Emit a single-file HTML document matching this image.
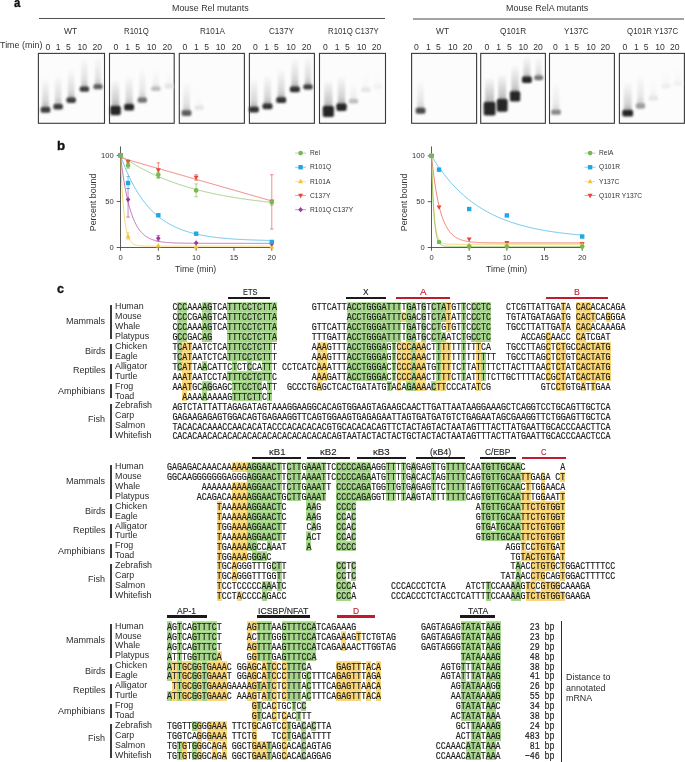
<!DOCTYPE html><html><head><meta charset="utf-8"><style>
*{margin:0;padding:0;box-sizing:border-box}
html,body{width:685px;height:762px;background:#fff;overflow:hidden}
body{position:relative}
.r,.sq,.L{position:absolute;white-space:pre}
.L{font-family:"Liberation Sans", sans-serif;transform-origin:0 0;opacity:0.999}
.sq{opacity:0.999;font-family:"Liberation Mono", monospace;font-size:8.3px;line-height:8.3px;color:#1a1a1a;transform:scaleY(1.27);transform-origin:0 6px;-webkit-text-stroke:0.15px #1a1a1a}
</style></head><body>
<div class="r" style="left:177.38px;top:301.83px;width:9.96px;height:9.94px;background:rgb(165,212,139);box-shadow:inset 0 0.8px rgba(255,255,255,0.3)"></div>
<div class="r" style="left:202.28px;top:301.83px;width:9.96px;height:9.94px;background:rgb(165,212,139);box-shadow:inset 0 0.8px rgba(255,255,255,0.3)"></div>
<div class="r" style="left:227.18px;top:301.83px;width:49.80px;height:9.94px;background:rgb(165,212,139);box-shadow:inset 0 0.8px rgba(255,255,255,0.3)"></div>
<div class="r" style="left:346.70px;top:301.83px;width:54.78px;height:9.94px;background:rgb(165,212,139);box-shadow:inset 0 0.8px rgba(255,255,255,0.3)"></div>
<div class="r" style="left:406.46px;top:301.83px;width:9.96px;height:9.94px;background:rgb(165,212,139);box-shadow:inset 0 0.8px rgba(255,255,255,0.3)"></div>
<div class="r" style="left:421.40px;top:301.83px;width:4.98px;height:9.94px;background:rgb(165,212,139);box-shadow:inset 0 0.8px rgba(255,255,255,0.3)"></div>
<div class="r" style="left:431.36px;top:301.83px;width:14.94px;height:9.94px;background:rgb(165,212,139);box-shadow:inset 0 0.8px rgba(255,255,255,0.3)"></div>
<div class="r" style="left:446.30px;top:301.83px;width:4.98px;height:9.94px;background:rgb(248,213,120);box-shadow:inset 0 0.8px rgba(255,255,255,0.3)"></div>
<div class="r" style="left:461.24px;top:301.83px;width:4.98px;height:9.94px;background:rgb(165,212,139);box-shadow:inset 0 0.8px rgba(255,255,255,0.3)"></div>
<div class="r" style="left:471.20px;top:301.83px;width:19.92px;height:9.94px;background:rgb(165,212,139);box-shadow:inset 0 0.8px rgba(255,255,255,0.3)"></div>
<div class="r" style="left:560.84px;top:301.83px;width:4.98px;height:9.94px;background:rgb(248,213,120);box-shadow:inset 0 0.8px rgba(255,255,255,0.3)"></div>
<div class="r" style="left:575.78px;top:301.83px;width:14.94px;height:9.94px;background:rgb(248,213,120);box-shadow:inset 0 0.8px rgba(255,255,255,0.3)"></div>
<div class="r" style="left:177.38px;top:311.77px;width:9.96px;height:9.94px;background:rgb(165,212,139);box-shadow:inset 0 0.8px rgba(255,255,255,0.3)"></div>
<div class="r" style="left:202.28px;top:311.77px;width:9.96px;height:9.94px;background:rgb(165,212,139);box-shadow:inset 0 0.8px rgba(255,255,255,0.3)"></div>
<div class="r" style="left:227.18px;top:311.77px;width:49.80px;height:9.94px;background:rgb(165,212,139);box-shadow:inset 0 0.8px rgba(255,255,255,0.3)"></div>
<div class="r" style="left:346.70px;top:311.77px;width:54.78px;height:9.94px;background:rgb(165,212,139);box-shadow:inset 0 0.8px rgba(255,255,255,0.3)"></div>
<div class="r" style="left:401.48px;top:311.77px;width:4.98px;height:9.94px;background:rgb(248,213,120);box-shadow:inset 0 0.8px rgba(255,255,255,0.3)"></div>
<div class="r" style="left:406.46px;top:311.77px;width:9.96px;height:9.94px;background:rgb(165,212,139);box-shadow:inset 0 0.8px rgba(255,255,255,0.3)"></div>
<div class="r" style="left:421.40px;top:311.77px;width:4.98px;height:9.94px;background:rgb(165,212,139);box-shadow:inset 0 0.8px rgba(255,255,255,0.3)"></div>
<div class="r" style="left:431.36px;top:311.77px;width:14.94px;height:9.94px;background:rgb(165,212,139);box-shadow:inset 0 0.8px rgba(255,255,255,0.3)"></div>
<div class="r" style="left:446.30px;top:311.77px;width:4.98px;height:9.94px;background:rgb(248,213,120);box-shadow:inset 0 0.8px rgba(255,255,255,0.3)"></div>
<div class="r" style="left:461.24px;top:311.77px;width:4.98px;height:9.94px;background:rgb(165,212,139);box-shadow:inset 0 0.8px rgba(255,255,255,0.3)"></div>
<div class="r" style="left:471.20px;top:311.77px;width:19.92px;height:9.94px;background:rgb(165,212,139);box-shadow:inset 0 0.8px rgba(255,255,255,0.3)"></div>
<div class="r" style="left:560.84px;top:311.77px;width:4.98px;height:9.94px;background:rgb(248,213,120);box-shadow:inset 0 0.8px rgba(255,255,255,0.3)"></div>
<div class="r" style="left:575.78px;top:311.77px;width:19.92px;height:9.94px;background:rgb(248,213,120);box-shadow:inset 0 0.8px rgba(255,255,255,0.3)"></div>
<div class="r" style="left:605.66px;top:311.77px;width:4.98px;height:9.94px;background:rgb(248,213,120);box-shadow:inset 0 0.8px rgba(255,255,255,0.3)"></div>
<div class="r" style="left:177.38px;top:321.71px;width:9.96px;height:9.94px;background:rgb(165,212,139);box-shadow:inset 0 0.8px rgba(255,255,255,0.3)"></div>
<div class="r" style="left:202.28px;top:321.71px;width:9.96px;height:9.94px;background:rgb(165,212,139);box-shadow:inset 0 0.8px rgba(255,255,255,0.3)"></div>
<div class="r" style="left:227.18px;top:321.71px;width:49.80px;height:9.94px;background:rgb(165,212,139);box-shadow:inset 0 0.8px rgba(255,255,255,0.3)"></div>
<div class="r" style="left:346.70px;top:321.71px;width:54.78px;height:9.94px;background:rgb(165,212,139);box-shadow:inset 0 0.8px rgba(255,255,255,0.3)"></div>
<div class="r" style="left:406.46px;top:321.71px;width:9.96px;height:9.94px;background:rgb(165,212,139);box-shadow:inset 0 0.8px rgba(255,255,255,0.3)"></div>
<div class="r" style="left:421.40px;top:321.71px;width:4.98px;height:9.94px;background:rgb(165,212,139);box-shadow:inset 0 0.8px rgba(255,255,255,0.3)"></div>
<div class="r" style="left:431.36px;top:321.71px;width:9.96px;height:9.94px;background:rgb(165,212,139);box-shadow:inset 0 0.8px rgba(255,255,255,0.3)"></div>
<div class="r" style="left:446.30px;top:321.71px;width:4.98px;height:9.94px;background:rgb(248,213,120);box-shadow:inset 0 0.8px rgba(255,255,255,0.3)"></div>
<div class="r" style="left:461.24px;top:321.71px;width:4.98px;height:9.94px;background:rgb(165,212,139);box-shadow:inset 0 0.8px rgba(255,255,255,0.3)"></div>
<div class="r" style="left:471.20px;top:321.71px;width:19.92px;height:9.94px;background:rgb(165,212,139);box-shadow:inset 0 0.8px rgba(255,255,255,0.3)"></div>
<div class="r" style="left:560.84px;top:321.71px;width:4.98px;height:9.94px;background:rgb(248,213,120);box-shadow:inset 0 0.8px rgba(255,255,255,0.3)"></div>
<div class="r" style="left:575.78px;top:321.71px;width:14.94px;height:9.94px;background:rgb(248,213,120);box-shadow:inset 0 0.8px rgba(255,255,255,0.3)"></div>
<div class="r" style="left:177.38px;top:331.65px;width:9.96px;height:9.94px;background:rgb(165,212,139);box-shadow:inset 0 0.8px rgba(255,255,255,0.3)"></div>
<div class="r" style="left:202.28px;top:331.65px;width:9.96px;height:9.94px;background:rgb(165,212,139);box-shadow:inset 0 0.8px rgba(255,255,255,0.3)"></div>
<div class="r" style="left:227.18px;top:331.65px;width:49.80px;height:9.94px;background:rgb(165,212,139);box-shadow:inset 0 0.8px rgba(255,255,255,0.3)"></div>
<div class="r" style="left:346.70px;top:331.65px;width:54.78px;height:9.94px;background:rgb(165,212,139);box-shadow:inset 0 0.8px rgba(255,255,255,0.3)"></div>
<div class="r" style="left:406.46px;top:331.65px;width:9.96px;height:9.94px;background:rgb(165,212,139);box-shadow:inset 0 0.8px rgba(255,255,255,0.3)"></div>
<div class="r" style="left:421.40px;top:331.65px;width:4.98px;height:9.94px;background:rgb(165,212,139);box-shadow:inset 0 0.8px rgba(255,255,255,0.3)"></div>
<div class="r" style="left:431.36px;top:331.65px;width:14.94px;height:9.94px;background:rgb(165,212,139);box-shadow:inset 0 0.8px rgba(255,255,255,0.3)"></div>
<div class="r" style="left:461.24px;top:331.65px;width:4.98px;height:9.94px;background:rgb(165,212,139);box-shadow:inset 0 0.8px rgba(255,255,255,0.3)"></div>
<div class="r" style="left:471.20px;top:331.65px;width:19.92px;height:9.94px;background:rgb(165,212,139);box-shadow:inset 0 0.8px rgba(255,255,255,0.3)"></div>
<div class="r" style="left:545.90px;top:331.65px;width:4.98px;height:9.94px;background:rgb(248,213,120);box-shadow:inset 0 0.8px rgba(255,255,255,0.3)"></div>
<div class="r" style="left:575.78px;top:331.65px;width:9.96px;height:9.94px;background:rgb(248,213,120);box-shadow:inset 0 0.8px rgba(255,255,255,0.3)"></div>
<div class="r" style="left:177.38px;top:341.59px;width:4.98px;height:9.94px;background:rgb(165,212,139);box-shadow:inset 0 0.8px rgba(255,255,255,0.3)"></div>
<div class="r" style="left:182.36px;top:341.59px;width:9.96px;height:9.94px;background:rgb(248,213,120);box-shadow:inset 0 0.8px rgba(255,255,255,0.3)"></div>
<div class="r" style="left:227.18px;top:341.59px;width:44.82px;height:9.94px;background:rgb(165,212,139);box-shadow:inset 0 0.8px rgba(255,255,255,0.3)"></div>
<div class="r" style="left:316.82px;top:341.59px;width:9.96px;height:9.94px;background:rgb(248,213,120);box-shadow:inset 0 0.8px rgba(255,255,255,0.3)"></div>
<div class="r" style="left:346.70px;top:341.59px;width:39.84px;height:9.94px;background:rgb(165,212,139);box-shadow:inset 0 0.8px rgba(255,255,255,0.3)"></div>
<div class="r" style="left:391.52px;top:341.59px;width:4.98px;height:9.94px;background:rgb(165,212,139);box-shadow:inset 0 0.8px rgba(255,255,255,0.3)"></div>
<div class="r" style="left:396.50px;top:341.59px;width:14.94px;height:9.94px;background:rgb(248,213,120);box-shadow:inset 0 0.8px rgba(255,255,255,0.3)"></div>
<div class="r" style="left:411.44px;top:341.59px;width:4.98px;height:9.94px;background:rgb(165,212,139);box-shadow:inset 0 0.8px rgba(255,255,255,0.3)"></div>
<div class="r" style="left:416.42px;top:341.59px;width:9.96px;height:9.94px;background:rgb(248,213,120);box-shadow:inset 0 0.8px rgba(255,255,255,0.3)"></div>
<div class="r" style="left:436.34px;top:341.59px;width:4.98px;height:9.94px;background:rgb(165,212,139);box-shadow:inset 0 0.8px rgba(255,255,255,0.3)"></div>
<div class="r" style="left:441.32px;top:341.59px;width:9.96px;height:9.94px;background:rgb(248,213,120);box-shadow:inset 0 0.8px rgba(255,255,255,0.3)"></div>
<div class="r" style="left:461.24px;top:341.59px;width:4.98px;height:9.94px;background:rgb(165,212,139);box-shadow:inset 0 0.8px rgba(255,255,255,0.3)"></div>
<div class="r" style="left:476.18px;top:341.59px;width:4.98px;height:9.94px;background:rgb(248,213,120);box-shadow:inset 0 0.8px rgba(255,255,255,0.3)"></div>
<div class="r" style="left:545.90px;top:341.59px;width:4.98px;height:9.94px;background:rgb(248,213,120);box-shadow:inset 0 0.8px rgba(255,255,255,0.3)"></div>
<div class="r" style="left:555.86px;top:341.59px;width:9.96px;height:9.94px;background:rgb(248,213,120);box-shadow:inset 0 0.8px rgba(255,255,255,0.3)"></div>
<div class="r" style="left:575.78px;top:341.59px;width:34.86px;height:9.94px;background:rgb(248,213,120);box-shadow:inset 0 0.8px rgba(255,255,255,0.3)"></div>
<div class="r" style="left:177.38px;top:351.53px;width:4.98px;height:9.94px;background:rgb(165,212,139);box-shadow:inset 0 0.8px rgba(255,255,255,0.3)"></div>
<div class="r" style="left:182.36px;top:351.53px;width:9.96px;height:9.94px;background:rgb(248,213,120);box-shadow:inset 0 0.8px rgba(255,255,255,0.3)"></div>
<div class="r" style="left:227.18px;top:351.53px;width:44.82px;height:9.94px;background:rgb(165,212,139);box-shadow:inset 0 0.8px rgba(255,255,255,0.3)"></div>
<div class="r" style="left:316.82px;top:351.53px;width:9.96px;height:9.94px;background:rgb(248,213,120);box-shadow:inset 0 0.8px rgba(255,255,255,0.3)"></div>
<div class="r" style="left:346.70px;top:351.53px;width:39.84px;height:9.94px;background:rgb(165,212,139);box-shadow:inset 0 0.8px rgba(255,255,255,0.3)"></div>
<div class="r" style="left:391.52px;top:351.53px;width:4.98px;height:9.94px;background:rgb(165,212,139);box-shadow:inset 0 0.8px rgba(255,255,255,0.3)"></div>
<div class="r" style="left:396.50px;top:351.53px;width:14.94px;height:9.94px;background:rgb(248,213,120);box-shadow:inset 0 0.8px rgba(255,255,255,0.3)"></div>
<div class="r" style="left:411.44px;top:351.53px;width:4.98px;height:9.94px;background:rgb(165,212,139);box-shadow:inset 0 0.8px rgba(255,255,255,0.3)"></div>
<div class="r" style="left:416.42px;top:351.53px;width:9.96px;height:9.94px;background:rgb(248,213,120);box-shadow:inset 0 0.8px rgba(255,255,255,0.3)"></div>
<div class="r" style="left:436.34px;top:351.53px;width:4.98px;height:9.94px;background:rgb(165,212,139);box-shadow:inset 0 0.8px rgba(255,255,255,0.3)"></div>
<div class="r" style="left:441.32px;top:351.53px;width:9.96px;height:9.94px;background:rgb(248,213,120);box-shadow:inset 0 0.8px rgba(255,255,255,0.3)"></div>
<div class="r" style="left:461.24px;top:351.53px;width:4.98px;height:9.94px;background:rgb(165,212,139);box-shadow:inset 0 0.8px rgba(255,255,255,0.3)"></div>
<div class="r" style="left:476.18px;top:351.53px;width:4.98px;height:9.94px;background:rgb(248,213,120);box-shadow:inset 0 0.8px rgba(255,255,255,0.3)"></div>
<div class="r" style="left:481.16px;top:351.53px;width:4.98px;height:9.94px;background:rgb(165,212,139);box-shadow:inset 0 0.8px rgba(255,255,255,0.3)"></div>
<div class="r" style="left:545.90px;top:351.53px;width:4.98px;height:9.94px;background:rgb(248,213,120);box-shadow:inset 0 0.8px rgba(255,255,255,0.3)"></div>
<div class="r" style="left:555.86px;top:351.53px;width:9.96px;height:9.94px;background:rgb(248,213,120);box-shadow:inset 0 0.8px rgba(255,255,255,0.3)"></div>
<div class="r" style="left:575.78px;top:351.53px;width:34.86px;height:9.94px;background:rgb(248,213,120);box-shadow:inset 0 0.8px rgba(255,255,255,0.3)"></div>
<div class="r" style="left:177.38px;top:361.47px;width:4.98px;height:9.94px;background:rgb(165,212,139);box-shadow:inset 0 0.8px rgba(255,255,255,0.3)"></div>
<div class="r" style="left:182.36px;top:361.47px;width:9.96px;height:9.94px;background:rgb(248,213,120);box-shadow:inset 0 0.8px rgba(255,255,255,0.3)"></div>
<div class="r" style="left:202.28px;top:361.47px;width:4.98px;height:9.94px;background:rgb(165,212,139);box-shadow:inset 0 0.8px rgba(255,255,255,0.3)"></div>
<div class="r" style="left:232.16px;top:361.47px;width:4.98px;height:9.94px;background:rgb(165,212,139);box-shadow:inset 0 0.8px rgba(255,255,255,0.3)"></div>
<div class="r" style="left:247.10px;top:361.47px;width:4.98px;height:9.94px;background:rgb(165,212,139);box-shadow:inset 0 0.8px rgba(255,255,255,0.3)"></div>
<div class="r" style="left:262.04px;top:361.47px;width:9.96px;height:9.94px;background:rgb(165,212,139);box-shadow:inset 0 0.8px rgba(255,255,255,0.3)"></div>
<div class="r" style="left:316.82px;top:361.47px;width:9.96px;height:9.94px;background:rgb(248,213,120);box-shadow:inset 0 0.8px rgba(255,255,255,0.3)"></div>
<div class="r" style="left:346.70px;top:361.47px;width:39.84px;height:9.94px;background:rgb(165,212,139);box-shadow:inset 0 0.8px rgba(255,255,255,0.3)"></div>
<div class="r" style="left:391.52px;top:361.47px;width:4.98px;height:9.94px;background:rgb(165,212,139);box-shadow:inset 0 0.8px rgba(255,255,255,0.3)"></div>
<div class="r" style="left:396.50px;top:361.47px;width:14.94px;height:9.94px;background:rgb(248,213,120);box-shadow:inset 0 0.8px rgba(255,255,255,0.3)"></div>
<div class="r" style="left:411.44px;top:361.47px;width:4.98px;height:9.94px;background:rgb(165,212,139);box-shadow:inset 0 0.8px rgba(255,255,255,0.3)"></div>
<div class="r" style="left:416.42px;top:361.47px;width:9.96px;height:9.94px;background:rgb(248,213,120);box-shadow:inset 0 0.8px rgba(255,255,255,0.3)"></div>
<div class="r" style="left:436.34px;top:361.47px;width:4.98px;height:9.94px;background:rgb(165,212,139);box-shadow:inset 0 0.8px rgba(255,255,255,0.3)"></div>
<div class="r" style="left:441.32px;top:361.47px;width:9.96px;height:9.94px;background:rgb(248,213,120);box-shadow:inset 0 0.8px rgba(255,255,255,0.3)"></div>
<div class="r" style="left:461.24px;top:361.47px;width:4.98px;height:9.94px;background:rgb(165,212,139);box-shadow:inset 0 0.8px rgba(255,255,255,0.3)"></div>
<div class="r" style="left:476.18px;top:361.47px;width:4.98px;height:9.94px;background:rgb(248,213,120);box-shadow:inset 0 0.8px rgba(255,255,255,0.3)"></div>
<div class="r" style="left:481.16px;top:361.47px;width:4.98px;height:9.94px;background:rgb(165,212,139);box-shadow:inset 0 0.8px rgba(255,255,255,0.3)"></div>
<div class="r" style="left:545.90px;top:361.47px;width:4.98px;height:9.94px;background:rgb(248,213,120);box-shadow:inset 0 0.8px rgba(255,255,255,0.3)"></div>
<div class="r" style="left:555.86px;top:361.47px;width:9.96px;height:9.94px;background:rgb(248,213,120);box-shadow:inset 0 0.8px rgba(255,255,255,0.3)"></div>
<div class="r" style="left:575.78px;top:361.47px;width:34.86px;height:9.94px;background:rgb(248,213,120);box-shadow:inset 0 0.8px rgba(255,255,255,0.3)"></div>
<div class="r" style="left:182.36px;top:371.41px;width:9.96px;height:9.94px;background:rgb(248,213,120);box-shadow:inset 0 0.8px rgba(255,255,255,0.3)"></div>
<div class="r" style="left:227.18px;top:371.41px;width:44.82px;height:9.94px;background:rgb(165,212,139);box-shadow:inset 0 0.8px rgba(255,255,255,0.3)"></div>
<div class="r" style="left:316.82px;top:371.41px;width:9.96px;height:9.94px;background:rgb(248,213,120);box-shadow:inset 0 0.8px rgba(255,255,255,0.3)"></div>
<div class="r" style="left:346.70px;top:371.41px;width:39.84px;height:9.94px;background:rgb(165,212,139);box-shadow:inset 0 0.8px rgba(255,255,255,0.3)"></div>
<div class="r" style="left:391.52px;top:371.41px;width:4.98px;height:9.94px;background:rgb(165,212,139);box-shadow:inset 0 0.8px rgba(255,255,255,0.3)"></div>
<div class="r" style="left:396.50px;top:371.41px;width:14.94px;height:9.94px;background:rgb(248,213,120);box-shadow:inset 0 0.8px rgba(255,255,255,0.3)"></div>
<div class="r" style="left:411.44px;top:371.41px;width:4.98px;height:9.94px;background:rgb(165,212,139);box-shadow:inset 0 0.8px rgba(255,255,255,0.3)"></div>
<div class="r" style="left:416.42px;top:371.41px;width:9.96px;height:9.94px;background:rgb(248,213,120);box-shadow:inset 0 0.8px rgba(255,255,255,0.3)"></div>
<div class="r" style="left:436.34px;top:371.41px;width:4.98px;height:9.94px;background:rgb(165,212,139);box-shadow:inset 0 0.8px rgba(255,255,255,0.3)"></div>
<div class="r" style="left:441.32px;top:371.41px;width:9.96px;height:9.94px;background:rgb(248,213,120);box-shadow:inset 0 0.8px rgba(255,255,255,0.3)"></div>
<div class="r" style="left:461.24px;top:371.41px;width:4.98px;height:9.94px;background:rgb(165,212,139);box-shadow:inset 0 0.8px rgba(255,255,255,0.3)"></div>
<div class="r" style="left:476.18px;top:371.41px;width:4.98px;height:9.94px;background:rgb(248,213,120);box-shadow:inset 0 0.8px rgba(255,255,255,0.3)"></div>
<div class="r" style="left:481.16px;top:371.41px;width:4.98px;height:9.94px;background:rgb(165,212,139);box-shadow:inset 0 0.8px rgba(255,255,255,0.3)"></div>
<div class="r" style="left:545.90px;top:371.41px;width:4.98px;height:9.94px;background:rgb(248,213,120);box-shadow:inset 0 0.8px rgba(255,255,255,0.3)"></div>
<div class="r" style="left:555.86px;top:371.41px;width:9.96px;height:9.94px;background:rgb(248,213,120);box-shadow:inset 0 0.8px rgba(255,255,255,0.3)"></div>
<div class="r" style="left:575.78px;top:371.41px;width:34.86px;height:9.94px;background:rgb(248,213,120);box-shadow:inset 0 0.8px rgba(255,255,255,0.3)"></div>
<div class="r" style="left:182.36px;top:381.35px;width:9.96px;height:9.94px;background:rgb(248,213,120);box-shadow:inset 0 0.8px rgba(255,255,255,0.3)"></div>
<div class="r" style="left:202.28px;top:381.35px;width:9.96px;height:9.94px;background:rgb(165,212,139);box-shadow:inset 0 0.8px rgba(255,255,255,0.3)"></div>
<div class="r" style="left:232.16px;top:381.35px;width:29.88px;height:9.94px;background:rgb(165,212,139);box-shadow:inset 0 0.8px rgba(255,255,255,0.3)"></div>
<div class="r" style="left:267.02px;top:381.35px;width:4.98px;height:9.94px;background:rgb(165,212,139);box-shadow:inset 0 0.8px rgba(255,255,255,0.3)"></div>
<div class="r" style="left:316.82px;top:381.35px;width:4.98px;height:9.94px;background:rgb(248,213,120);box-shadow:inset 0 0.8px rgba(255,255,255,0.3)"></div>
<div class="r" style="left:386.54px;top:381.35px;width:4.98px;height:9.94px;background:rgb(165,212,139);box-shadow:inset 0 0.8px rgba(255,255,255,0.3)"></div>
<div class="r" style="left:396.50px;top:381.35px;width:4.98px;height:9.94px;background:rgb(248,213,120);box-shadow:inset 0 0.8px rgba(255,255,255,0.3)"></div>
<div class="r" style="left:406.46px;top:381.35px;width:9.96px;height:9.94px;background:rgb(165,212,139);box-shadow:inset 0 0.8px rgba(255,255,255,0.3)"></div>
<div class="r" style="left:416.42px;top:381.35px;width:9.96px;height:9.94px;background:rgb(248,213,120);box-shadow:inset 0 0.8px rgba(255,255,255,0.3)"></div>
<div class="r" style="left:431.36px;top:381.35px;width:4.98px;height:9.94px;background:rgb(165,212,139);box-shadow:inset 0 0.8px rgba(255,255,255,0.3)"></div>
<div class="r" style="left:436.34px;top:381.35px;width:9.96px;height:9.94px;background:rgb(248,213,120);box-shadow:inset 0 0.8px rgba(255,255,255,0.3)"></div>
<div class="r" style="left:476.18px;top:381.35px;width:4.98px;height:9.94px;background:rgb(248,213,120);box-shadow:inset 0 0.8px rgba(255,255,255,0.3)"></div>
<div class="r" style="left:555.86px;top:381.35px;width:9.96px;height:9.94px;background:rgb(248,213,120);box-shadow:inset 0 0.8px rgba(255,255,255,0.3)"></div>
<div class="r" style="left:580.76px;top:381.35px;width:4.98px;height:9.94px;background:rgb(248,213,120);box-shadow:inset 0 0.8px rgba(255,255,255,0.3)"></div>
<div class="r" style="left:590.72px;top:381.35px;width:4.98px;height:9.94px;background:rgb(248,213,120);box-shadow:inset 0 0.8px rgba(255,255,255,0.3)"></div>
<div class="r" style="left:182.36px;top:391.29px;width:4.98px;height:9.94px;background:rgb(248,213,120);box-shadow:inset 0 0.8px rgba(255,255,255,0.3)"></div>
<div class="r" style="left:202.28px;top:391.29px;width:4.98px;height:9.94px;background:rgb(165,212,139);box-shadow:inset 0 0.8px rgba(255,255,255,0.3)"></div>
<div class="r" style="left:232.16px;top:391.29px;width:29.88px;height:9.94px;background:rgb(165,212,139);box-shadow:inset 0 0.8px rgba(255,255,255,0.3)"></div>
<div class="r" style="left:267.02px;top:391.29px;width:4.98px;height:9.94px;background:rgb(165,212,139);box-shadow:inset 0 0.8px rgba(255,255,255,0.3)"></div>
<div class="sq" style="left:172.40px;top:304.24px">CCCAAAAGTCATTTCCTCTTA       GTTCATTACCTGGGATTTTGATGTCTATGTTCCCTC   CTCGTTATTGATA CACACACAGA</div>
<div class="sq" style="left:172.40px;top:314.18px">CCCCGAAGTCATTTCCTCTTA              ACCTGGGATTTCGACGTCTATATTCCCTC   TGTATGATAGATG CACTCAGGGA</div>
<div class="sq" style="left:172.40px;top:324.12px">CCCAAAAGTCATTTCCTCTTA       GTTCATTACCTGGGATTTTGATGCCTGTGTTCCCTC   TGCCTTATTGATA CACACAAAGA</div>
<div class="sq" style="left:172.40px;top:334.06px">GCCGACAG   TTTCCTCTTA       TTTGATTACCTGGGATTTTGATGCCTAATCTGCCTC      ACCAGCAACC CATCGAT</div>
<div class="sq" style="left:172.40px;top:344.00px">TCATAATCTCATTTCCTCTTT       AAAGTTTACCTGGGAGTCCCAAACTTTTTTTTTTCA   TGCCTTAGCTCTGCCACTATG</div>
<div class="sq" style="left:172.40px;top:353.94px">TCATAATCTCATTTCCTCTTT       AAAGTTTACCTGGGAGTCCCAAACTTTTTTTTTTTTT  TGCCTTAGCTCTGTCACTATG</div>
<div class="sq" style="left:172.40px;top:363.88px">TCATTAACATTCTCTCCATTT CCTCATCAAATTTACCTGGGACTCCCAAATGTTTTCTTATTTTCTTACTTTAACTCTATCACTATG</div>
<div class="sq" style="left:172.40px;top:373.82px">AAATAATCCTATTTCCTCTTC       AAAGATTACCTGGGACTCCCAAACTTTTCTTATTTTCTTGCTTTTACCGCTATCACTATG</div>
<div class="sq" style="left:172.40px;top:383.76px">AAATGCAGGAGCTTCCTCATT  GCCCTGAGCTCACTGATATGTACAGAAAACTTCCCATATCG          GTCCTGTGATTGAA</div>
<div class="sq" style="left:172.40px;top:393.70px">  AAAAAAAAAGTTTCTTCT</div>
<div class="sq" style="left:172.40px;top:403.64px">AGTCTATTATTAGAGATAGTAAAGGAAGGCACAGTGGAAGTAGAAGCAACTTGATTAATAAGGAAAGCTCAGGTCCTGCAGTTGCTCA</div>
<div class="sq" style="left:172.40px;top:413.58px">GAGAAGAGAGTGGACAGTGAGAAGGTTCAGTGGAAGTGAGAGAATTAGTGATGATGTCTGAGAATAGCGAAGGTTCTGGAGTTGCTCA</div>
<div class="sq" style="left:172.40px;top:423.52px">TACACACAAACCAACACATACCCACACACACGTGCACACACAGTTCTACTAGTACTAATAGTTTACTTATGAATTGCACCCAACTTCA</div>
<div class="sq" style="left:172.40px;top:433.46px">CACACAACACACACACACACACACACACACACAGTAATACTACTACTGCTACTACTAATAGTTTACTTATGAATTGCACCCAACTCCA</div>
<div class="r" style="left:231.74px;top:461.63px;width:14.94px;height:9.94px;background:rgb(248,213,120);box-shadow:inset 0 0.8px rgba(255,255,255,0.3)"></div>
<div class="r" style="left:246.68px;top:461.63px;width:34.86px;height:9.94px;background:rgb(165,212,139);box-shadow:inset 0 0.8px rgba(255,255,255,0.3)"></div>
<div class="r" style="left:286.52px;top:461.63px;width:14.94px;height:9.94px;background:rgb(165,212,139);box-shadow:inset 0 0.8px rgba(255,255,255,0.3)"></div>
<div class="r" style="left:306.44px;top:461.63px;width:19.92px;height:9.94px;background:rgb(165,212,139);box-shadow:inset 0 0.8px rgba(255,255,255,0.3)"></div>
<div class="r" style="left:336.32px;top:461.63px;width:34.86px;height:9.94px;background:rgb(165,212,139);box-shadow:inset 0 0.8px rgba(255,255,255,0.3)"></div>
<div class="r" style="left:386.12px;top:461.63px;width:9.96px;height:9.94px;background:rgb(165,212,139);box-shadow:inset 0 0.8px rgba(255,255,255,0.3)"></div>
<div class="r" style="left:401.06px;top:461.63px;width:4.98px;height:9.94px;background:rgb(165,212,139);box-shadow:inset 0 0.8px rgba(255,255,255,0.3)"></div>
<div class="r" style="left:411.02px;top:461.63px;width:4.98px;height:9.94px;background:rgb(165,212,139);box-shadow:inset 0 0.8px rgba(255,255,255,0.3)"></div>
<div class="r" style="left:430.94px;top:461.63px;width:4.98px;height:9.94px;background:rgb(165,212,139);box-shadow:inset 0 0.8px rgba(255,255,255,0.3)"></div>
<div class="r" style="left:445.88px;top:461.63px;width:19.92px;height:9.94px;background:rgb(165,212,139);box-shadow:inset 0 0.8px rgba(255,255,255,0.3)"></div>
<div class="r" style="left:480.74px;top:461.63px;width:39.84px;height:9.94px;background:rgb(165,212,139);box-shadow:inset 0 0.8px rgba(255,255,255,0.3)"></div>
<div class="r" style="left:246.68px;top:471.57px;width:34.86px;height:9.94px;background:rgb(165,212,139);box-shadow:inset 0 0.8px rgba(255,255,255,0.3)"></div>
<div class="r" style="left:286.52px;top:471.57px;width:14.94px;height:9.94px;background:rgb(165,212,139);box-shadow:inset 0 0.8px rgba(255,255,255,0.3)"></div>
<div class="r" style="left:306.44px;top:471.57px;width:19.92px;height:9.94px;background:rgb(165,212,139);box-shadow:inset 0 0.8px rgba(255,255,255,0.3)"></div>
<div class="r" style="left:336.32px;top:471.57px;width:34.86px;height:9.94px;background:rgb(165,212,139);box-shadow:inset 0 0.8px rgba(255,255,255,0.3)"></div>
<div class="r" style="left:386.12px;top:471.57px;width:9.96px;height:9.94px;background:rgb(165,212,139);box-shadow:inset 0 0.8px rgba(255,255,255,0.3)"></div>
<div class="r" style="left:401.06px;top:471.57px;width:4.98px;height:9.94px;background:rgb(165,212,139);box-shadow:inset 0 0.8px rgba(255,255,255,0.3)"></div>
<div class="r" style="left:411.02px;top:471.57px;width:4.98px;height:9.94px;background:rgb(165,212,139);box-shadow:inset 0 0.8px rgba(255,255,255,0.3)"></div>
<div class="r" style="left:430.94px;top:471.57px;width:4.98px;height:9.94px;background:rgb(165,212,139);box-shadow:inset 0 0.8px rgba(255,255,255,0.3)"></div>
<div class="r" style="left:445.88px;top:471.57px;width:19.92px;height:9.94px;background:rgb(165,212,139);box-shadow:inset 0 0.8px rgba(255,255,255,0.3)"></div>
<div class="r" style="left:480.74px;top:471.57px;width:39.84px;height:9.94px;background:rgb(165,212,139);box-shadow:inset 0 0.8px rgba(255,255,255,0.3)"></div>
<div class="r" style="left:520.58px;top:471.57px;width:9.96px;height:9.94px;background:rgb(248,213,120);box-shadow:inset 0 0.8px rgba(255,255,255,0.3)"></div>
<div class="r" style="left:540.50px;top:471.57px;width:4.98px;height:9.94px;background:rgb(248,213,120);box-shadow:inset 0 0.8px rgba(255,255,255,0.3)"></div>
<div class="r" style="left:560.42px;top:471.57px;width:4.98px;height:9.94px;background:rgb(248,213,120);box-shadow:inset 0 0.8px rgba(255,255,255,0.3)"></div>
<div class="r" style="left:231.74px;top:481.51px;width:14.94px;height:9.94px;background:rgb(248,213,120);box-shadow:inset 0 0.8px rgba(255,255,255,0.3)"></div>
<div class="r" style="left:246.68px;top:481.51px;width:34.86px;height:9.94px;background:rgb(165,212,139);box-shadow:inset 0 0.8px rgba(255,255,255,0.3)"></div>
<div class="r" style="left:286.52px;top:481.51px;width:14.94px;height:9.94px;background:rgb(165,212,139);box-shadow:inset 0 0.8px rgba(255,255,255,0.3)"></div>
<div class="r" style="left:306.44px;top:481.51px;width:19.92px;height:9.94px;background:rgb(165,212,139);box-shadow:inset 0 0.8px rgba(255,255,255,0.3)"></div>
<div class="r" style="left:336.32px;top:481.51px;width:34.86px;height:9.94px;background:rgb(165,212,139);box-shadow:inset 0 0.8px rgba(255,255,255,0.3)"></div>
<div class="r" style="left:386.12px;top:481.51px;width:9.96px;height:9.94px;background:rgb(165,212,139);box-shadow:inset 0 0.8px rgba(255,255,255,0.3)"></div>
<div class="r" style="left:401.06px;top:481.51px;width:4.98px;height:9.94px;background:rgb(165,212,139);box-shadow:inset 0 0.8px rgba(255,255,255,0.3)"></div>
<div class="r" style="left:411.02px;top:481.51px;width:4.98px;height:9.94px;background:rgb(165,212,139);box-shadow:inset 0 0.8px rgba(255,255,255,0.3)"></div>
<div class="r" style="left:430.94px;top:481.51px;width:4.98px;height:9.94px;background:rgb(165,212,139);box-shadow:inset 0 0.8px rgba(255,255,255,0.3)"></div>
<div class="r" style="left:445.88px;top:481.51px;width:19.92px;height:9.94px;background:rgb(165,212,139);box-shadow:inset 0 0.8px rgba(255,255,255,0.3)"></div>
<div class="r" style="left:480.74px;top:481.51px;width:39.84px;height:9.94px;background:rgb(165,212,139);box-shadow:inset 0 0.8px rgba(255,255,255,0.3)"></div>
<div class="r" style="left:525.56px;top:481.51px;width:4.98px;height:9.94px;background:rgb(248,213,120);box-shadow:inset 0 0.8px rgba(255,255,255,0.3)"></div>
<div class="r" style="left:540.50px;top:481.51px;width:4.98px;height:9.94px;background:rgb(248,213,120);box-shadow:inset 0 0.8px rgba(255,255,255,0.3)"></div>
<div class="r" style="left:231.74px;top:491.45px;width:14.94px;height:9.94px;background:rgb(248,213,120);box-shadow:inset 0 0.8px rgba(255,255,255,0.3)"></div>
<div class="r" style="left:246.68px;top:491.45px;width:34.86px;height:9.94px;background:rgb(165,212,139);box-shadow:inset 0 0.8px rgba(255,255,255,0.3)"></div>
<div class="r" style="left:286.52px;top:491.45px;width:14.94px;height:9.94px;background:rgb(165,212,139);box-shadow:inset 0 0.8px rgba(255,255,255,0.3)"></div>
<div class="r" style="left:306.44px;top:491.45px;width:19.92px;height:9.94px;background:rgb(165,212,139);box-shadow:inset 0 0.8px rgba(255,255,255,0.3)"></div>
<div class="r" style="left:336.32px;top:491.45px;width:34.86px;height:9.94px;background:rgb(165,212,139);box-shadow:inset 0 0.8px rgba(255,255,255,0.3)"></div>
<div class="r" style="left:386.12px;top:491.45px;width:9.96px;height:9.94px;background:rgb(165,212,139);box-shadow:inset 0 0.8px rgba(255,255,255,0.3)"></div>
<div class="r" style="left:401.06px;top:491.45px;width:4.98px;height:9.94px;background:rgb(165,212,139);box-shadow:inset 0 0.8px rgba(255,255,255,0.3)"></div>
<div class="r" style="left:411.02px;top:491.45px;width:4.98px;height:9.94px;background:rgb(165,212,139);box-shadow:inset 0 0.8px rgba(255,255,255,0.3)"></div>
<div class="r" style="left:430.94px;top:491.45px;width:4.98px;height:9.94px;background:rgb(165,212,139);box-shadow:inset 0 0.8px rgba(255,255,255,0.3)"></div>
<div class="r" style="left:445.88px;top:491.45px;width:19.92px;height:9.94px;background:rgb(165,212,139);box-shadow:inset 0 0.8px rgba(255,255,255,0.3)"></div>
<div class="r" style="left:480.74px;top:491.45px;width:39.84px;height:9.94px;background:rgb(165,212,139);box-shadow:inset 0 0.8px rgba(255,255,255,0.3)"></div>
<div class="r" style="left:520.58px;top:491.45px;width:9.96px;height:9.94px;background:rgb(248,213,120);box-shadow:inset 0 0.8px rgba(255,255,255,0.3)"></div>
<div class="r" style="left:540.50px;top:491.45px;width:4.98px;height:9.94px;background:rgb(248,213,120);box-shadow:inset 0 0.8px rgba(255,255,255,0.3)"></div>
<div class="r" style="left:560.42px;top:491.45px;width:4.98px;height:9.94px;background:rgb(248,213,120);box-shadow:inset 0 0.8px rgba(255,255,255,0.3)"></div>
<div class="r" style="left:216.80px;top:501.39px;width:4.98px;height:9.94px;background:rgb(248,213,120);box-shadow:inset 0 0.8px rgba(255,255,255,0.3)"></div>
<div class="r" style="left:231.74px;top:501.39px;width:14.94px;height:9.94px;background:rgb(248,213,120);box-shadow:inset 0 0.8px rgba(255,255,255,0.3)"></div>
<div class="r" style="left:246.68px;top:501.39px;width:34.86px;height:9.94px;background:rgb(165,212,139);box-shadow:inset 0 0.8px rgba(255,255,255,0.3)"></div>
<div class="r" style="left:306.44px;top:501.39px;width:9.96px;height:9.94px;background:rgb(165,212,139);box-shadow:inset 0 0.8px rgba(255,255,255,0.3)"></div>
<div class="r" style="left:336.32px;top:501.39px;width:19.92px;height:9.94px;background:rgb(165,212,139);box-shadow:inset 0 0.8px rgba(255,255,255,0.3)"></div>
<div class="r" style="left:480.74px;top:501.39px;width:39.84px;height:9.94px;background:rgb(165,212,139);box-shadow:inset 0 0.8px rgba(255,255,255,0.3)"></div>
<div class="r" style="left:520.58px;top:501.39px;width:44.82px;height:9.94px;background:rgb(248,213,120);box-shadow:inset 0 0.8px rgba(255,255,255,0.3)"></div>
<div class="r" style="left:216.80px;top:511.33px;width:4.98px;height:9.94px;background:rgb(248,213,120);box-shadow:inset 0 0.8px rgba(255,255,255,0.3)"></div>
<div class="r" style="left:231.74px;top:511.33px;width:14.94px;height:9.94px;background:rgb(248,213,120);box-shadow:inset 0 0.8px rgba(255,255,255,0.3)"></div>
<div class="r" style="left:246.68px;top:511.33px;width:34.86px;height:9.94px;background:rgb(165,212,139);box-shadow:inset 0 0.8px rgba(255,255,255,0.3)"></div>
<div class="r" style="left:306.44px;top:511.33px;width:9.96px;height:9.94px;background:rgb(165,212,139);box-shadow:inset 0 0.8px rgba(255,255,255,0.3)"></div>
<div class="r" style="left:336.32px;top:511.33px;width:9.96px;height:9.94px;background:rgb(165,212,139);box-shadow:inset 0 0.8px rgba(255,255,255,0.3)"></div>
<div class="r" style="left:351.26px;top:511.33px;width:4.98px;height:9.94px;background:rgb(165,212,139);box-shadow:inset 0 0.8px rgba(255,255,255,0.3)"></div>
<div class="r" style="left:480.74px;top:511.33px;width:39.84px;height:9.94px;background:rgb(165,212,139);box-shadow:inset 0 0.8px rgba(255,255,255,0.3)"></div>
<div class="r" style="left:520.58px;top:511.33px;width:44.82px;height:9.94px;background:rgb(248,213,120);box-shadow:inset 0 0.8px rgba(255,255,255,0.3)"></div>
<div class="r" style="left:216.80px;top:521.27px;width:4.98px;height:9.94px;background:rgb(248,213,120);box-shadow:inset 0 0.8px rgba(255,255,255,0.3)"></div>
<div class="r" style="left:231.74px;top:521.27px;width:14.94px;height:9.94px;background:rgb(248,213,120);box-shadow:inset 0 0.8px rgba(255,255,255,0.3)"></div>
<div class="r" style="left:246.68px;top:521.27px;width:34.86px;height:9.94px;background:rgb(165,212,139);box-shadow:inset 0 0.8px rgba(255,255,255,0.3)"></div>
<div class="r" style="left:311.42px;top:521.27px;width:4.98px;height:9.94px;background:rgb(165,212,139);box-shadow:inset 0 0.8px rgba(255,255,255,0.3)"></div>
<div class="r" style="left:336.32px;top:521.27px;width:9.96px;height:9.94px;background:rgb(165,212,139);box-shadow:inset 0 0.8px rgba(255,255,255,0.3)"></div>
<div class="r" style="left:351.26px;top:521.27px;width:4.98px;height:9.94px;background:rgb(165,212,139);box-shadow:inset 0 0.8px rgba(255,255,255,0.3)"></div>
<div class="r" style="left:480.74px;top:521.27px;width:9.96px;height:9.94px;background:rgb(165,212,139);box-shadow:inset 0 0.8px rgba(255,255,255,0.3)"></div>
<div class="r" style="left:495.68px;top:521.27px;width:24.90px;height:9.94px;background:rgb(165,212,139);box-shadow:inset 0 0.8px rgba(255,255,255,0.3)"></div>
<div class="r" style="left:520.58px;top:521.27px;width:44.82px;height:9.94px;background:rgb(248,213,120);box-shadow:inset 0 0.8px rgba(255,255,255,0.3)"></div>
<div class="r" style="left:216.80px;top:531.21px;width:4.98px;height:9.94px;background:rgb(248,213,120);box-shadow:inset 0 0.8px rgba(255,255,255,0.3)"></div>
<div class="r" style="left:231.74px;top:531.21px;width:14.94px;height:9.94px;background:rgb(248,213,120);box-shadow:inset 0 0.8px rgba(255,255,255,0.3)"></div>
<div class="r" style="left:246.68px;top:531.21px;width:34.86px;height:9.94px;background:rgb(165,212,139);box-shadow:inset 0 0.8px rgba(255,255,255,0.3)"></div>
<div class="r" style="left:306.44px;top:531.21px;width:4.98px;height:9.94px;background:rgb(165,212,139);box-shadow:inset 0 0.8px rgba(255,255,255,0.3)"></div>
<div class="r" style="left:336.32px;top:531.21px;width:9.96px;height:9.94px;background:rgb(165,212,139);box-shadow:inset 0 0.8px rgba(255,255,255,0.3)"></div>
<div class="r" style="left:351.26px;top:531.21px;width:4.98px;height:9.94px;background:rgb(165,212,139);box-shadow:inset 0 0.8px rgba(255,255,255,0.3)"></div>
<div class="r" style="left:480.74px;top:531.21px;width:39.84px;height:9.94px;background:rgb(165,212,139);box-shadow:inset 0 0.8px rgba(255,255,255,0.3)"></div>
<div class="r" style="left:520.58px;top:531.21px;width:44.82px;height:9.94px;background:rgb(248,213,120);box-shadow:inset 0 0.8px rgba(255,255,255,0.3)"></div>
<div class="r" style="left:216.80px;top:541.15px;width:4.98px;height:9.94px;background:rgb(248,213,120);box-shadow:inset 0 0.8px rgba(255,255,255,0.3)"></div>
<div class="r" style="left:231.74px;top:541.15px;width:14.94px;height:9.94px;background:rgb(248,213,120);box-shadow:inset 0 0.8px rgba(255,255,255,0.3)"></div>
<div class="r" style="left:246.68px;top:541.15px;width:9.96px;height:9.94px;background:rgb(165,212,139);box-shadow:inset 0 0.8px rgba(255,255,255,0.3)"></div>
<div class="r" style="left:266.60px;top:541.15px;width:4.98px;height:9.94px;background:rgb(165,212,139);box-shadow:inset 0 0.8px rgba(255,255,255,0.3)"></div>
<div class="r" style="left:306.44px;top:541.15px;width:4.98px;height:9.94px;background:rgb(165,212,139);box-shadow:inset 0 0.8px rgba(255,255,255,0.3)"></div>
<div class="r" style="left:336.32px;top:541.15px;width:19.92px;height:9.94px;background:rgb(165,212,139);box-shadow:inset 0 0.8px rgba(255,255,255,0.3)"></div>
<div class="r" style="left:520.58px;top:541.15px;width:4.98px;height:9.94px;background:rgb(248,213,120);box-shadow:inset 0 0.8px rgba(255,255,255,0.3)"></div>
<div class="r" style="left:530.54px;top:541.15px;width:24.90px;height:9.94px;background:rgb(248,213,120);box-shadow:inset 0 0.8px rgba(255,255,255,0.3)"></div>
<div class="r" style="left:560.42px;top:541.15px;width:4.98px;height:9.94px;background:rgb(248,213,120);box-shadow:inset 0 0.8px rgba(255,255,255,0.3)"></div>
<div class="r" style="left:216.80px;top:551.09px;width:4.98px;height:9.94px;background:rgb(248,213,120);box-shadow:inset 0 0.8px rgba(255,255,255,0.3)"></div>
<div class="r" style="left:231.74px;top:551.09px;width:14.94px;height:9.94px;background:rgb(248,213,120);box-shadow:inset 0 0.8px rgba(255,255,255,0.3)"></div>
<div class="r" style="left:251.66px;top:551.09px;width:14.94px;height:9.94px;background:rgb(165,212,139);box-shadow:inset 0 0.8px rgba(255,255,255,0.3)"></div>
<div class="r" style="left:520.58px;top:551.09px;width:9.96px;height:9.94px;background:rgb(248,213,120);box-shadow:inset 0 0.8px rgba(255,255,255,0.3)"></div>
<div class="r" style="left:530.54px;top:551.09px;width:24.90px;height:9.94px;background:rgb(248,213,120);box-shadow:inset 0 0.8px rgba(255,255,255,0.3)"></div>
<div class="r" style="left:560.42px;top:551.09px;width:4.98px;height:9.94px;background:rgb(248,213,120);box-shadow:inset 0 0.8px rgba(255,255,255,0.3)"></div>
<div class="r" style="left:216.80px;top:561.03px;width:4.98px;height:9.94px;background:rgb(248,213,120);box-shadow:inset 0 0.8px rgba(255,255,255,0.3)"></div>
<div class="r" style="left:231.74px;top:561.03px;width:4.98px;height:9.94px;background:rgb(248,213,120);box-shadow:inset 0 0.8px rgba(255,255,255,0.3)"></div>
<div class="r" style="left:271.58px;top:561.03px;width:9.96px;height:9.94px;background:rgb(165,212,139);box-shadow:inset 0 0.8px rgba(255,255,255,0.3)"></div>
<div class="r" style="left:336.32px;top:561.03px;width:9.96px;height:9.94px;background:rgb(165,212,139);box-shadow:inset 0 0.8px rgba(255,255,255,0.3)"></div>
<div class="r" style="left:351.26px;top:561.03px;width:4.98px;height:9.94px;background:rgb(165,212,139);box-shadow:inset 0 0.8px rgba(255,255,255,0.3)"></div>
<div class="r" style="left:515.60px;top:561.03px;width:4.98px;height:9.94px;background:rgb(165,212,139);box-shadow:inset 0 0.8px rgba(255,255,255,0.3)"></div>
<div class="r" style="left:530.54px;top:561.03px;width:24.90px;height:9.94px;background:rgb(248,213,120);box-shadow:inset 0 0.8px rgba(255,255,255,0.3)"></div>
<div class="r" style="left:560.42px;top:561.03px;width:4.98px;height:9.94px;background:rgb(248,213,120);box-shadow:inset 0 0.8px rgba(255,255,255,0.3)"></div>
<div class="r" style="left:216.80px;top:570.97px;width:4.98px;height:9.94px;background:rgb(248,213,120);box-shadow:inset 0 0.8px rgba(255,255,255,0.3)"></div>
<div class="r" style="left:231.74px;top:570.97px;width:4.98px;height:9.94px;background:rgb(248,213,120);box-shadow:inset 0 0.8px rgba(255,255,255,0.3)"></div>
<div class="r" style="left:276.56px;top:570.97px;width:4.98px;height:9.94px;background:rgb(165,212,139);box-shadow:inset 0 0.8px rgba(255,255,255,0.3)"></div>
<div class="r" style="left:336.32px;top:570.97px;width:9.96px;height:9.94px;background:rgb(165,212,139);box-shadow:inset 0 0.8px rgba(255,255,255,0.3)"></div>
<div class="r" style="left:351.26px;top:570.97px;width:4.98px;height:9.94px;background:rgb(165,212,139);box-shadow:inset 0 0.8px rgba(255,255,255,0.3)"></div>
<div class="r" style="left:515.60px;top:570.97px;width:4.98px;height:9.94px;background:rgb(165,212,139);box-shadow:inset 0 0.8px rgba(255,255,255,0.3)"></div>
<div class="r" style="left:530.54px;top:570.97px;width:14.94px;height:9.94px;background:rgb(248,213,120);box-shadow:inset 0 0.8px rgba(255,255,255,0.3)"></div>
<div class="r" style="left:560.42px;top:570.97px;width:4.98px;height:9.94px;background:rgb(248,213,120);box-shadow:inset 0 0.8px rgba(255,255,255,0.3)"></div>
<div class="r" style="left:216.80px;top:580.91px;width:4.98px;height:9.94px;background:rgb(248,213,120);box-shadow:inset 0 0.8px rgba(255,255,255,0.3)"></div>
<div class="r" style="left:261.62px;top:580.91px;width:9.96px;height:9.94px;background:rgb(165,212,139);box-shadow:inset 0 0.8px rgba(255,255,255,0.3)"></div>
<div class="r" style="left:276.56px;top:580.91px;width:4.98px;height:9.94px;background:rgb(165,212,139);box-shadow:inset 0 0.8px rgba(255,255,255,0.3)"></div>
<div class="r" style="left:336.32px;top:580.91px;width:14.94px;height:9.94px;background:rgb(165,212,139);box-shadow:inset 0 0.8px rgba(255,255,255,0.3)"></div>
<div class="r" style="left:485.72px;top:580.91px;width:4.98px;height:9.94px;background:rgb(165,212,139);box-shadow:inset 0 0.8px rgba(255,255,255,0.3)"></div>
<div class="r" style="left:510.62px;top:580.91px;width:9.96px;height:9.94px;background:rgb(165,212,139);box-shadow:inset 0 0.8px rgba(255,255,255,0.3)"></div>
<div class="r" style="left:525.56px;top:580.91px;width:9.96px;height:9.94px;background:rgb(248,213,120);box-shadow:inset 0 0.8px rgba(255,255,255,0.3)"></div>
<div class="r" style="left:540.50px;top:580.91px;width:19.92px;height:9.94px;background:rgb(248,213,120);box-shadow:inset 0 0.8px rgba(255,255,255,0.3)"></div>
<div class="r" style="left:216.80px;top:590.85px;width:4.98px;height:9.94px;background:rgb(248,213,120);box-shadow:inset 0 0.8px rgba(255,255,255,0.3)"></div>
<div class="r" style="left:236.72px;top:590.85px;width:4.98px;height:9.94px;background:rgb(248,213,120);box-shadow:inset 0 0.8px rgba(255,255,255,0.3)"></div>
<div class="r" style="left:261.62px;top:590.85px;width:4.98px;height:9.94px;background:rgb(165,212,139);box-shadow:inset 0 0.8px rgba(255,255,255,0.3)"></div>
<div class="r" style="left:336.32px;top:590.85px;width:14.94px;height:9.94px;background:rgb(165,212,139);box-shadow:inset 0 0.8px rgba(255,255,255,0.3)"></div>
<div class="r" style="left:485.72px;top:590.85px;width:4.98px;height:9.94px;background:rgb(165,212,139);box-shadow:inset 0 0.8px rgba(255,255,255,0.3)"></div>
<div class="r" style="left:510.62px;top:590.85px;width:9.96px;height:9.94px;background:rgb(165,212,139);box-shadow:inset 0 0.8px rgba(255,255,255,0.3)"></div>
<div class="r" style="left:525.56px;top:590.85px;width:39.84px;height:9.94px;background:rgb(248,213,120);box-shadow:inset 0 0.8px rgba(255,255,255,0.3)"></div>
<div class="sq" style="left:167.00px;top:464.04px">GAGAGACAAACAAAAAAGGAACTTCTTGAAATTCCCCCAGAAGGTTTTGAGAGTTGTTTTCAATGTTGCAAC       A</div>
<div class="sq" style="left:167.00px;top:473.98px">GGCAAGGGGGGGAGGGAGGAACTTCTTAAAATTCCCCCAGAATGTTTTGACACTAGTTTTCAGTGTTGCAATTGAGA CT</div>
<div class="sq" style="left:167.00px;top:483.92px">       AAAAAAAAAAGGAACTTCTTGAAATT CCCCAGATGGTTGTGAGAGTTCTTTTTAGTGTTGCAACTTGGAACA</div>
<div class="sq" style="left:167.00px;top:493.86px">      ACAGACAAAAAGGAACTGCTTGAAAT  CCCCAGAGGTTTTTAAGTATTTTTTTCAGTGTTGCAATTTGGAATT</div>
<div class="sq" style="left:167.00px;top:503.80px">          TAAAAAAGGAACTC    AAG   CCCC                        ATGTTGCAATTCTGTGGT</div>
<div class="sq" style="left:167.00px;top:513.74px">          TAAAAAAGGAACTC    AAG   CCAC                        GTGTTGCAATTCTGTGGT</div>
<div class="sq" style="left:167.00px;top:523.68px">          TGGAAAAGGAACTT    CAG   CCAC                        GTGATGCAATTCTGTGGT</div>
<div class="sq" style="left:167.00px;top:533.62px">          TAAAAAAGGAACTT    ACT   CCAC                        GTGTTGCAATTCTGTGGT</div>
<div class="sq" style="left:167.00px;top:543.56px">          TGAAAAAGCCAAAT    A     CCCC                              AGGTCCTGTGAT</div>
<div class="sq" style="left:167.00px;top:553.50px">          TGGAAAGGGAC                                                TGTACTGTGAT</div>
<div class="sq" style="left:167.00px;top:563.44px">          TGCAGGGTTTGCTT          CCTC                               TAACCTGTGCTGGACTTTTCC</div>
<div class="sq" style="left:167.00px;top:573.38px">          TGCAGGGTTTGGTT          CCTC                             TATAACCTGCAGTGGACTTTTCC</div>
<div class="sq" style="left:167.00px;top:583.32px">          TCCTCCCCCAAATC          CCCA       CCCACCCTCTA    ATCTTCCAAAAGTCCGTGGCAAAGA</div>
<div class="sq" style="left:167.00px;top:593.26px">          TCCTACCCCAGACC          CCCA       CCCACCCTCTACCTCATTTTCCAAAAGTCTGTGGTGAAGA</div>
<div class="r" style="left:167.00px;top:621.33px;width:4.98px;height:9.94px;background:rgb(165,212,139);box-shadow:inset 0 0.8px rgba(255,255,255,0.3)"></div>
<div class="r" style="left:176.96px;top:621.33px;width:4.98px;height:9.94px;background:rgb(165,212,139);box-shadow:inset 0 0.8px rgba(255,255,255,0.3)"></div>
<div class="r" style="left:191.90px;top:621.33px;width:24.90px;height:9.94px;background:rgb(165,212,139);box-shadow:inset 0 0.8px rgba(255,255,255,0.3)"></div>
<div class="r" style="left:246.68px;top:621.33px;width:9.96px;height:9.94px;background:rgb(248,213,120);box-shadow:inset 0 0.8px rgba(255,255,255,0.3)"></div>
<div class="r" style="left:256.64px;top:621.33px;width:14.94px;height:9.94px;background:rgb(165,212,139);box-shadow:inset 0 0.8px rgba(255,255,255,0.3)"></div>
<div class="r" style="left:281.54px;top:621.33px;width:34.86px;height:9.94px;background:rgb(165,212,139);box-shadow:inset 0 0.8px rgba(255,255,255,0.3)"></div>
<div class="r" style="left:460.82px;top:621.33px;width:19.92px;height:9.94px;background:rgb(165,212,139);box-shadow:inset 0 0.8px rgba(255,255,255,0.3)"></div>
<div class="r" style="left:485.72px;top:621.33px;width:14.94px;height:9.94px;background:rgb(165,212,139);box-shadow:inset 0 0.8px rgba(255,255,255,0.3)"></div>
<div class="r" style="left:167.00px;top:631.27px;width:4.98px;height:9.94px;background:rgb(165,212,139);box-shadow:inset 0 0.8px rgba(255,255,255,0.3)"></div>
<div class="r" style="left:176.96px;top:631.27px;width:4.98px;height:9.94px;background:rgb(165,212,139);box-shadow:inset 0 0.8px rgba(255,255,255,0.3)"></div>
<div class="r" style="left:191.90px;top:631.27px;width:24.90px;height:9.94px;background:rgb(165,212,139);box-shadow:inset 0 0.8px rgba(255,255,255,0.3)"></div>
<div class="r" style="left:246.68px;top:631.27px;width:4.98px;height:9.94px;background:rgb(248,213,120);box-shadow:inset 0 0.8px rgba(255,255,255,0.3)"></div>
<div class="r" style="left:256.64px;top:631.27px;width:14.94px;height:9.94px;background:rgb(165,212,139);box-shadow:inset 0 0.8px rgba(255,255,255,0.3)"></div>
<div class="r" style="left:281.54px;top:631.27px;width:34.86px;height:9.94px;background:rgb(165,212,139);box-shadow:inset 0 0.8px rgba(255,255,255,0.3)"></div>
<div class="r" style="left:341.30px;top:631.27px;width:4.98px;height:9.94px;background:rgb(248,213,120);box-shadow:inset 0 0.8px rgba(255,255,255,0.3)"></div>
<div class="r" style="left:356.24px;top:631.27px;width:4.98px;height:9.94px;background:rgb(248,213,120);box-shadow:inset 0 0.8px rgba(255,255,255,0.3)"></div>
<div class="r" style="left:460.82px;top:631.27px;width:19.92px;height:9.94px;background:rgb(165,212,139);box-shadow:inset 0 0.8px rgba(255,255,255,0.3)"></div>
<div class="r" style="left:485.72px;top:631.27px;width:14.94px;height:9.94px;background:rgb(165,212,139);box-shadow:inset 0 0.8px rgba(255,255,255,0.3)"></div>
<div class="r" style="left:167.00px;top:641.21px;width:4.98px;height:9.94px;background:rgb(165,212,139);box-shadow:inset 0 0.8px rgba(255,255,255,0.3)"></div>
<div class="r" style="left:176.96px;top:641.21px;width:4.98px;height:9.94px;background:rgb(165,212,139);box-shadow:inset 0 0.8px rgba(255,255,255,0.3)"></div>
<div class="r" style="left:191.90px;top:641.21px;width:24.90px;height:9.94px;background:rgb(165,212,139);box-shadow:inset 0 0.8px rgba(255,255,255,0.3)"></div>
<div class="r" style="left:246.68px;top:641.21px;width:9.96px;height:9.94px;background:rgb(248,213,120);box-shadow:inset 0 0.8px rgba(255,255,255,0.3)"></div>
<div class="r" style="left:256.64px;top:641.21px;width:14.94px;height:9.94px;background:rgb(165,212,139);box-shadow:inset 0 0.8px rgba(255,255,255,0.3)"></div>
<div class="r" style="left:281.54px;top:641.21px;width:34.86px;height:9.94px;background:rgb(165,212,139);box-shadow:inset 0 0.8px rgba(255,255,255,0.3)"></div>
<div class="r" style="left:341.30px;top:641.21px;width:4.98px;height:9.94px;background:rgb(248,213,120);box-shadow:inset 0 0.8px rgba(255,255,255,0.3)"></div>
<div class="r" style="left:460.82px;top:641.21px;width:19.92px;height:9.94px;background:rgb(165,212,139);box-shadow:inset 0 0.8px rgba(255,255,255,0.3)"></div>
<div class="r" style="left:485.72px;top:641.21px;width:14.94px;height:9.94px;background:rgb(165,212,139);box-shadow:inset 0 0.8px rgba(255,255,255,0.3)"></div>
<div class="r" style="left:167.00px;top:651.15px;width:4.98px;height:9.94px;background:rgb(165,212,139);box-shadow:inset 0 0.8px rgba(255,255,255,0.3)"></div>
<div class="r" style="left:176.96px;top:651.15px;width:4.98px;height:9.94px;background:rgb(165,212,139);box-shadow:inset 0 0.8px rgba(255,255,255,0.3)"></div>
<div class="r" style="left:191.90px;top:651.15px;width:24.90px;height:9.94px;background:rgb(165,212,139);box-shadow:inset 0 0.8px rgba(255,255,255,0.3)"></div>
<div class="r" style="left:216.80px;top:651.15px;width:4.98px;height:9.94px;background:rgb(248,213,120);box-shadow:inset 0 0.8px rgba(255,255,255,0.3)"></div>
<div class="r" style="left:251.66px;top:651.15px;width:4.98px;height:9.94px;background:rgb(248,213,120);box-shadow:inset 0 0.8px rgba(255,255,255,0.3)"></div>
<div class="r" style="left:256.64px;top:651.15px;width:14.94px;height:9.94px;background:rgb(165,212,139);box-shadow:inset 0 0.8px rgba(255,255,255,0.3)"></div>
<div class="r" style="left:281.54px;top:651.15px;width:34.86px;height:9.94px;background:rgb(165,212,139);box-shadow:inset 0 0.8px rgba(255,255,255,0.3)"></div>
<div class="r" style="left:460.82px;top:651.15px;width:19.92px;height:9.94px;background:rgb(165,212,139);box-shadow:inset 0 0.8px rgba(255,255,255,0.3)"></div>
<div class="r" style="left:485.72px;top:651.15px;width:14.94px;height:9.94px;background:rgb(165,212,139);box-shadow:inset 0 0.8px rgba(255,255,255,0.3)"></div>
<div class="r" style="left:167.00px;top:661.09px;width:4.98px;height:9.94px;background:rgb(165,212,139);box-shadow:inset 0 0.8px rgba(255,255,255,0.3)"></div>
<div class="r" style="left:171.98px;top:661.09px;width:4.98px;height:9.94px;background:rgb(248,213,120);box-shadow:inset 0 0.8px rgba(255,255,255,0.3)"></div>
<div class="r" style="left:176.96px;top:661.09px;width:4.98px;height:9.94px;background:rgb(165,212,139);box-shadow:inset 0 0.8px rgba(255,255,255,0.3)"></div>
<div class="r" style="left:181.94px;top:661.09px;width:9.96px;height:9.94px;background:rgb(248,213,120);box-shadow:inset 0 0.8px rgba(255,255,255,0.3)"></div>
<div class="r" style="left:191.90px;top:661.09px;width:4.98px;height:9.94px;background:rgb(165,212,139);box-shadow:inset 0 0.8px rgba(255,255,255,0.3)"></div>
<div class="r" style="left:196.88px;top:661.09px;width:4.98px;height:9.94px;background:rgb(248,213,120);box-shadow:inset 0 0.8px rgba(255,255,255,0.3)"></div>
<div class="r" style="left:201.86px;top:661.09px;width:4.98px;height:9.94px;background:rgb(165,212,139);box-shadow:inset 0 0.8px rgba(255,255,255,0.3)"></div>
<div class="r" style="left:206.84px;top:661.09px;width:19.92px;height:9.94px;background:rgb(248,213,120);box-shadow:inset 0 0.8px rgba(255,255,255,0.3)"></div>
<div class="r" style="left:246.68px;top:661.09px;width:9.96px;height:9.94px;background:rgb(248,213,120);box-shadow:inset 0 0.8px rgba(255,255,255,0.3)"></div>
<div class="r" style="left:261.62px;top:661.09px;width:4.98px;height:9.94px;background:rgb(248,213,120);box-shadow:inset 0 0.8px rgba(255,255,255,0.3)"></div>
<div class="r" style="left:266.60px;top:661.09px;width:4.98px;height:9.94px;background:rgb(165,212,139);box-shadow:inset 0 0.8px rgba(255,255,255,0.3)"></div>
<div class="r" style="left:271.58px;top:661.09px;width:4.98px;height:9.94px;background:rgb(248,213,120);box-shadow:inset 0 0.8px rgba(255,255,255,0.3)"></div>
<div class="r" style="left:281.54px;top:661.09px;width:4.98px;height:9.94px;background:rgb(248,213,120);box-shadow:inset 0 0.8px rgba(255,255,255,0.3)"></div>
<div class="r" style="left:286.52px;top:661.09px;width:19.92px;height:9.94px;background:rgb(165,212,139);box-shadow:inset 0 0.8px rgba(255,255,255,0.3)"></div>
<div class="r" style="left:336.32px;top:661.09px;width:24.90px;height:9.94px;background:rgb(248,213,120);box-shadow:inset 0 0.8px rgba(255,255,255,0.3)"></div>
<div class="r" style="left:366.20px;top:661.09px;width:4.98px;height:9.94px;background:rgb(248,213,120);box-shadow:inset 0 0.8px rgba(255,255,255,0.3)"></div>
<div class="r" style="left:376.16px;top:661.09px;width:4.98px;height:9.94px;background:rgb(248,213,120);box-shadow:inset 0 0.8px rgba(255,255,255,0.3)"></div>
<div class="r" style="left:460.82px;top:661.09px;width:4.98px;height:9.94px;background:rgb(165,212,139);box-shadow:inset 0 0.8px rgba(255,255,255,0.3)"></div>
<div class="r" style="left:470.78px;top:661.09px;width:9.96px;height:9.94px;background:rgb(165,212,139);box-shadow:inset 0 0.8px rgba(255,255,255,0.3)"></div>
<div class="r" style="left:485.72px;top:661.09px;width:14.94px;height:9.94px;background:rgb(165,212,139);box-shadow:inset 0 0.8px rgba(255,255,255,0.3)"></div>
<div class="r" style="left:167.00px;top:671.03px;width:4.98px;height:9.94px;background:rgb(165,212,139);box-shadow:inset 0 0.8px rgba(255,255,255,0.3)"></div>
<div class="r" style="left:171.98px;top:671.03px;width:4.98px;height:9.94px;background:rgb(248,213,120);box-shadow:inset 0 0.8px rgba(255,255,255,0.3)"></div>
<div class="r" style="left:176.96px;top:671.03px;width:4.98px;height:9.94px;background:rgb(165,212,139);box-shadow:inset 0 0.8px rgba(255,255,255,0.3)"></div>
<div class="r" style="left:181.94px;top:671.03px;width:9.96px;height:9.94px;background:rgb(248,213,120);box-shadow:inset 0 0.8px rgba(255,255,255,0.3)"></div>
<div class="r" style="left:191.90px;top:671.03px;width:4.98px;height:9.94px;background:rgb(165,212,139);box-shadow:inset 0 0.8px rgba(255,255,255,0.3)"></div>
<div class="r" style="left:196.88px;top:671.03px;width:4.98px;height:9.94px;background:rgb(248,213,120);box-shadow:inset 0 0.8px rgba(255,255,255,0.3)"></div>
<div class="r" style="left:201.86px;top:671.03px;width:4.98px;height:9.94px;background:rgb(165,212,139);box-shadow:inset 0 0.8px rgba(255,255,255,0.3)"></div>
<div class="r" style="left:206.84px;top:671.03px;width:19.92px;height:9.94px;background:rgb(248,213,120);box-shadow:inset 0 0.8px rgba(255,255,255,0.3)"></div>
<div class="r" style="left:246.68px;top:671.03px;width:9.96px;height:9.94px;background:rgb(248,213,120);box-shadow:inset 0 0.8px rgba(255,255,255,0.3)"></div>
<div class="r" style="left:261.62px;top:671.03px;width:4.98px;height:9.94px;background:rgb(248,213,120);box-shadow:inset 0 0.8px rgba(255,255,255,0.3)"></div>
<div class="r" style="left:266.60px;top:671.03px;width:4.98px;height:9.94px;background:rgb(165,212,139);box-shadow:inset 0 0.8px rgba(255,255,255,0.3)"></div>
<div class="r" style="left:271.58px;top:671.03px;width:4.98px;height:9.94px;background:rgb(248,213,120);box-shadow:inset 0 0.8px rgba(255,255,255,0.3)"></div>
<div class="r" style="left:281.54px;top:671.03px;width:4.98px;height:9.94px;background:rgb(248,213,120);box-shadow:inset 0 0.8px rgba(255,255,255,0.3)"></div>
<div class="r" style="left:286.52px;top:671.03px;width:14.94px;height:9.94px;background:rgb(165,212,139);box-shadow:inset 0 0.8px rgba(255,255,255,0.3)"></div>
<div class="r" style="left:306.44px;top:671.03px;width:4.98px;height:9.94px;background:rgb(165,212,139);box-shadow:inset 0 0.8px rgba(255,255,255,0.3)"></div>
<div class="r" style="left:336.32px;top:671.03px;width:24.90px;height:9.94px;background:rgb(248,213,120);box-shadow:inset 0 0.8px rgba(255,255,255,0.3)"></div>
<div class="r" style="left:366.20px;top:671.03px;width:4.98px;height:9.94px;background:rgb(248,213,120);box-shadow:inset 0 0.8px rgba(255,255,255,0.3)"></div>
<div class="r" style="left:376.16px;top:671.03px;width:4.98px;height:9.94px;background:rgb(248,213,120);box-shadow:inset 0 0.8px rgba(255,255,255,0.3)"></div>
<div class="r" style="left:460.82px;top:671.03px;width:4.98px;height:9.94px;background:rgb(165,212,139);box-shadow:inset 0 0.8px rgba(255,255,255,0.3)"></div>
<div class="r" style="left:470.78px;top:671.03px;width:9.96px;height:9.94px;background:rgb(165,212,139);box-shadow:inset 0 0.8px rgba(255,255,255,0.3)"></div>
<div class="r" style="left:485.72px;top:671.03px;width:14.94px;height:9.94px;background:rgb(165,212,139);box-shadow:inset 0 0.8px rgba(255,255,255,0.3)"></div>
<div class="r" style="left:171.98px;top:680.97px;width:4.98px;height:9.94px;background:rgb(248,213,120);box-shadow:inset 0 0.8px rgba(255,255,255,0.3)"></div>
<div class="r" style="left:176.96px;top:680.97px;width:4.98px;height:9.94px;background:rgb(165,212,139);box-shadow:inset 0 0.8px rgba(255,255,255,0.3)"></div>
<div class="r" style="left:181.94px;top:680.97px;width:9.96px;height:9.94px;background:rgb(248,213,120);box-shadow:inset 0 0.8px rgba(255,255,255,0.3)"></div>
<div class="r" style="left:191.90px;top:680.97px;width:4.98px;height:9.94px;background:rgb(165,212,139);box-shadow:inset 0 0.8px rgba(255,255,255,0.3)"></div>
<div class="r" style="left:196.88px;top:680.97px;width:4.98px;height:9.94px;background:rgb(248,213,120);box-shadow:inset 0 0.8px rgba(255,255,255,0.3)"></div>
<div class="r" style="left:201.86px;top:680.97px;width:4.98px;height:9.94px;background:rgb(165,212,139);box-shadow:inset 0 0.8px rgba(255,255,255,0.3)"></div>
<div class="r" style="left:206.84px;top:680.97px;width:19.92px;height:9.94px;background:rgb(248,213,120);box-shadow:inset 0 0.8px rgba(255,255,255,0.3)"></div>
<div class="r" style="left:246.68px;top:680.97px;width:9.96px;height:9.94px;background:rgb(248,213,120);box-shadow:inset 0 0.8px rgba(255,255,255,0.3)"></div>
<div class="r" style="left:256.64px;top:680.97px;width:4.98px;height:9.94px;background:rgb(165,212,139);box-shadow:inset 0 0.8px rgba(255,255,255,0.3)"></div>
<div class="r" style="left:261.62px;top:680.97px;width:4.98px;height:9.94px;background:rgb(248,213,120);box-shadow:inset 0 0.8px rgba(255,255,255,0.3)"></div>
<div class="r" style="left:266.60px;top:680.97px;width:4.98px;height:9.94px;background:rgb(165,212,139);box-shadow:inset 0 0.8px rgba(255,255,255,0.3)"></div>
<div class="r" style="left:271.58px;top:680.97px;width:4.98px;height:9.94px;background:rgb(248,213,120);box-shadow:inset 0 0.8px rgba(255,255,255,0.3)"></div>
<div class="r" style="left:281.54px;top:680.97px;width:4.98px;height:9.94px;background:rgb(248,213,120);box-shadow:inset 0 0.8px rgba(255,255,255,0.3)"></div>
<div class="r" style="left:286.52px;top:680.97px;width:14.94px;height:9.94px;background:rgb(165,212,139);box-shadow:inset 0 0.8px rgba(255,255,255,0.3)"></div>
<div class="r" style="left:306.44px;top:680.97px;width:4.98px;height:9.94px;background:rgb(165,212,139);box-shadow:inset 0 0.8px rgba(255,255,255,0.3)"></div>
<div class="r" style="left:336.32px;top:680.97px;width:24.90px;height:9.94px;background:rgb(248,213,120);box-shadow:inset 0 0.8px rgba(255,255,255,0.3)"></div>
<div class="r" style="left:366.20px;top:680.97px;width:4.98px;height:9.94px;background:rgb(248,213,120);box-shadow:inset 0 0.8px rgba(255,255,255,0.3)"></div>
<div class="r" style="left:376.16px;top:680.97px;width:4.98px;height:9.94px;background:rgb(248,213,120);box-shadow:inset 0 0.8px rgba(255,255,255,0.3)"></div>
<div class="r" style="left:460.82px;top:680.97px;width:19.92px;height:9.94px;background:rgb(165,212,139);box-shadow:inset 0 0.8px rgba(255,255,255,0.3)"></div>
<div class="r" style="left:485.72px;top:680.97px;width:4.98px;height:9.94px;background:rgb(165,212,139);box-shadow:inset 0 0.8px rgba(255,255,255,0.3)"></div>
<div class="r" style="left:495.68px;top:680.97px;width:4.98px;height:9.94px;background:rgb(165,212,139);box-shadow:inset 0 0.8px rgba(255,255,255,0.3)"></div>
<div class="r" style="left:167.00px;top:690.91px;width:4.98px;height:9.94px;background:rgb(165,212,139);box-shadow:inset 0 0.8px rgba(255,255,255,0.3)"></div>
<div class="r" style="left:171.98px;top:690.91px;width:4.98px;height:9.94px;background:rgb(248,213,120);box-shadow:inset 0 0.8px rgba(255,255,255,0.3)"></div>
<div class="r" style="left:176.96px;top:690.91px;width:4.98px;height:9.94px;background:rgb(165,212,139);box-shadow:inset 0 0.8px rgba(255,255,255,0.3)"></div>
<div class="r" style="left:181.94px;top:690.91px;width:9.96px;height:9.94px;background:rgb(248,213,120);box-shadow:inset 0 0.8px rgba(255,255,255,0.3)"></div>
<div class="r" style="left:191.90px;top:690.91px;width:4.98px;height:9.94px;background:rgb(165,212,139);box-shadow:inset 0 0.8px rgba(255,255,255,0.3)"></div>
<div class="r" style="left:196.88px;top:690.91px;width:4.98px;height:9.94px;background:rgb(248,213,120);box-shadow:inset 0 0.8px rgba(255,255,255,0.3)"></div>
<div class="r" style="left:201.86px;top:690.91px;width:4.98px;height:9.94px;background:rgb(165,212,139);box-shadow:inset 0 0.8px rgba(255,255,255,0.3)"></div>
<div class="r" style="left:206.84px;top:690.91px;width:19.92px;height:9.94px;background:rgb(248,213,120);box-shadow:inset 0 0.8px rgba(255,255,255,0.3)"></div>
<div class="r" style="left:246.68px;top:690.91px;width:9.96px;height:9.94px;background:rgb(248,213,120);box-shadow:inset 0 0.8px rgba(255,255,255,0.3)"></div>
<div class="r" style="left:261.62px;top:690.91px;width:4.98px;height:9.94px;background:rgb(248,213,120);box-shadow:inset 0 0.8px rgba(255,255,255,0.3)"></div>
<div class="r" style="left:266.60px;top:690.91px;width:4.98px;height:9.94px;background:rgb(165,212,139);box-shadow:inset 0 0.8px rgba(255,255,255,0.3)"></div>
<div class="r" style="left:271.58px;top:690.91px;width:4.98px;height:9.94px;background:rgb(248,213,120);box-shadow:inset 0 0.8px rgba(255,255,255,0.3)"></div>
<div class="r" style="left:281.54px;top:690.91px;width:4.98px;height:9.94px;background:rgb(248,213,120);box-shadow:inset 0 0.8px rgba(255,255,255,0.3)"></div>
<div class="r" style="left:286.52px;top:690.91px;width:14.94px;height:9.94px;background:rgb(165,212,139);box-shadow:inset 0 0.8px rgba(255,255,255,0.3)"></div>
<div class="r" style="left:306.44px;top:690.91px;width:4.98px;height:9.94px;background:rgb(165,212,139);box-shadow:inset 0 0.8px rgba(255,255,255,0.3)"></div>
<div class="r" style="left:336.32px;top:690.91px;width:24.90px;height:9.94px;background:rgb(248,213,120);box-shadow:inset 0 0.8px rgba(255,255,255,0.3)"></div>
<div class="r" style="left:366.20px;top:690.91px;width:4.98px;height:9.94px;background:rgb(248,213,120);box-shadow:inset 0 0.8px rgba(255,255,255,0.3)"></div>
<div class="r" style="left:376.16px;top:690.91px;width:4.98px;height:9.94px;background:rgb(248,213,120);box-shadow:inset 0 0.8px rgba(255,255,255,0.3)"></div>
<div class="r" style="left:460.82px;top:690.91px;width:19.92px;height:9.94px;background:rgb(165,212,139);box-shadow:inset 0 0.8px rgba(255,255,255,0.3)"></div>
<div class="r" style="left:485.72px;top:690.91px;width:14.94px;height:9.94px;background:rgb(165,212,139);box-shadow:inset 0 0.8px rgba(255,255,255,0.3)"></div>
<div class="r" style="left:251.66px;top:700.85px;width:4.98px;height:9.94px;background:rgb(248,213,120);box-shadow:inset 0 0.8px rgba(255,255,255,0.3)"></div>
<div class="r" style="left:256.64px;top:700.85px;width:4.98px;height:9.94px;background:rgb(165,212,139);box-shadow:inset 0 0.8px rgba(255,255,255,0.3)"></div>
<div class="r" style="left:271.58px;top:700.85px;width:4.98px;height:9.94px;background:rgb(248,213,120);box-shadow:inset 0 0.8px rgba(255,255,255,0.3)"></div>
<div class="r" style="left:291.50px;top:700.85px;width:4.98px;height:9.94px;background:rgb(165,212,139);box-shadow:inset 0 0.8px rgba(255,255,255,0.3)"></div>
<div class="r" style="left:301.46px;top:700.85px;width:4.98px;height:9.94px;background:rgb(165,212,139);box-shadow:inset 0 0.8px rgba(255,255,255,0.3)"></div>
<div class="r" style="left:460.82px;top:700.85px;width:19.92px;height:9.94px;background:rgb(165,212,139);box-shadow:inset 0 0.8px rgba(255,255,255,0.3)"></div>
<div class="r" style="left:485.72px;top:700.85px;width:9.96px;height:9.94px;background:rgb(165,212,139);box-shadow:inset 0 0.8px rgba(255,255,255,0.3)"></div>
<div class="r" style="left:251.66px;top:710.79px;width:4.98px;height:9.94px;background:rgb(248,213,120);box-shadow:inset 0 0.8px rgba(255,255,255,0.3)"></div>
<div class="r" style="left:256.64px;top:710.79px;width:4.98px;height:9.94px;background:rgb(165,212,139);box-shadow:inset 0 0.8px rgba(255,255,255,0.3)"></div>
<div class="r" style="left:271.58px;top:710.79px;width:4.98px;height:9.94px;background:rgb(248,213,120);box-shadow:inset 0 0.8px rgba(255,255,255,0.3)"></div>
<div class="r" style="left:281.54px;top:710.79px;width:4.98px;height:9.94px;background:rgb(248,213,120);box-shadow:inset 0 0.8px rgba(255,255,255,0.3)"></div>
<div class="r" style="left:296.48px;top:710.79px;width:4.98px;height:9.94px;background:rgb(165,212,139);box-shadow:inset 0 0.8px rgba(255,255,255,0.3)"></div>
<div class="r" style="left:460.82px;top:710.79px;width:19.92px;height:9.94px;background:rgb(165,212,139);box-shadow:inset 0 0.8px rgba(255,255,255,0.3)"></div>
<div class="r" style="left:485.72px;top:710.79px;width:9.96px;height:9.94px;background:rgb(165,212,139);box-shadow:inset 0 0.8px rgba(255,255,255,0.3)"></div>
<div class="r" style="left:191.90px;top:720.73px;width:4.98px;height:9.94px;background:rgb(165,212,139);box-shadow:inset 0 0.8px rgba(255,255,255,0.3)"></div>
<div class="r" style="left:196.88px;top:720.73px;width:4.98px;height:9.94px;background:rgb(248,213,120);box-shadow:inset 0 0.8px rgba(255,255,255,0.3)"></div>
<div class="r" style="left:206.84px;top:720.73px;width:19.92px;height:9.94px;background:rgb(248,213,120);box-shadow:inset 0 0.8px rgba(255,255,255,0.3)"></div>
<div class="r" style="left:251.66px;top:720.73px;width:4.98px;height:9.94px;background:rgb(248,213,120);box-shadow:inset 0 0.8px rgba(255,255,255,0.3)"></div>
<div class="r" style="left:281.54px;top:720.73px;width:4.98px;height:9.94px;background:rgb(248,213,120);box-shadow:inset 0 0.8px rgba(255,255,255,0.3)"></div>
<div class="r" style="left:286.52px;top:720.73px;width:4.98px;height:9.94px;background:rgb(165,212,139);box-shadow:inset 0 0.8px rgba(255,255,255,0.3)"></div>
<div class="r" style="left:301.46px;top:720.73px;width:4.98px;height:9.94px;background:rgb(165,212,139);box-shadow:inset 0 0.8px rgba(255,255,255,0.3)"></div>
<div class="r" style="left:311.42px;top:720.73px;width:4.98px;height:9.94px;background:rgb(165,212,139);box-shadow:inset 0 0.8px rgba(255,255,255,0.3)"></div>
<div class="r" style="left:470.78px;top:720.73px;width:9.96px;height:9.94px;background:rgb(165,212,139);box-shadow:inset 0 0.8px rgba(255,255,255,0.3)"></div>
<div class="r" style="left:485.72px;top:720.73px;width:14.94px;height:9.94px;background:rgb(165,212,139);box-shadow:inset 0 0.8px rgba(255,255,255,0.3)"></div>
<div class="r" style="left:196.88px;top:730.67px;width:4.98px;height:9.94px;background:rgb(248,213,120);box-shadow:inset 0 0.8px rgba(255,255,255,0.3)"></div>
<div class="r" style="left:206.84px;top:730.67px;width:19.92px;height:9.94px;background:rgb(248,213,120);box-shadow:inset 0 0.8px rgba(255,255,255,0.3)"></div>
<div class="r" style="left:251.66px;top:730.67px;width:4.98px;height:9.94px;background:rgb(248,213,120);box-shadow:inset 0 0.8px rgba(255,255,255,0.3)"></div>
<div class="r" style="left:281.54px;top:730.67px;width:4.98px;height:9.94px;background:rgb(248,213,120);box-shadow:inset 0 0.8px rgba(255,255,255,0.3)"></div>
<div class="r" style="left:286.52px;top:730.67px;width:4.98px;height:9.94px;background:rgb(165,212,139);box-shadow:inset 0 0.8px rgba(255,255,255,0.3)"></div>
<div class="r" style="left:301.46px;top:730.67px;width:4.98px;height:9.94px;background:rgb(165,212,139);box-shadow:inset 0 0.8px rgba(255,255,255,0.3)"></div>
<div class="r" style="left:470.78px;top:730.67px;width:9.96px;height:9.94px;background:rgb(165,212,139);box-shadow:inset 0 0.8px rgba(255,255,255,0.3)"></div>
<div class="r" style="left:485.72px;top:730.67px;width:14.94px;height:9.94px;background:rgb(165,212,139);box-shadow:inset 0 0.8px rgba(255,255,255,0.3)"></div>
<div class="r" style="left:176.96px;top:740.61px;width:4.98px;height:9.94px;background:rgb(165,212,139);box-shadow:inset 0 0.8px rgba(255,255,255,0.3)"></div>
<div class="r" style="left:181.94px;top:740.61px;width:4.98px;height:9.94px;background:rgb(248,213,120);box-shadow:inset 0 0.8px rgba(255,255,255,0.3)"></div>
<div class="r" style="left:191.90px;top:740.61px;width:4.98px;height:9.94px;background:rgb(165,212,139);box-shadow:inset 0 0.8px rgba(255,255,255,0.3)"></div>
<div class="r" style="left:196.88px;top:740.61px;width:4.98px;height:9.94px;background:rgb(248,213,120);box-shadow:inset 0 0.8px rgba(255,255,255,0.3)"></div>
<div class="r" style="left:211.82px;top:740.61px;width:4.98px;height:9.94px;background:rgb(248,213,120);box-shadow:inset 0 0.8px rgba(255,255,255,0.3)"></div>
<div class="r" style="left:221.78px;top:740.61px;width:4.98px;height:9.94px;background:rgb(248,213,120);box-shadow:inset 0 0.8px rgba(255,255,255,0.3)"></div>
<div class="r" style="left:251.66px;top:740.61px;width:14.94px;height:9.94px;background:rgb(248,213,120);box-shadow:inset 0 0.8px rgba(255,255,255,0.3)"></div>
<div class="r" style="left:266.60px;top:740.61px;width:4.98px;height:9.94px;background:rgb(165,212,139);box-shadow:inset 0 0.8px rgba(255,255,255,0.3)"></div>
<div class="r" style="left:281.54px;top:740.61px;width:4.98px;height:9.94px;background:rgb(248,213,120);box-shadow:inset 0 0.8px rgba(255,255,255,0.3)"></div>
<div class="r" style="left:301.46px;top:740.61px;width:4.98px;height:9.94px;background:rgb(165,212,139);box-shadow:inset 0 0.8px rgba(255,255,255,0.3)"></div>
<div class="r" style="left:465.80px;top:740.61px;width:14.94px;height:9.94px;background:rgb(165,212,139);box-shadow:inset 0 0.8px rgba(255,255,255,0.3)"></div>
<div class="r" style="left:485.72px;top:740.61px;width:9.96px;height:9.94px;background:rgb(165,212,139);box-shadow:inset 0 0.8px rgba(255,255,255,0.3)"></div>
<div class="r" style="left:176.96px;top:750.55px;width:4.98px;height:9.94px;background:rgb(165,212,139);box-shadow:inset 0 0.8px rgba(255,255,255,0.3)"></div>
<div class="r" style="left:181.94px;top:750.55px;width:4.98px;height:9.94px;background:rgb(248,213,120);box-shadow:inset 0 0.8px rgba(255,255,255,0.3)"></div>
<div class="r" style="left:191.90px;top:750.55px;width:4.98px;height:9.94px;background:rgb(165,212,139);box-shadow:inset 0 0.8px rgba(255,255,255,0.3)"></div>
<div class="r" style="left:196.88px;top:750.55px;width:4.98px;height:9.94px;background:rgb(248,213,120);box-shadow:inset 0 0.8px rgba(255,255,255,0.3)"></div>
<div class="r" style="left:211.82px;top:750.55px;width:4.98px;height:9.94px;background:rgb(248,213,120);box-shadow:inset 0 0.8px rgba(255,255,255,0.3)"></div>
<div class="r" style="left:221.78px;top:750.55px;width:4.98px;height:9.94px;background:rgb(248,213,120);box-shadow:inset 0 0.8px rgba(255,255,255,0.3)"></div>
<div class="r" style="left:251.66px;top:750.55px;width:14.94px;height:9.94px;background:rgb(248,213,120);box-shadow:inset 0 0.8px rgba(255,255,255,0.3)"></div>
<div class="r" style="left:266.60px;top:750.55px;width:4.98px;height:9.94px;background:rgb(165,212,139);box-shadow:inset 0 0.8px rgba(255,255,255,0.3)"></div>
<div class="r" style="left:281.54px;top:750.55px;width:4.98px;height:9.94px;background:rgb(248,213,120);box-shadow:inset 0 0.8px rgba(255,255,255,0.3)"></div>
<div class="r" style="left:301.46px;top:750.55px;width:4.98px;height:9.94px;background:rgb(165,212,139);box-shadow:inset 0 0.8px rgba(255,255,255,0.3)"></div>
<div class="r" style="left:465.80px;top:750.55px;width:14.94px;height:9.94px;background:rgb(165,212,139);box-shadow:inset 0 0.8px rgba(255,255,255,0.3)"></div>
<div class="r" style="left:485.72px;top:750.55px;width:9.96px;height:9.94px;background:rgb(165,212,139);box-shadow:inset 0 0.8px rgba(255,255,255,0.3)"></div>
<div class="sq" style="left:167.00px;top:623.74px">AGTCAGTTTCT     AGTTTAAGTTTCCATCAGAAAG             GAGTAGAGTATATAAG</div>
<div class="sq" style="left:167.00px;top:633.68px">AGTCAGTTTCT     ACTTTGGGTTTCCATCAGAAAGTTCTGTAG     GAGTAGAGTATATAAG</div>
<div class="sq" style="left:167.00px;top:643.62px">AGTCAGTTTCT     AGTTTAAGTTTCCATCAGAAAACTTGGTAG     GAGTAGGGTATATAAG</div>
<div class="sq" style="left:167.00px;top:653.56px">ATTTGGTTTCA     GGTTTGAGTTTCCA                             TATAAAAG</div>
<div class="sq" style="left:167.00px;top:663.50px">ATTGCGGTGAAAC GGAGCATCCCTTTCA     GAGTTTACA            AGTGTTTATAAG</div>
<div class="sq" style="left:167.00px;top:673.44px">ATTGCGGTGAAAT GGAGCATCCCTTTGCTTTCAGAGTTTAGA            AGTATTTATAAG</div>
<div class="sq" style="left:167.00px;top:683.38px"> TTGCGGTGAAAGAAAAGTATCTCTTTACTTTCAGAGTTAACA              AGTATAAAGG</div>
<div class="sq" style="left:167.00px;top:693.32px">ATTGCGGTGAAAC AAAGTATCTCTTTACTTTCAGAGTTTACA              AATATAAAAG</div>
<div class="sq" style="left:167.00px;top:703.26px">                 GTCACTGCTCC                              GTATATAAC</div>
<div class="sq" style="left:167.00px;top:713.20px">                 GTCACTCACTTT                            ACTATATAAA</div>
<div class="sq" style="left:167.00px;top:723.14px">TGGTTGGGGAAA TTCTGCAGTCCTGACACTTA                         GCTTAAAAG</div>
<div class="sq" style="left:167.00px;top:733.08px">TGGTCAGGGAAA TTCTG   TCCTGACATTTT                         ACTTATAAG</div>
<div class="sq" style="left:167.00px;top:743.02px">TGTGTGGGCAGA GGCTGAATAGCACACAGTAG                     CCAAACATATAAA</div>
<div class="sq" style="left:167.00px;top:752.96px">TGTGTGGGCAGA GGCTGAATAGCACACAGGAG                     CCAAACATATAAA</div>
<div class="L" style="left:114.90px;top:302.06px;font-size:8.43px;line-height:8.43px;color:#2b2b2b;transform:scaleX(1.055);">Human</div>
<div class="L" style="left:114.90px;top:312.00px;font-size:8.43px;line-height:8.43px;color:#2b2b2b;transform:scaleX(1.055);">Mouse</div>
<div class="L" style="left:114.90px;top:321.94px;font-size:8.43px;line-height:8.43px;color:#2b2b2b;transform:scaleX(1.055);">Whale</div>
<div class="L" style="left:114.90px;top:331.88px;font-size:8.43px;line-height:8.43px;color:#2b2b2b;transform:scaleX(1.055);">Platypus</div>
<div class="L" style="left:114.90px;top:341.82px;font-size:8.43px;line-height:8.43px;color:#2b2b2b;transform:scaleX(1.055);">Chicken</div>
<div class="L" style="left:114.90px;top:351.76px;font-size:8.43px;line-height:8.43px;color:#2b2b2b;transform:scaleX(1.055);">Eagle</div>
<div class="L" style="left:114.90px;top:361.70px;font-size:8.43px;line-height:8.43px;color:#2b2b2b;transform:scaleX(1.055);">Alligator</div>
<div class="L" style="left:114.90px;top:371.64px;font-size:8.43px;line-height:8.43px;color:#2b2b2b;transform:scaleX(1.055);">Turtle</div>
<div class="L" style="left:114.90px;top:381.58px;font-size:8.43px;line-height:8.43px;color:#2b2b2b;transform:scaleX(1.055);">Frog</div>
<div class="L" style="left:114.90px;top:391.52px;font-size:8.43px;line-height:8.43px;color:#2b2b2b;transform:scaleX(1.055);">Toad</div>
<div class="L" style="left:114.90px;top:401.46px;font-size:8.43px;line-height:8.43px;color:#2b2b2b;transform:scaleX(1.055);">Zebrafish</div>
<div class="L" style="left:114.90px;top:411.40px;font-size:8.43px;line-height:8.43px;color:#2b2b2b;transform:scaleX(1.055);">Carp</div>
<div class="L" style="left:114.90px;top:421.34px;font-size:8.43px;line-height:8.43px;color:#2b2b2b;transform:scaleX(1.055);">Salmon</div>
<div class="L" style="left:114.90px;top:431.28px;font-size:8.43px;line-height:8.43px;color:#2b2b2b;transform:scaleX(1.055);">Whitefish</div>
<div class="r" style="left:110.30px;top:304.70px;width:1.30px;height:34.12px;background:#3a3a3a;"></div>
<div class="L" style="left:66.21px;top:316.87px;font-size:8.43px;line-height:8.43px;color:#2b2b2b;transform:scaleX(1.070);">Mammals</div>
<div class="r" style="left:110.30px;top:344.46px;width:1.30px;height:14.24px;background:#3a3a3a;"></div>
<div class="L" style="left:84.75px;top:347.19px;font-size:8.43px;line-height:8.43px;color:#2b2b2b;transform:scaleX(1.070);">Birds</div>
<div class="r" style="left:110.30px;top:364.34px;width:1.30px;height:14.24px;background:#3a3a3a;"></div>
<div class="L" style="left:72.71px;top:366.07px;font-size:8.43px;line-height:8.43px;color:#2b2b2b;transform:scaleX(1.070);">Reptiles</div>
<div class="r" style="left:110.30px;top:384.22px;width:1.30px;height:14.24px;background:#3a3a3a;"></div>
<div class="L" style="left:58.17px;top:387.25px;font-size:8.43px;line-height:8.43px;color:#2b2b2b;transform:scaleX(1.070);">Amphibians</div>
<div class="r" style="left:110.30px;top:404.10px;width:1.30px;height:34.12px;background:#3a3a3a;"></div>
<div class="L" style="left:88.26px;top:414.87px;font-size:8.43px;line-height:8.43px;color:#2b2b2b;transform:scaleX(1.070);">Fish</div>
<div class="L" style="left:114.90px;top:461.86px;font-size:8.43px;line-height:8.43px;color:#2b2b2b;transform:scaleX(1.055);">Human</div>
<div class="L" style="left:114.90px;top:471.80px;font-size:8.43px;line-height:8.43px;color:#2b2b2b;transform:scaleX(1.055);">Mouse</div>
<div class="L" style="left:114.90px;top:481.74px;font-size:8.43px;line-height:8.43px;color:#2b2b2b;transform:scaleX(1.055);">Whale</div>
<div class="L" style="left:114.90px;top:491.68px;font-size:8.43px;line-height:8.43px;color:#2b2b2b;transform:scaleX(1.055);">Platypus</div>
<div class="L" style="left:114.90px;top:501.62px;font-size:8.43px;line-height:8.43px;color:#2b2b2b;transform:scaleX(1.055);">Chicken</div>
<div class="L" style="left:114.90px;top:511.56px;font-size:8.43px;line-height:8.43px;color:#2b2b2b;transform:scaleX(1.055);">Eagle</div>
<div class="L" style="left:114.90px;top:521.50px;font-size:8.43px;line-height:8.43px;color:#2b2b2b;transform:scaleX(1.055);">Alligator</div>
<div class="L" style="left:114.90px;top:531.44px;font-size:8.43px;line-height:8.43px;color:#2b2b2b;transform:scaleX(1.055);">Turtle</div>
<div class="L" style="left:114.90px;top:541.38px;font-size:8.43px;line-height:8.43px;color:#2b2b2b;transform:scaleX(1.055);">Frog</div>
<div class="L" style="left:114.90px;top:551.32px;font-size:8.43px;line-height:8.43px;color:#2b2b2b;transform:scaleX(1.055);">Toad</div>
<div class="L" style="left:114.90px;top:561.26px;font-size:8.43px;line-height:8.43px;color:#2b2b2b;transform:scaleX(1.055);">Zebrafish</div>
<div class="L" style="left:114.90px;top:571.20px;font-size:8.43px;line-height:8.43px;color:#2b2b2b;transform:scaleX(1.055);">Carp</div>
<div class="L" style="left:114.90px;top:581.14px;font-size:8.43px;line-height:8.43px;color:#2b2b2b;transform:scaleX(1.055);">Salmon</div>
<div class="L" style="left:114.90px;top:591.08px;font-size:8.43px;line-height:8.43px;color:#2b2b2b;transform:scaleX(1.055);">Whitefish</div>
<div class="r" style="left:110.30px;top:464.50px;width:1.30px;height:34.12px;background:#3a3a3a;"></div>
<div class="L" style="left:66.21px;top:476.67px;font-size:8.43px;line-height:8.43px;color:#2b2b2b;transform:scaleX(1.070);">Mammals</div>
<div class="r" style="left:110.30px;top:504.26px;width:1.30px;height:14.24px;background:#3a3a3a;"></div>
<div class="L" style="left:84.75px;top:506.99px;font-size:8.43px;line-height:8.43px;color:#2b2b2b;transform:scaleX(1.070);">Birds</div>
<div class="r" style="left:110.30px;top:524.14px;width:1.30px;height:14.24px;background:#3a3a3a;"></div>
<div class="L" style="left:72.71px;top:525.87px;font-size:8.43px;line-height:8.43px;color:#2b2b2b;transform:scaleX(1.070);">Reptiles</div>
<div class="r" style="left:110.30px;top:544.02px;width:1.30px;height:14.24px;background:#3a3a3a;"></div>
<div class="L" style="left:58.17px;top:547.05px;font-size:8.43px;line-height:8.43px;color:#2b2b2b;transform:scaleX(1.070);">Amphibians</div>
<div class="r" style="left:110.30px;top:563.90px;width:1.30px;height:34.12px;background:#3a3a3a;"></div>
<div class="L" style="left:88.26px;top:574.67px;font-size:8.43px;line-height:8.43px;color:#2b2b2b;transform:scaleX(1.070);">Fish</div>
<div class="L" style="left:114.90px;top:621.56px;font-size:8.43px;line-height:8.43px;color:#2b2b2b;transform:scaleX(1.055);">Human</div>
<div class="L" style="left:114.90px;top:631.50px;font-size:8.43px;line-height:8.43px;color:#2b2b2b;transform:scaleX(1.055);">Mouse</div>
<div class="L" style="left:114.90px;top:641.44px;font-size:8.43px;line-height:8.43px;color:#2b2b2b;transform:scaleX(1.055);">Whale</div>
<div class="L" style="left:114.90px;top:651.38px;font-size:8.43px;line-height:8.43px;color:#2b2b2b;transform:scaleX(1.055);">Platypus</div>
<div class="L" style="left:114.90px;top:661.32px;font-size:8.43px;line-height:8.43px;color:#2b2b2b;transform:scaleX(1.055);">Chicken</div>
<div class="L" style="left:114.90px;top:671.26px;font-size:8.43px;line-height:8.43px;color:#2b2b2b;transform:scaleX(1.055);">Eagle</div>
<div class="L" style="left:114.90px;top:681.20px;font-size:8.43px;line-height:8.43px;color:#2b2b2b;transform:scaleX(1.055);">Alligator</div>
<div class="L" style="left:114.90px;top:691.14px;font-size:8.43px;line-height:8.43px;color:#2b2b2b;transform:scaleX(1.055);">Turtle</div>
<div class="L" style="left:114.90px;top:701.08px;font-size:8.43px;line-height:8.43px;color:#2b2b2b;transform:scaleX(1.055);">Frog</div>
<div class="L" style="left:114.90px;top:711.02px;font-size:8.43px;line-height:8.43px;color:#2b2b2b;transform:scaleX(1.055);">Toad</div>
<div class="L" style="left:114.90px;top:720.96px;font-size:8.43px;line-height:8.43px;color:#2b2b2b;transform:scaleX(1.055);">Zebrafish</div>
<div class="L" style="left:114.90px;top:730.90px;font-size:8.43px;line-height:8.43px;color:#2b2b2b;transform:scaleX(1.055);">Carp</div>
<div class="L" style="left:114.90px;top:740.84px;font-size:8.43px;line-height:8.43px;color:#2b2b2b;transform:scaleX(1.055);">Salmon</div>
<div class="L" style="left:114.90px;top:750.78px;font-size:8.43px;line-height:8.43px;color:#2b2b2b;transform:scaleX(1.055);">Whitefish</div>
<div class="r" style="left:110.30px;top:624.20px;width:1.30px;height:34.12px;background:#3a3a3a;"></div>
<div class="L" style="left:66.21px;top:636.37px;font-size:8.43px;line-height:8.43px;color:#2b2b2b;transform:scaleX(1.070);">Mammals</div>
<div class="r" style="left:110.30px;top:663.96px;width:1.30px;height:14.24px;background:#3a3a3a;"></div>
<div class="L" style="left:84.75px;top:666.69px;font-size:8.43px;line-height:8.43px;color:#2b2b2b;transform:scaleX(1.070);">Birds</div>
<div class="r" style="left:110.30px;top:683.84px;width:1.30px;height:14.24px;background:#3a3a3a;"></div>
<div class="L" style="left:72.71px;top:685.57px;font-size:8.43px;line-height:8.43px;color:#2b2b2b;transform:scaleX(1.070);">Reptiles</div>
<div class="r" style="left:110.30px;top:703.72px;width:1.30px;height:14.24px;background:#3a3a3a;"></div>
<div class="L" style="left:58.17px;top:706.75px;font-size:8.43px;line-height:8.43px;color:#2b2b2b;transform:scaleX(1.070);">Amphibians</div>
<div class="r" style="left:110.30px;top:723.60px;width:1.30px;height:34.12px;background:#3a3a3a;"></div>
<div class="L" style="left:88.26px;top:734.37px;font-size:8.43px;line-height:8.43px;color:#2b2b2b;transform:scaleX(1.070);">Fish</div>
<div class="r" style="left:228.00px;top:296.90px;width:42.30px;height:2.60px;background:#1a1a1a;"></div>
<div class="L" style="left:242.90px;top:286.53px;font-size:9.88px;line-height:9.88px;color:#1a1a1a;transform:scaleX(0.751);-webkit-text-stroke:0.12px #1a1a1a">ETS</div>
<div class="r" style="left:346.10px;top:296.90px;width:39.70px;height:2.60px;background:#1a1a1a;"></div>
<div class="L" style="left:363.20px;top:286.53px;font-size:9.88px;line-height:9.88px;color:#1a1a1a;transform:scaleX(0.846);-webkit-text-stroke:0.12px #1a1a1a">X</div>
<div class="r" style="left:396.20px;top:296.90px;width:54.20px;height:2.60px;background:#c1192d;"></div>
<div class="L" style="left:420.30px;top:286.53px;font-size:9.88px;line-height:9.88px;color:#c1192d;transform:scaleX(0.997);-webkit-text-stroke:0.12px #c1192d">A</div>
<div class="r" style="left:545.60px;top:296.90px;width:62.30px;height:2.60px;background:#c1192d;"></div>
<div class="L" style="left:574.30px;top:286.53px;font-size:9.88px;line-height:9.88px;color:#c1192d;transform:scaleX(0.891);-webkit-text-stroke:0.12px #c1192d">B</div>
<div class="r" style="left:252.40px;top:456.80px;width:49.00px;height:2.60px;background:#1a1a1a;"></div>
<div class="L" style="left:268.90px;top:447.33px;font-size:9.88px;line-height:9.88px;color:#1a1a1a;transform:scaleX(0.971);-webkit-text-stroke:0.12px #1a1a1a">κB1</div>
<div class="r" style="left:306.50px;top:456.80px;width:43.10px;height:2.60px;background:#1a1a1a;"></div>
<div class="L" style="left:319.80px;top:447.33px;font-size:9.88px;line-height:9.88px;color:#1a1a1a;transform:scaleX(0.971);-webkit-text-stroke:0.12px #1a1a1a">κB2</div>
<div class="r" style="left:357.00px;top:456.80px;width:48.70px;height:2.60px;background:#1a1a1a;"></div>
<div class="L" style="left:372.80px;top:447.33px;font-size:9.88px;line-height:9.88px;color:#1a1a1a;transform:scaleX(0.982);-webkit-text-stroke:0.12px #1a1a1a">κB3</div>
<div class="r" style="left:415.90px;top:456.80px;width:49.20px;height:2.60px;background:#1a1a1a;"></div>
<div class="L" style="left:429.50px;top:447.33px;font-size:9.88px;line-height:9.88px;color:#1a1a1a;transform:scaleX(0.897);-webkit-text-stroke:0.12px #1a1a1a">(κB4)</div>
<div class="r" style="left:480.00px;top:456.80px;width:36.40px;height:2.60px;background:#1a1a1a;"></div>
<div class="L" style="left:485.30px;top:447.33px;font-size:9.88px;line-height:9.88px;color:#1a1a1a;transform:scaleX(0.853);-webkit-text-stroke:0.12px #1a1a1a">C/EBP</div>
<div class="r" style="left:521.80px;top:456.80px;width:44.10px;height:2.60px;background:#c1192d;"></div>
<div class="L" style="left:540.50px;top:447.33px;font-size:9.88px;line-height:9.88px;color:#c1192d;transform:scaleX(0.773);-webkit-text-stroke:0.12px #c1192d">C</div>
<div class="r" style="left:167.00px;top:615.40px;width:39.60px;height:2.60px;background:#1a1a1a;"></div>
<div class="L" style="left:176.60px;top:606.03px;font-size:9.88px;line-height:9.88px;color:#1a1a1a;transform:scaleX(0.866);-webkit-text-stroke:0.12px #1a1a1a">AP-1</div>
<div class="r" style="left:256.50px;top:615.40px;width:53.40px;height:2.60px;background:#1a1a1a;"></div>
<div class="L" style="left:258.10px;top:606.03px;font-size:9.88px;line-height:9.88px;color:#1a1a1a;transform:scaleX(0.885);-webkit-text-stroke:0.12px #1a1a1a">ICSBP/NFAT</div>
<div class="r" style="left:337.00px;top:615.40px;width:38.20px;height:2.60px;background:#c1192d;"></div>
<div class="L" style="left:353.40px;top:606.03px;font-size:9.88px;line-height:9.88px;color:#c1192d;transform:scaleX(0.857);-webkit-text-stroke:0.12px #c1192d">D</div>
<div class="r" style="left:460.30px;top:615.40px;width:34.70px;height:2.60px;background:#1a1a1a;"></div>
<div class="L" style="left:467.50px;top:606.03px;font-size:9.88px;line-height:9.88px;color:#1a1a1a;transform:scaleX(0.878);-webkit-text-stroke:0.12px #1a1a1a">TATA</div>
<div class="sq" style="left:539.8px;top:623.74px;transform:translateX(-100%) scaleY(1.27);transform-origin:100% 6px">23</div>
<div class="sq" style="left:544.60px;top:623.74px">bp</div>
<div class="sq" style="left:539.8px;top:633.68px;transform:translateX(-100%) scaleY(1.27);transform-origin:100% 6px">23</div>
<div class="sq" style="left:544.60px;top:633.68px">bp</div>
<div class="sq" style="left:539.8px;top:643.62px;transform:translateX(-100%) scaleY(1.27);transform-origin:100% 6px">29</div>
<div class="sq" style="left:544.60px;top:643.62px">bp</div>
<div class="sq" style="left:539.8px;top:653.56px;transform:translateX(-100%) scaleY(1.27);transform-origin:100% 6px">48</div>
<div class="sq" style="left:544.60px;top:653.56px">bp</div>
<div class="sq" style="left:539.8px;top:663.50px;transform:translateX(-100%) scaleY(1.27);transform-origin:100% 6px">38</div>
<div class="sq" style="left:544.60px;top:663.50px">bp</div>
<div class="sq" style="left:539.8px;top:673.44px;transform:translateX(-100%) scaleY(1.27);transform-origin:100% 6px">41</div>
<div class="sq" style="left:544.60px;top:673.44px">bp</div>
<div class="sq" style="left:539.8px;top:683.38px;transform:translateX(-100%) scaleY(1.27);transform-origin:100% 6px">26</div>
<div class="sq" style="left:544.60px;top:683.38px">bp</div>
<div class="sq" style="left:539.8px;top:693.32px;transform:translateX(-100%) scaleY(1.27);transform-origin:100% 6px">55</div>
<div class="sq" style="left:544.60px;top:693.32px">bp</div>
<div class="sq" style="left:539.8px;top:703.26px;transform:translateX(-100%) scaleY(1.27);transform-origin:100% 6px">34</div>
<div class="sq" style="left:544.60px;top:703.26px">bp</div>
<div class="sq" style="left:539.8px;top:713.20px;transform:translateX(-100%) scaleY(1.27);transform-origin:100% 6px">38</div>
<div class="sq" style="left:544.60px;top:713.20px">bp</div>
<div class="sq" style="left:539.8px;top:723.14px;transform:translateX(-100%) scaleY(1.27);transform-origin:100% 6px">24</div>
<div class="sq" style="left:544.60px;top:723.14px">bp</div>
<div class="sq" style="left:539.8px;top:733.08px;transform:translateX(-100%) scaleY(1.27);transform-origin:100% 6px">483</div>
<div class="sq" style="left:544.60px;top:733.08px">bp</div>
<div class="sq" style="left:539.8px;top:743.02px;transform:translateX(-100%) scaleY(1.27);transform-origin:100% 6px">81</div>
<div class="sq" style="left:544.60px;top:743.02px">bp</div>
<div class="sq" style="left:539.8px;top:752.96px;transform:translateX(-100%) scaleY(1.27);transform-origin:100% 6px">−46</div>
<div class="sq" style="left:544.60px;top:752.96px">bp</div>
<div class="r" style="left:560.90px;top:620.80px;width:1.10px;height:141.20px;background:#2a2a2a;"></div>
<div class="L" style="left:566.40px;top:673.26px;font-size:8.43px;line-height:8.43px;color:#2b2b2b;transform:scaleX(1.055);">Distance to</div>
<div class="L" style="left:566.40px;top:683.76px;font-size:8.43px;line-height:8.43px;color:#2b2b2b;transform:scaleX(1.055);">annotated</div>
<div class="L" style="left:566.40px;top:694.26px;font-size:8.43px;line-height:8.43px;color:#2b2b2b;transform:scaleX(1.055);">mRNA</div>
<div class="L" style="left:13.90px;top:-4.26px;font-size:13.30px;line-height:13.30px;color:#111;font-weight:bold;transform:scaleX(0.857);-webkit-text-stroke:0.35px #111">a</div>
<div class="L" style="left:57.00px;top:140.19px;font-size:12.30px;line-height:12.30px;color:#111;font-weight:bold;transform:scaleX(1.080);-webkit-text-stroke:0.35px #111">b</div>
<div class="L" style="left:57.20px;top:281.67px;font-size:13.50px;line-height:13.50px;color:#111;font-weight:bold;transform:scaleX(0.926);-webkit-text-stroke:0.35px #111">c</div>
<div class="L" style="left:171.80px;top:3.85px;font-size:9.16px;line-height:9.16px;color:#333;transform:scaleX(0.971);">Mouse Rel mutants</div>
<div class="L" style="left:506.00px;top:3.85px;font-size:9.16px;line-height:9.16px;color:#333;transform:scaleX(0.974);">Mouse RelA mutants</div>
<div class="r" style="left:38.90px;top:17.70px;width:346.10px;height:1.20px;background:#505050;"></div>
<div class="r" style="left:412.90px;top:18.00px;width:271.40px;height:2.00px;background:#a3a3a3;"></div>
<div class="L" style="left:0.20px;top:40.89px;font-size:8.87px;line-height:8.87px;color:#333;transform:scaleX(1.009);">Time (min)</div>
<div class="L" style="left:63.60px;top:27.14px;font-size:8.58px;line-height:8.58px;color:#333;transform:scaleX(0.990);">WT</div>
<div class="L" style="left:124.10px;top:27.14px;font-size:8.58px;line-height:8.58px;color:#333;transform:scaleX(0.909);">R101Q</div>
<div class="L" style="left:200.00px;top:27.14px;font-size:8.58px;line-height:8.58px;color:#333;transform:scaleX(0.946);">R101A</div>
<div class="L" style="left:268.60px;top:27.14px;font-size:8.58px;line-height:8.58px;color:#333;transform:scaleX(0.946);">C137Y</div>
<div class="L" style="left:327.90px;top:27.14px;font-size:8.58px;line-height:8.58px;color:#333;transform:scaleX(0.911);">R101Q C137Y</div>
<div class="L" style="left:435.70px;top:27.14px;font-size:8.58px;line-height:8.58px;color:#333;transform:scaleX(0.975);">WT</div>
<div class="L" style="left:500.30px;top:27.14px;font-size:8.58px;line-height:8.58px;color:#333;transform:scaleX(0.961);">Q101R</div>
<div class="L" style="left:564.40px;top:27.14px;font-size:8.58px;line-height:8.58px;color:#333;transform:scaleX(0.938);">Y137C</div>
<div class="L" style="left:627.00px;top:27.14px;font-size:8.58px;line-height:8.58px;color:#333;transform:scaleX(0.919);">Q101R Y137C</div>
<div class="L" style="left:45.52px;top:43.24px;font-size:8.58px;line-height:8.58px;color:#333;transform:scaleX(1.000);">0</div>
<div class="L" style="left:55.72px;top:43.24px;font-size:8.58px;line-height:8.58px;color:#333;transform:scaleX(1.000);">1</div>
<div class="L" style="left:66.02px;top:43.24px;font-size:8.58px;line-height:8.58px;color:#333;transform:scaleX(1.000);">5</div>
<div class="L" style="left:77.53px;top:43.24px;font-size:8.58px;line-height:8.58px;color:#333;transform:scaleX(1.000);">10</div>
<div class="L" style="left:92.53px;top:43.24px;font-size:8.58px;line-height:8.58px;color:#333;transform:scaleX(1.000);">20</div>
<div class="L" style="left:113.52px;top:43.24px;font-size:8.58px;line-height:8.58px;color:#333;transform:scaleX(1.000);">0</div>
<div class="L" style="left:125.32px;top:43.24px;font-size:8.58px;line-height:8.58px;color:#333;transform:scaleX(1.000);">1</div>
<div class="L" style="left:135.32px;top:43.24px;font-size:8.58px;line-height:8.58px;color:#333;transform:scaleX(1.000);">5</div>
<div class="L" style="left:146.83px;top:43.24px;font-size:8.58px;line-height:8.58px;color:#333;transform:scaleX(1.000);">10</div>
<div class="L" style="left:162.43px;top:43.24px;font-size:8.58px;line-height:8.58px;color:#333;transform:scaleX(1.000);">20</div>
<div class="L" style="left:182.62px;top:43.24px;font-size:8.58px;line-height:8.58px;color:#333;transform:scaleX(1.000);">0</div>
<div class="L" style="left:193.92px;top:43.24px;font-size:8.58px;line-height:8.58px;color:#333;transform:scaleX(1.000);">1</div>
<div class="L" style="left:204.22px;top:43.24px;font-size:8.58px;line-height:8.58px;color:#333;transform:scaleX(1.000);">5</div>
<div class="L" style="left:215.63px;top:43.24px;font-size:8.58px;line-height:8.58px;color:#333;transform:scaleX(1.000);">10</div>
<div class="L" style="left:231.73px;top:43.24px;font-size:8.58px;line-height:8.58px;color:#333;transform:scaleX(1.000);">20</div>
<div class="L" style="left:253.12px;top:43.24px;font-size:8.58px;line-height:8.58px;color:#333;transform:scaleX(1.000);">0</div>
<div class="L" style="left:264.22px;top:43.24px;font-size:8.58px;line-height:8.58px;color:#333;transform:scaleX(1.000);">1</div>
<div class="L" style="left:274.12px;top:43.24px;font-size:8.58px;line-height:8.58px;color:#333;transform:scaleX(1.000);">5</div>
<div class="L" style="left:286.33px;top:43.24px;font-size:8.58px;line-height:8.58px;color:#333;transform:scaleX(1.000);">10</div>
<div class="L" style="left:301.83px;top:43.24px;font-size:8.58px;line-height:8.58px;color:#333;transform:scaleX(1.000);">20</div>
<div class="L" style="left:323.12px;top:43.24px;font-size:8.58px;line-height:8.58px;color:#333;transform:scaleX(1.000);">0</div>
<div class="L" style="left:334.82px;top:43.24px;font-size:8.58px;line-height:8.58px;color:#333;transform:scaleX(1.000);">1</div>
<div class="L" style="left:345.02px;top:43.24px;font-size:8.58px;line-height:8.58px;color:#333;transform:scaleX(1.000);">5</div>
<div class="L" style="left:356.73px;top:43.24px;font-size:8.58px;line-height:8.58px;color:#333;transform:scaleX(1.000);">10</div>
<div class="L" style="left:371.83px;top:43.24px;font-size:8.58px;line-height:8.58px;color:#333;transform:scaleX(1.000);">20</div>
<div class="L" style="left:414.02px;top:43.24px;font-size:8.58px;line-height:8.58px;color:#333;transform:scaleX(1.000);">0</div>
<div class="L" style="left:425.92px;top:43.24px;font-size:8.58px;line-height:8.58px;color:#333;transform:scaleX(1.000);">1</div>
<div class="L" style="left:436.12px;top:43.24px;font-size:8.58px;line-height:8.58px;color:#333;transform:scaleX(1.000);">5</div>
<div class="L" style="left:448.03px;top:43.24px;font-size:8.58px;line-height:8.58px;color:#333;transform:scaleX(1.000);">10</div>
<div class="L" style="left:462.83px;top:43.24px;font-size:8.58px;line-height:8.58px;color:#333;transform:scaleX(1.000);">20</div>
<div class="L" style="left:484.42px;top:43.24px;font-size:8.58px;line-height:8.58px;color:#333;transform:scaleX(1.000);">0</div>
<div class="L" style="left:496.22px;top:43.24px;font-size:8.58px;line-height:8.58px;color:#333;transform:scaleX(1.000);">1</div>
<div class="L" style="left:506.92px;top:43.24px;font-size:8.58px;line-height:8.58px;color:#333;transform:scaleX(1.000);">5</div>
<div class="L" style="left:518.43px;top:43.24px;font-size:8.58px;line-height:8.58px;color:#333;transform:scaleX(1.000);">10</div>
<div class="L" style="left:533.13px;top:43.24px;font-size:8.58px;line-height:8.58px;color:#333;transform:scaleX(1.000);">20</div>
<div class="L" style="left:553.12px;top:43.24px;font-size:8.58px;line-height:8.58px;color:#333;transform:scaleX(1.000);">0</div>
<div class="L" style="left:564.52px;top:43.24px;font-size:8.58px;line-height:8.58px;color:#333;transform:scaleX(1.000);">1</div>
<div class="L" style="left:574.32px;top:43.24px;font-size:8.58px;line-height:8.58px;color:#333;transform:scaleX(1.000);">5</div>
<div class="L" style="left:586.23px;top:43.24px;font-size:8.58px;line-height:8.58px;color:#333;transform:scaleX(1.000);">10</div>
<div class="L" style="left:600.53px;top:43.24px;font-size:8.58px;line-height:8.58px;color:#333;transform:scaleX(1.000);">20</div>
<div class="L" style="left:622.62px;top:43.24px;font-size:8.58px;line-height:8.58px;color:#333;transform:scaleX(1.000);">0</div>
<div class="L" style="left:634.02px;top:43.24px;font-size:8.58px;line-height:8.58px;color:#333;transform:scaleX(1.000);">1</div>
<div class="L" style="left:643.82px;top:43.24px;font-size:8.58px;line-height:8.58px;color:#333;transform:scaleX(1.000);">5</div>
<div class="L" style="left:655.33px;top:43.24px;font-size:8.58px;line-height:8.58px;color:#333;transform:scaleX(1.000);">10</div>
<div class="L" style="left:670.03px;top:43.24px;font-size:8.58px;line-height:8.58px;color:#333;transform:scaleX(1.000);">20</div>
<svg width="685" height="130" viewBox="0 0 685 130" style="position:absolute;left:0;top:0"><defs><filter id="bl" x="-50%" y="-50%" width="200%" height="200%"><feGaussianBlur stdDeviation="0.95"/></filter><filter id="bl2" x="-50%" y="-50%" width="200%" height="200%"><feGaussianBlur stdDeviation="1.1"/></filter><linearGradient id="sm" x1="0" y1="1" x2="0" y2="0"><stop offset="0" stop-color="#000" stop-opacity="1"/><stop offset="0.3" stop-color="#000" stop-opacity="0.42"/><stop offset="1" stop-color="#000" stop-opacity="0"/></linearGradient></defs><rect x="38.40" y="53.4" width="66.10" height="69.9" fill="#fcfcfc" stroke="#3a3a3a" stroke-width="1.1"/><rect x="109.50" y="53.4" width="64.70" height="69.9" fill="#fcfcfc" stroke="#3a3a3a" stroke-width="1.1"/><rect x="179.30" y="53.4" width="65.10" height="69.9" fill="#fcfcfc" stroke="#3a3a3a" stroke-width="1.1"/><rect x="249.40" y="53.4" width="65.00" height="69.9" fill="#fcfcfc" stroke="#3a3a3a" stroke-width="1.1"/><rect x="319.50" y="53.4" width="66.00" height="69.9" fill="#fcfcfc" stroke="#3a3a3a" stroke-width="1.1"/><rect x="411.60" y="53.4" width="65.00" height="69.9" fill="#fcfcfc" stroke="#3a3a3a" stroke-width="1.1"/><rect x="480.70" y="53.4" width="64.70" height="69.9" fill="#fcfcfc" stroke="#3a3a3a" stroke-width="1.1"/><rect x="549.50" y="53.4" width="64.90" height="69.9" fill="#fcfcfc" stroke="#3a3a3a" stroke-width="1.1"/><rect x="619.40" y="53.4" width="65.00" height="69.9" fill="#fcfcfc" stroke="#3a3a3a" stroke-width="1.1"/><rect x="42.10" y="77.90" width="6.80" height="32.00" fill="url(#sm)" opacity="0.33" filter="url(#bl2)"/><rect x="40.65" y="107.00" width="9.70" height="5.80" rx="1.8" fill="rgb(61,61,61)" filter="url(#bl)"/><rect x="54.80" y="74.80" width="6.60" height="32.00" fill="url(#sm)" opacity="0.29" filter="url(#bl2)"/><rect x="53.35" y="104.00" width="9.50" height="5.60" rx="1.8" fill="rgb(61,61,61)" filter="url(#bl)"/><rect x="67.90" y="68.20" width="6.60" height="32.00" fill="url(#sm)" opacity="0.29" filter="url(#bl2)"/><rect x="66.45" y="97.50" width="9.50" height="5.40" rx="1.8" fill="rgb(61,61,61)" filter="url(#bl)"/><rect x="81.20" y="57.10" width="6.40" height="32.00" fill="url(#sm)" opacity="0.26" filter="url(#bl2)"/><rect x="79.75" y="86.40" width="9.30" height="5.40" rx="1.8" fill="rgb(61,61,61)" filter="url(#bl)"/><rect x="94.90" y="56.00" width="6.20" height="30.80" fill="url(#sm)" opacity="0.23" filter="url(#bl2)"/><rect x="93.45" y="84.30" width="9.10" height="5.00" rx="1.8" fill="rgb(93,93,93)" filter="url(#bl)"/><rect x="111.70" y="78.60" width="7.60" height="32.00" fill="url(#sm)" opacity="0.45" filter="url(#bl2)"/><rect x="110.25" y="106.05" width="10.50" height="9.10" rx="1.8" fill="rgb(40,40,40)" filter="url(#bl)"/><rect x="125.60" y="75.30" width="7.00" height="32.00" fill="url(#sm)" opacity="0.33" filter="url(#bl2)"/><rect x="124.15" y="104.10" width="9.90" height="6.40" rx="1.8" fill="rgb(40,40,40)" filter="url(#bl)"/><rect x="139.10" y="68.20" width="6.40" height="32.00" fill="url(#sm)" opacity="0.20" filter="url(#bl2)"/><rect x="137.65" y="97.60" width="9.30" height="5.20" rx="1.8" fill="rgb(115,115,115)" filter="url(#bl)"/><rect x="152.70" y="68.70" width="6.40" height="20.00" fill="url(#sm)" opacity="0.10" filter="url(#bl2)"/><rect x="151.25" y="86.40" width="9.30" height="4.60" rx="1.8" fill="rgb(190,190,190)" filter="url(#bl)"/><rect x="165.80" y="66.30" width="6.40" height="20.00" fill="url(#sm)" opacity="0.04" filter="url(#bl2)"/><rect x="164.35" y="84.00" width="9.30" height="4.60" rx="1.8" fill="rgb(229,229,229)" filter="url(#bl)"/><rect x="183.05" y="81.10" width="6.90" height="32.00" fill="url(#sm)" opacity="0.23" filter="url(#bl2)"/><rect x="181.60" y="110.30" width="9.80" height="5.60" rx="1.8" fill="rgb(93,93,93)" filter="url(#bl)"/><rect x="195.90" y="87.80" width="6.40" height="20.00" fill="url(#sm)" opacity="0.03" filter="url(#bl2)"/><rect x="194.45" y="105.50" width="9.30" height="4.60" rx="1.8" fill="rgb(229,229,229)" filter="url(#bl)"/><rect x="250.40" y="77.70" width="7.00" height="32.00" fill="url(#sm)" opacity="0.33" filter="url(#bl2)"/><rect x="248.95" y="106.80" width="9.90" height="5.80" rx="1.8" fill="rgb(50,50,50)" filter="url(#bl)"/><rect x="264.00" y="74.40" width="7.00" height="32.00" fill="url(#sm)" opacity="0.33" filter="url(#bl2)"/><rect x="262.55" y="103.50" width="9.90" height="5.80" rx="1.8" fill="rgb(50,50,50)" filter="url(#bl)"/><rect x="277.70" y="68.20" width="7.00" height="32.00" fill="url(#sm)" opacity="0.33" filter="url(#bl2)"/><rect x="276.25" y="97.30" width="9.90" height="5.80" rx="1.8" fill="rgb(50,50,50)" filter="url(#bl)"/><rect x="291.40" y="57.40" width="7.00" height="32.00" fill="url(#sm)" opacity="0.33" filter="url(#bl2)"/><rect x="289.95" y="86.50" width="9.90" height="5.80" rx="1.8" fill="rgb(50,50,50)" filter="url(#bl)"/><rect x="304.80" y="56.00" width="6.40" height="31.00" fill="url(#sm)" opacity="0.29" filter="url(#bl2)"/><rect x="303.35" y="84.40" width="9.30" height="5.20" rx="1.8" fill="rgb(61,61,61)" filter="url(#bl)"/><rect x="324.20" y="79.50" width="8.20" height="32.00" fill="url(#sm)" opacity="0.49" filter="url(#bl2)"/><rect x="322.75" y="105.95" width="11.10" height="11.10" rx="1.8" fill="rgb(40,40,40)" filter="url(#bl)"/><rect x="337.80" y="75.20" width="7.40" height="32.00" fill="url(#sm)" opacity="0.39" filter="url(#bl2)"/><rect x="336.35" y="103.50" width="10.30" height="7.40" rx="1.8" fill="rgb(40,40,40)" filter="url(#bl)"/><rect x="350.30" y="81.30" width="6.40" height="20.00" fill="url(#sm)" opacity="0.10" filter="url(#bl2)"/><rect x="348.85" y="99.00" width="9.30" height="4.60" rx="1.8" fill="rgb(190,190,190)" filter="url(#bl)"/><rect x="362.60" y="69.70" width="6.40" height="20.00" fill="url(#sm)" opacity="0.04" filter="url(#bl2)"/><rect x="361.15" y="87.40" width="9.30" height="4.60" rx="1.8" fill="rgb(229,229,229)" filter="url(#bl)"/><rect x="374.80" y="67.00" width="6.40" height="20.00" fill="url(#sm)" opacity="0.02" filter="url(#bl2)"/><rect x="373.35" y="84.70" width="9.30" height="4.60" rx="1.8" fill="rgb(242,242,242)" filter="url(#bl)"/><rect x="417.20" y="78.70" width="6.80" height="32.00" fill="url(#sm)" opacity="0.20" filter="url(#bl2)"/><rect x="415.75" y="107.65" width="9.70" height="6.10" rx="1.8" fill="rgb(72,72,72)" filter="url(#bl)"/><rect x="485.15" y="76.80" width="8.90" height="32.00" fill="url(#sm)" opacity="0.55" filter="url(#bl2)"/><rect x="483.70" y="102.00" width="11.80" height="13.60" rx="1.8" fill="rgb(40,40,40)" filter="url(#bl)"/><rect x="498.25" y="73.40" width="7.90" height="32.00" fill="url(#sm)" opacity="0.52" filter="url(#bl2)"/><rect x="496.80" y="99.10" width="10.80" height="12.60" rx="1.8" fill="rgb(40,40,40)" filter="url(#bl)"/><rect x="511.40" y="64.40" width="7.40" height="32.00" fill="url(#sm)" opacity="0.45" filter="url(#bl2)"/><rect x="509.95" y="91.35" width="10.30" height="10.10" rx="1.8" fill="rgb(40,40,40)" filter="url(#bl)"/><rect x="523.45" y="56.00" width="6.90" height="23.80" fill="url(#sm)" opacity="0.36" filter="url(#bl2)"/><rect x="522.00" y="76.60" width="9.80" height="6.40" rx="1.8" fill="rgb(40,40,40)" filter="url(#bl)"/><rect x="535.75" y="56.00" width="5.90" height="21.80" fill="url(#sm)" opacity="0.23" filter="url(#bl2)"/><rect x="534.30" y="75.40" width="8.80" height="4.80" rx="1.8" fill="rgb(115,115,115)" filter="url(#bl)"/><rect x="552.55" y="80.20" width="6.90" height="32.00" fill="url(#sm)" opacity="0.16" filter="url(#bl2)"/><rect x="551.10" y="109.65" width="9.80" height="5.10" rx="1.8" fill="rgb(136,136,136)" filter="url(#bl)"/><rect x="623.75" y="81.30" width="7.90" height="32.00" fill="url(#sm)" opacity="0.36" filter="url(#bl2)"/><rect x="622.30" y="110.00" width="10.80" height="6.60" rx="1.8" fill="rgb(40,40,40)" filter="url(#bl)"/><rect x="637.30" y="74.00" width="6.40" height="32.00" fill="url(#sm)" opacity="0.20" filter="url(#bl2)"/><rect x="635.85" y="103.35" width="9.30" height="5.30" rx="1.8" fill="rgb(158,158,158)" filter="url(#bl)"/><rect x="650.00" y="78.30" width="6.40" height="20.00" fill="url(#sm)" opacity="0.05" filter="url(#bl2)"/><rect x="648.55" y="96.00" width="9.30" height="4.60" rx="1.8" fill="rgb(229,229,229)" filter="url(#bl)"/><rect x="662.80" y="66.30" width="6.40" height="20.00" fill="url(#sm)" opacity="0.03" filter="url(#bl2)"/><rect x="661.35" y="84.00" width="9.30" height="4.60" rx="1.8" fill="rgb(237,237,237)" filter="url(#bl)"/><rect x="674.80" y="63.60" width="6.40" height="20.00" fill="url(#sm)" opacity="0.03" filter="url(#bl2)"/><rect x="673.35" y="81.30" width="9.30" height="4.60" rx="1.8" fill="rgb(242,242,242)" filter="url(#bl)"/></svg>
<svg width="685" height="762" style="position:absolute;left:0;top:0;overflow:visible"><line x1="120.50" y1="146.4" x2="120.50" y2="248.00" stroke="#4a4a4a" stroke-width="0.9"/><line x1="120.10" y1="247.50" x2="272.40" y2="247.50" stroke="#4a4a4a" stroke-width="0.9"/><line x1="116.70" y1="247.50" x2="120.50" y2="247.50" stroke="#4a4a4a" stroke-width="0.9"/><line x1="116.70" y1="201.45" x2="120.50" y2="201.45" stroke="#4a4a4a" stroke-width="0.9"/><line x1="116.70" y1="155.40" x2="120.50" y2="155.40" stroke="#4a4a4a" stroke-width="0.9"/><line x1="120.50" y1="247.50" x2="120.50" y2="250.70" stroke="#4a4a4a" stroke-width="0.9"/><line x1="158.32" y1="247.50" x2="158.32" y2="250.70" stroke="#4a4a4a" stroke-width="0.9"/><line x1="196.15" y1="247.50" x2="196.15" y2="250.70" stroke="#4a4a4a" stroke-width="0.9"/><line x1="233.98" y1="247.50" x2="233.98" y2="250.70" stroke="#4a4a4a" stroke-width="0.9"/><line x1="271.80" y1="247.50" x2="271.80" y2="250.70" stroke="#4a4a4a" stroke-width="0.9"/><path d="M120.50,155.40 L120.88,164.85 L121.26,173.32 L121.63,180.90 L122.01,187.69 L122.39,193.78 L122.77,199.23 L123.15,204.11 L123.53,208.49 L123.90,212.41 L124.28,215.92 L124.66,219.07 L125.04,221.88 L125.42,224.41 L125.80,226.67 L126.17,228.70 L126.55,230.51 L126.93,232.14 L127.31,233.59 L127.69,234.90 L128.06,236.07 L128.44,237.11 L128.82,238.05 L129.20,238.89 L129.58,239.64 L129.96,240.32 L130.33,240.92 L130.71,241.46 L131.09,241.95 L131.47,242.38 L131.85,242.77 L132.23,243.12 L132.60,243.43 L132.98,243.71 L133.36,243.96 L133.74,244.19 L134.12,244.39 L134.50,244.57 L134.87,244.73 L135.25,244.88 L135.63,245.00 L136.01,245.12 L136.39,245.22 L136.76,245.32 L137.14,245.40 L137.52,245.48 L137.90,245.54 L138.28,245.60 L138.66,245.66 L139.03,245.70 L139.41,245.75 L139.79,245.79 L140.17,245.82 L140.55,245.85 L140.93,245.88 L141.30,245.90 L141.68,245.93 L142.06,245.95 L142.44,245.96 L142.82,245.98 L143.19,246.00 L143.57,246.01 L143.95,246.02 L144.33,246.03 L144.71,246.04 L145.09,246.05 L145.46,246.05 L145.84,246.06 L146.22,246.07 L146.60,246.07 L146.98,246.08 L147.36,246.08 L147.73,246.09 L148.11,246.09 L148.49,246.09 L148.87,246.09 L149.25,246.10 L149.63,246.10 L150.00,246.10 L150.38,246.10 L150.76,246.10 L151.14,246.11 L151.52,246.11 L151.89,246.11 L152.27,246.11 L152.65,246.11 L153.03,246.11 L153.41,246.11 L153.79,246.11 L154.16,246.11 L154.54,246.11 L154.92,246.11 L155.30,246.11 L155.68,246.12 L156.06,246.12 L156.43,246.12 L156.81,246.12 L157.19,246.12 L157.57,246.12 L157.95,246.12 L158.32,246.12 L158.70,246.12 L159.08,246.12 L159.46,246.12 L159.84,246.12 L160.22,246.12 L160.59,246.12 L160.97,246.12 L161.35,246.12 L161.73,246.12 L162.11,246.12 L162.49,246.12 L162.86,246.12 L163.24,246.12 L163.62,246.12 L164.00,246.12 L164.38,246.12 L164.76,246.12 L165.13,246.12 L165.51,246.12 L165.89,246.12 L166.27,246.12 L166.65,246.12 L167.02,246.12 L167.40,246.12 L167.78,246.12 L168.16,246.12 L168.54,246.12 L168.92,246.12 L169.29,246.12 L169.67,246.12 L170.05,246.12 L170.43,246.12 L170.81,246.12 L171.19,246.12 L171.56,246.12 L171.94,246.12 L172.32,246.12 L172.70,246.12 L173.08,246.12 L173.46,246.12 L173.83,246.12 L174.21,246.12 L174.59,246.12 L174.97,246.12 L175.35,246.12 L175.72,246.12 L176.10,246.12 L176.48,246.12 L176.86,246.12 L177.24,246.12 L177.62,246.12 L177.99,246.12 L178.37,246.12 L178.75,246.12 L179.13,246.12 L179.51,246.12 L179.89,246.12 L180.26,246.12 L180.64,246.12 L181.02,246.12 L181.40,246.12 L181.78,246.12 L182.15,246.12 L182.53,246.12 L182.91,246.12 L183.29,246.12 L183.67,246.12 L184.05,246.12 L184.42,246.12 L184.80,246.12 L185.18,246.12 L185.56,246.12 L185.94,246.12 L186.32,246.12 L186.69,246.12 L187.07,246.12 L187.45,246.12 L187.83,246.12 L188.21,246.12 L188.59,246.12 L188.96,246.12 L189.34,246.12 L189.72,246.12 L190.10,246.12 L190.48,246.12 L190.85,246.12 L191.23,246.12 L191.61,246.12 L191.99,246.12 L192.37,246.12 L192.75,246.12 L193.12,246.12 L193.50,246.12 L193.88,246.12 L194.26,246.12 L194.64,246.12 L195.02,246.12 L195.39,246.12 L195.77,246.12 L196.15,246.12 L196.53,246.12 L196.91,246.12 L197.28,246.12 L197.66,246.12 L198.04,246.12 L198.42,246.12 L198.80,246.12 L199.18,246.12 L199.55,246.12 L199.93,246.12 L200.31,246.12 L200.69,246.12 L201.07,246.12 L201.45,246.12 L201.82,246.12 L202.20,246.12 L202.58,246.12 L202.96,246.12 L203.34,246.12 L203.72,246.12 L204.09,246.12 L204.47,246.12 L204.85,246.12 L205.23,246.12 L205.61,246.12 L205.98,246.12 L206.36,246.12 L206.74,246.12 L207.12,246.12 L207.50,246.12 L207.88,246.12 L208.25,246.12 L208.63,246.12 L209.01,246.12 L209.39,246.12 L209.77,246.12 L210.15,246.12 L210.52,246.12 L210.90,246.12 L211.28,246.12 L211.66,246.12 L212.04,246.12 L212.41,246.12 L212.79,246.12 L213.17,246.12 L213.55,246.12 L213.93,246.12 L214.31,246.12 L214.68,246.12 L215.06,246.12 L215.44,246.12 L215.82,246.12 L216.20,246.12 L216.58,246.12 L216.95,246.12 L217.33,246.12 L217.71,246.12 L218.09,246.12 L218.47,246.12 L218.84,246.12 L219.22,246.12 L219.60,246.12 L219.98,246.12 L220.36,246.12 L220.74,246.12 L221.11,246.12 L221.49,246.12 L221.87,246.12 L222.25,246.12 L222.63,246.12 L223.01,246.12 L223.38,246.12 L223.76,246.12 L224.14,246.12 L224.52,246.12 L224.90,246.12 L225.28,246.12 L225.65,246.12 L226.03,246.12 L226.41,246.12 L226.79,246.12 L227.17,246.12 L227.54,246.12 L227.92,246.12 L228.30,246.12 L228.68,246.12 L229.06,246.12 L229.44,246.12 L229.81,246.12 L230.19,246.12 L230.57,246.12 L230.95,246.12 L231.33,246.12 L231.71,246.12 L232.08,246.12 L232.46,246.12 L232.84,246.12 L233.22,246.12 L233.60,246.12 L233.98,246.12 L234.35,246.12 L234.73,246.12 L235.11,246.12 L235.49,246.12 L235.87,246.12 L236.24,246.12 L236.62,246.12 L237.00,246.12 L237.38,246.12 L237.76,246.12 L238.14,246.12 L238.51,246.12 L238.89,246.12 L239.27,246.12 L239.65,246.12 L240.03,246.12 L240.41,246.12 L240.78,246.12 L241.16,246.12 L241.54,246.12 L241.92,246.12 L242.30,246.12 L242.67,246.12 L243.05,246.12 L243.43,246.12 L243.81,246.12 L244.19,246.12 L244.57,246.12 L244.94,246.12 L245.32,246.12 L245.70,246.12 L246.08,246.12 L246.46,246.12 L246.84,246.12 L247.21,246.12 L247.59,246.12 L247.97,246.12 L248.35,246.12 L248.73,246.12 L249.11,246.12 L249.48,246.12 L249.86,246.12 L250.24,246.12 L250.62,246.12 L251.00,246.12 L251.37,246.12 L251.75,246.12 L252.13,246.12 L252.51,246.12 L252.89,246.12 L253.27,246.12 L253.64,246.12 L254.02,246.12 L254.40,246.12 L254.78,246.12 L255.16,246.12 L255.54,246.12 L255.91,246.12 L256.29,246.12 L256.67,246.12 L257.05,246.12 L257.43,246.12 L257.80,246.12 L258.18,246.12 L258.56,246.12 L258.94,246.12 L259.32,246.12 L259.70,246.12 L260.07,246.12 L260.45,246.12 L260.83,246.12 L261.21,246.12 L261.59,246.12 L261.97,246.12 L262.34,246.12 L262.72,246.12 L263.10,246.12 L263.48,246.12 L263.86,246.12 L264.24,246.12 L264.61,246.12 L264.99,246.12 L265.37,246.12 L265.75,246.12 L266.13,246.12 L266.50,246.12 L266.88,246.12 L267.26,246.12 L267.64,246.12 L268.02,246.12 L268.40,246.12 L268.77,246.12 L269.15,246.12 L269.53,246.12 L269.91,246.12 L270.29,246.12 L270.67,246.12 L271.04,246.12 L271.42,246.12 L271.80,246.12" fill="none" stroke="#f6c431" stroke-width="0.75" opacity="0.9"/><line x1="128.06" y1="239.21" x2="128.06" y2="232.76" stroke="#f6c431" stroke-width="0.8" opacity="0.75"/><line x1="126.27" y1="239.21" x2="129.87" y2="239.21" stroke="#f6c431" stroke-width="0.8" opacity="0.75"/><line x1="126.27" y1="232.76" x2="129.87" y2="232.76" stroke="#f6c431" stroke-width="0.8" opacity="0.75"/><path d="M120.50,152.80 L123.00,157.20 L118.00,157.20Z" fill="#f6c431"/><path d="M128.06,233.85 L130.56,238.25 L125.56,238.25Z" fill="#f6c431"/><path d="M158.32,243.06 L160.82,247.46 L155.82,247.46Z" fill="#f6c431"/><path d="M196.15,243.98 L198.65,248.38 L193.65,248.38Z" fill="#f6c431"/><path d="M271.80,243.98 L274.30,248.38 L269.30,248.38Z" fill="#f6c431"/><path d="M120.50,155.40 L120.88,158.64 L121.26,161.76 L121.63,164.76 L122.01,167.65 L122.39,170.44 L122.77,173.12 L123.15,175.71 L123.53,178.20 L123.90,180.59 L124.28,182.90 L124.66,185.13 L125.04,187.27 L125.42,189.34 L125.80,191.32 L126.17,193.24 L126.55,195.08 L126.93,196.86 L127.31,198.57 L127.69,200.22 L128.06,201.81 L128.44,203.34 L128.82,204.81 L129.20,206.23 L129.58,207.60 L129.96,208.91 L130.33,210.18 L130.71,211.40 L131.09,212.58 L131.47,213.71 L131.85,214.80 L132.23,215.85 L132.60,216.86 L132.98,217.84 L133.36,218.78 L133.74,219.68 L134.12,220.55 L134.50,221.39 L134.87,222.20 L135.25,222.98 L135.63,223.73 L136.01,224.45 L136.39,225.15 L136.76,225.82 L137.14,226.46 L137.52,227.09 L137.90,227.68 L138.28,228.26 L138.66,228.82 L139.03,229.35 L139.41,229.87 L139.79,230.36 L140.17,230.84 L140.55,231.30 L140.93,231.75 L141.30,232.17 L141.68,232.58 L142.06,232.98 L142.44,233.36 L142.82,233.73 L143.19,234.09 L143.57,234.43 L143.95,234.75 L144.33,235.07 L144.71,235.38 L145.09,235.67 L145.46,235.95 L145.84,236.23 L146.22,236.49 L146.60,236.74 L146.98,236.98 L147.36,237.22 L147.73,237.44 L148.11,237.66 L148.49,237.87 L148.87,238.07 L149.25,238.27 L149.63,238.46 L150.00,238.64 L150.38,238.81 L150.76,238.98 L151.14,239.14 L151.52,239.29 L151.89,239.44 L152.27,239.59 L152.65,239.73 L153.03,239.86 L153.41,239.99 L153.79,240.11 L154.16,240.23 L154.54,240.35 L154.92,240.46 L155.30,240.56 L155.68,240.67 L156.06,240.77 L156.43,240.86 L156.81,240.95 L157.19,241.04 L157.57,241.13 L157.95,241.21 L158.32,241.29 L158.70,241.36 L159.08,241.44 L159.46,241.51 L159.84,241.58 L160.22,241.64 L160.59,241.70 L160.97,241.76 L161.35,241.82 L161.73,241.88 L162.11,241.93 L162.49,241.99 L162.86,242.04 L163.24,242.09 L163.62,242.13 L164.00,242.18 L164.38,242.22 L164.76,242.26 L165.13,242.30 L165.51,242.34 L165.89,242.38 L166.27,242.41 L166.65,242.45 L167.02,242.48 L167.40,242.51 L167.78,242.55 L168.16,242.58 L168.54,242.60 L168.92,242.63 L169.29,242.66 L169.67,242.68 L170.05,242.71 L170.43,242.73 L170.81,242.76 L171.19,242.78 L171.56,242.80 L171.94,242.82 L172.32,242.84 L172.70,242.86 L173.08,242.88 L173.46,242.89 L173.83,242.91 L174.21,242.93 L174.59,242.94 L174.97,242.96 L175.35,242.97 L175.72,242.99 L176.10,243.00 L176.48,243.01 L176.86,243.03 L177.24,243.04 L177.62,243.05 L177.99,243.06 L178.37,243.07 L178.75,243.08 L179.13,243.09 L179.51,243.10 L179.89,243.11 L180.26,243.12 L180.64,243.13 L181.02,243.14 L181.40,243.15 L181.78,243.15 L182.15,243.16 L182.53,243.17 L182.91,243.17 L183.29,243.18 L183.67,243.19 L184.05,243.19 L184.42,243.20 L184.80,243.21 L185.18,243.21 L185.56,243.22 L185.94,243.22 L186.32,243.23 L186.69,243.23 L187.07,243.24 L187.45,243.24 L187.83,243.24 L188.21,243.25 L188.59,243.25 L188.96,243.26 L189.34,243.26 L189.72,243.26 L190.10,243.27 L190.48,243.27 L190.85,243.27 L191.23,243.28 L191.61,243.28 L191.99,243.28 L192.37,243.28 L192.75,243.29 L193.12,243.29 L193.50,243.29 L193.88,243.29 L194.26,243.30 L194.64,243.30 L195.02,243.30 L195.39,243.30 L195.77,243.30 L196.15,243.31 L196.53,243.31 L196.91,243.31 L197.28,243.31 L197.66,243.31 L198.04,243.32 L198.42,243.32 L198.80,243.32 L199.18,243.32 L199.55,243.32 L199.93,243.32 L200.31,243.32 L200.69,243.32 L201.07,243.33 L201.45,243.33 L201.82,243.33 L202.20,243.33 L202.58,243.33 L202.96,243.33 L203.34,243.33 L203.72,243.33 L204.09,243.33 L204.47,243.33 L204.85,243.33 L205.23,243.34 L205.61,243.34 L205.98,243.34 L206.36,243.34 L206.74,243.34 L207.12,243.34 L207.50,243.34 L207.88,243.34 L208.25,243.34 L208.63,243.34 L209.01,243.34 L209.39,243.34 L209.77,243.34 L210.15,243.34 L210.52,243.34 L210.90,243.34 L211.28,243.34 L211.66,243.35 L212.04,243.35 L212.41,243.35 L212.79,243.35 L213.17,243.35 L213.55,243.35 L213.93,243.35 L214.31,243.35 L214.68,243.35 L215.06,243.35 L215.44,243.35 L215.82,243.35 L216.20,243.35 L216.58,243.35 L216.95,243.35 L217.33,243.35 L217.71,243.35 L218.09,243.35 L218.47,243.35 L218.84,243.35 L219.22,243.35 L219.60,243.35 L219.98,243.35 L220.36,243.35 L220.74,243.35 L221.11,243.35 L221.49,243.35 L221.87,243.35 L222.25,243.35 L222.63,243.35 L223.01,243.35 L223.38,243.35 L223.76,243.35 L224.14,243.35 L224.52,243.35 L224.90,243.35 L225.28,243.35 L225.65,243.35 L226.03,243.35 L226.41,243.35 L226.79,243.35 L227.17,243.35 L227.54,243.35 L227.92,243.35 L228.30,243.35 L228.68,243.35 L229.06,243.35 L229.44,243.35 L229.81,243.35 L230.19,243.35 L230.57,243.35 L230.95,243.35 L231.33,243.35 L231.71,243.35 L232.08,243.35 L232.46,243.35 L232.84,243.35 L233.22,243.35 L233.60,243.35 L233.98,243.35 L234.35,243.35 L234.73,243.35 L235.11,243.35 L235.49,243.35 L235.87,243.35 L236.24,243.35 L236.62,243.35 L237.00,243.35 L237.38,243.35 L237.76,243.35 L238.14,243.35 L238.51,243.35 L238.89,243.35 L239.27,243.35 L239.65,243.35 L240.03,243.35 L240.41,243.35 L240.78,243.35 L241.16,243.35 L241.54,243.35 L241.92,243.35 L242.30,243.35 L242.67,243.36 L243.05,243.36 L243.43,243.36 L243.81,243.36 L244.19,243.36 L244.57,243.36 L244.94,243.36 L245.32,243.36 L245.70,243.36 L246.08,243.36 L246.46,243.36 L246.84,243.36 L247.21,243.36 L247.59,243.36 L247.97,243.36 L248.35,243.36 L248.73,243.36 L249.11,243.36 L249.48,243.36 L249.86,243.36 L250.24,243.36 L250.62,243.36 L251.00,243.36 L251.37,243.36 L251.75,243.36 L252.13,243.36 L252.51,243.36 L252.89,243.36 L253.27,243.36 L253.64,243.36 L254.02,243.36 L254.40,243.36 L254.78,243.36 L255.16,243.36 L255.54,243.36 L255.91,243.36 L256.29,243.36 L256.67,243.36 L257.05,243.36 L257.43,243.36 L257.80,243.36 L258.18,243.36 L258.56,243.36 L258.94,243.36 L259.32,243.36 L259.70,243.36 L260.07,243.36 L260.45,243.36 L260.83,243.36 L261.21,243.36 L261.59,243.36 L261.97,243.36 L262.34,243.36 L262.72,243.36 L263.10,243.36 L263.48,243.36 L263.86,243.36 L264.24,243.36 L264.61,243.36 L264.99,243.36 L265.37,243.36 L265.75,243.36 L266.13,243.36 L266.50,243.36 L266.88,243.36 L267.26,243.36 L267.64,243.36 L268.02,243.36 L268.40,243.36 L268.77,243.36 L269.15,243.36 L269.53,243.36 L269.91,243.36 L270.29,243.36 L270.67,243.36 L271.04,243.36 L271.42,243.36 L271.80,243.36" fill="none" stroke="#9a3a9c" stroke-width="0.75" opacity="0.9"/><line x1="128.06" y1="217.11" x2="128.06" y2="188.56" stroke="#9a3a9c" stroke-width="0.8" opacity="0.75"/><line x1="126.27" y1="217.11" x2="129.87" y2="217.11" stroke="#9a3a9c" stroke-width="0.8" opacity="0.75"/><line x1="126.27" y1="188.56" x2="129.87" y2="188.56" stroke="#9a3a9c" stroke-width="0.8" opacity="0.75"/><line x1="158.32" y1="241.05" x2="158.32" y2="235.53" stroke="#9a3a9c" stroke-width="0.8" opacity="0.75"/><line x1="156.52" y1="241.05" x2="160.12" y2="241.05" stroke="#9a3a9c" stroke-width="0.8" opacity="0.75"/><line x1="156.52" y1="235.53" x2="160.12" y2="235.53" stroke="#9a3a9c" stroke-width="0.8" opacity="0.75"/><path d="M120.50,152.80 L122.80,155.40 L120.50,158.00 L118.20,155.40Z" fill="#9a3a9c"/><path d="M128.06,197.01 L130.37,199.61 L128.06,202.21 L125.77,199.61Z" fill="#9a3a9c"/><path d="M158.32,235.69 L160.62,238.29 L158.32,240.89 L156.02,238.29Z" fill="#9a3a9c"/><path d="M196.15,240.30 L198.45,242.90 L196.15,245.50 L193.85,242.90Z" fill="#9a3a9c"/><path d="M271.80,241.22 L274.10,243.82 L271.80,246.42 L269.50,243.82Z" fill="#9a3a9c"/><path d="M120.50,155.40 L120.88,156.46 L121.26,157.51 L121.63,158.55 L122.01,159.58 L122.39,160.59 L122.77,161.59 L123.15,162.58 L123.53,163.55 L123.90,164.51 L124.28,165.46 L124.66,166.40 L125.04,167.33 L125.42,168.25 L125.80,169.15 L126.17,170.04 L126.55,170.93 L126.93,171.80 L127.31,172.66 L127.69,173.51 L128.06,174.35 L128.44,175.18 L128.82,175.99 L129.20,176.80 L129.58,177.60 L129.96,178.39 L130.33,179.17 L130.71,179.94 L131.09,180.69 L131.47,181.44 L131.85,182.18 L132.23,182.92 L132.60,183.64 L132.98,184.35 L133.36,185.06 L133.74,185.75 L134.12,186.44 L134.50,187.12 L134.87,187.79 L135.25,188.45 L135.63,189.10 L136.01,189.75 L136.39,190.38 L136.76,191.01 L137.14,191.64 L137.52,192.25 L137.90,192.86 L138.28,193.45 L138.66,194.05 L139.03,194.63 L139.41,195.21 L139.79,195.78 L140.17,196.34 L140.55,196.89 L140.93,197.44 L141.30,197.98 L141.68,198.52 L142.06,199.05 L142.44,199.57 L142.82,200.08 L143.19,200.59 L143.57,201.10 L143.95,201.59 L144.33,202.08 L144.71,202.57 L145.09,203.04 L145.46,203.52 L145.84,203.98 L146.22,204.44 L146.60,204.90 L146.98,205.35 L147.36,205.79 L147.73,206.23 L148.11,206.66 L148.49,207.09 L148.87,207.51 L149.25,207.93 L149.63,208.34 L150.00,208.75 L150.38,209.15 L150.76,209.54 L151.14,209.93 L151.52,210.32 L151.89,210.70 L152.27,211.08 L152.65,211.45 L153.03,211.82 L153.41,212.18 L153.79,212.54 L154.16,212.90 L154.54,213.25 L154.92,213.59 L155.30,213.93 L155.68,214.27 L156.06,214.60 L156.43,214.93 L156.81,215.25 L157.19,215.58 L157.57,215.89 L157.95,216.20 L158.32,216.51 L158.70,216.82 L159.08,217.12 L159.46,217.42 L159.84,217.71 L160.22,218.00 L160.59,218.29 L160.97,218.57 L161.35,218.85 L161.73,219.12 L162.11,219.40 L162.49,219.67 L162.86,219.93 L163.24,220.19 L163.62,220.45 L164.00,220.71 L164.38,220.96 L164.76,221.21 L165.13,221.46 L165.51,221.70 L165.89,221.94 L166.27,222.18 L166.65,222.41 L167.02,222.64 L167.40,222.87 L167.78,223.10 L168.16,223.32 L168.54,223.54 L168.92,223.76 L169.29,223.97 L169.67,224.19 L170.05,224.40 L170.43,224.60 L170.81,224.81 L171.19,225.01 L171.56,225.21 L171.94,225.41 L172.32,225.60 L172.70,225.79 L173.08,225.98 L173.46,226.17 L173.83,226.35 L174.21,226.54 L174.59,226.72 L174.97,226.89 L175.35,227.07 L175.72,227.24 L176.10,227.42 L176.48,227.59 L176.86,227.75 L177.24,227.92 L177.62,228.08 L177.99,228.24 L178.37,228.40 L178.75,228.56 L179.13,228.71 L179.51,228.87 L179.89,229.02 L180.26,229.17 L180.64,229.32 L181.02,229.46 L181.40,229.61 L181.78,229.75 L182.15,229.89 L182.53,230.03 L182.91,230.16 L183.29,230.30 L183.67,230.43 L184.05,230.56 L184.42,230.69 L184.80,230.82 L185.18,230.95 L185.56,231.08 L185.94,231.20 L186.32,231.32 L186.69,231.44 L187.07,231.56 L187.45,231.68 L187.83,231.80 L188.21,231.91 L188.59,232.03 L188.96,232.14 L189.34,232.25 L189.72,232.36 L190.10,232.47 L190.48,232.57 L190.85,232.68 L191.23,232.78 L191.61,232.88 L191.99,232.99 L192.37,233.09 L192.75,233.18 L193.12,233.28 L193.50,233.38 L193.88,233.47 L194.26,233.57 L194.64,233.66 L195.02,233.75 L195.39,233.84 L195.77,233.93 L196.15,234.02 L196.53,234.11 L196.91,234.20 L197.28,234.28 L197.66,234.37 L198.04,234.45 L198.42,234.53 L198.80,234.61 L199.18,234.69 L199.55,234.77 L199.93,234.85 L200.31,234.93 L200.69,235.00 L201.07,235.08 L201.45,235.15 L201.82,235.22 L202.20,235.30 L202.58,235.37 L202.96,235.44 L203.34,235.51 L203.72,235.58 L204.09,235.65 L204.47,235.71 L204.85,235.78 L205.23,235.84 L205.61,235.91 L205.98,235.97 L206.36,236.04 L206.74,236.10 L207.12,236.16 L207.50,236.22 L207.88,236.28 L208.25,236.34 L208.63,236.40 L209.01,236.46 L209.39,236.51 L209.77,236.57 L210.15,236.63 L210.52,236.68 L210.90,236.73 L211.28,236.79 L211.66,236.84 L212.04,236.89 L212.41,236.95 L212.79,237.00 L213.17,237.05 L213.55,237.10 L213.93,237.15 L214.31,237.19 L214.68,237.24 L215.06,237.29 L215.44,237.34 L215.82,237.38 L216.20,237.43 L216.58,237.47 L216.95,237.52 L217.33,237.56 L217.71,237.60 L218.09,237.65 L218.47,237.69 L218.84,237.73 L219.22,237.77 L219.60,237.81 L219.98,237.85 L220.36,237.89 L220.74,237.93 L221.11,237.97 L221.49,238.01 L221.87,238.05 L222.25,238.09 L222.63,238.12 L223.01,238.16 L223.38,238.19 L223.76,238.23 L224.14,238.27 L224.52,238.30 L224.90,238.33 L225.28,238.37 L225.65,238.40 L226.03,238.43 L226.41,238.47 L226.79,238.50 L227.17,238.53 L227.54,238.56 L227.92,238.59 L228.30,238.62 L228.68,238.65 L229.06,238.68 L229.44,238.71 L229.81,238.74 L230.19,238.77 L230.57,238.80 L230.95,238.83 L231.33,238.85 L231.71,238.88 L232.08,238.91 L232.46,238.94 L232.84,238.96 L233.22,238.99 L233.60,239.01 L233.98,239.04 L234.35,239.06 L234.73,239.09 L235.11,239.11 L235.49,239.14 L235.87,239.16 L236.24,239.18 L236.62,239.21 L237.00,239.23 L237.38,239.25 L237.76,239.28 L238.14,239.30 L238.51,239.32 L238.89,239.34 L239.27,239.36 L239.65,239.38 L240.03,239.40 L240.41,239.42 L240.78,239.44 L241.16,239.46 L241.54,239.48 L241.92,239.50 L242.30,239.52 L242.67,239.54 L243.05,239.56 L243.43,239.58 L243.81,239.60 L244.19,239.62 L244.57,239.63 L244.94,239.65 L245.32,239.67 L245.70,239.69 L246.08,239.70 L246.46,239.72 L246.84,239.74 L247.21,239.75 L247.59,239.77 L247.97,239.78 L248.35,239.80 L248.73,239.82 L249.11,239.83 L249.48,239.85 L249.86,239.86 L250.24,239.88 L250.62,239.89 L251.00,239.91 L251.37,239.92 L251.75,239.93 L252.13,239.95 L252.51,239.96 L252.89,239.97 L253.27,239.99 L253.64,240.00 L254.02,240.01 L254.40,240.03 L254.78,240.04 L255.16,240.05 L255.54,240.07 L255.91,240.08 L256.29,240.09 L256.67,240.10 L257.05,240.11 L257.43,240.12 L257.80,240.14 L258.18,240.15 L258.56,240.16 L258.94,240.17 L259.32,240.18 L259.70,240.19 L260.07,240.20 L260.45,240.21 L260.83,240.22 L261.21,240.23 L261.59,240.24 L261.97,240.25 L262.34,240.26 L262.72,240.27 L263.10,240.28 L263.48,240.29 L263.86,240.30 L264.24,240.31 L264.61,240.32 L264.99,240.33 L265.37,240.34 L265.75,240.35 L266.13,240.36 L266.50,240.37 L266.88,240.37 L267.26,240.38 L267.64,240.39 L268.02,240.40 L268.40,240.41 L268.77,240.42 L269.15,240.42 L269.53,240.43 L269.91,240.44 L270.29,240.45 L270.67,240.45 L271.04,240.46 L271.42,240.47 L271.80,240.48" fill="none" stroke="#1fa8e2" stroke-width="0.75" opacity="0.9"/><line x1="128.06" y1="188.56" x2="128.06" y2="176.58" stroke="#1fa8e2" stroke-width="0.8" opacity="0.75"/><line x1="126.27" y1="188.56" x2="129.87" y2="188.56" stroke="#1fa8e2" stroke-width="0.8" opacity="0.75"/><line x1="126.27" y1="176.58" x2="129.87" y2="176.58" stroke="#1fa8e2" stroke-width="0.8" opacity="0.75"/><rect x="118.30" y="153.20" width="4.4" height="4.4" fill="#1fa8e2"/><rect x="125.86" y="180.83" width="4.4" height="4.4" fill="#1fa8e2"/><rect x="156.12" y="213.06" width="4.4" height="4.4" fill="#1fa8e2"/><rect x="193.95" y="231.49" width="4.4" height="4.4" fill="#1fa8e2"/><rect x="269.60" y="239.77" width="4.4" height="4.4" fill="#1fa8e2"/><path d="M120.50,157.70 L120.88,157.81 L121.26,157.92 L121.63,158.03 L122.01,158.14 L122.39,158.24 L122.77,158.35 L123.15,158.46 L123.53,158.57 L123.90,158.68 L124.28,158.78 L124.66,158.89 L125.04,159.00 L125.42,159.11 L125.80,159.22 L126.17,159.33 L126.55,159.43 L126.93,159.54 L127.31,159.65 L127.69,159.76 L128.06,159.87 L128.44,159.98 L128.82,160.08 L129.20,160.19 L129.58,160.30 L129.96,160.41 L130.33,160.52 L130.71,160.62 L131.09,160.73 L131.47,160.84 L131.85,160.95 L132.23,161.06 L132.60,161.17 L132.98,161.27 L133.36,161.38 L133.74,161.49 L134.12,161.60 L134.50,161.71 L134.87,161.81 L135.25,161.92 L135.63,162.03 L136.01,162.14 L136.39,162.25 L136.76,162.36 L137.14,162.46 L137.52,162.57 L137.90,162.68 L138.28,162.79 L138.66,162.90 L139.03,163.01 L139.41,163.11 L139.79,163.22 L140.17,163.33 L140.55,163.44 L140.93,163.55 L141.30,163.65 L141.68,163.76 L142.06,163.87 L142.44,163.98 L142.82,164.09 L143.19,164.20 L143.57,164.30 L143.95,164.41 L144.33,164.52 L144.71,164.63 L145.09,164.74 L145.46,164.84 L145.84,164.95 L146.22,165.06 L146.60,165.17 L146.98,165.28 L147.36,165.39 L147.73,165.49 L148.11,165.60 L148.49,165.71 L148.87,165.82 L149.25,165.93 L149.63,166.04 L150.00,166.14 L150.38,166.25 L150.76,166.36 L151.14,166.47 L151.52,166.58 L151.89,166.68 L152.27,166.79 L152.65,166.90 L153.03,167.01 L153.41,167.12 L153.79,167.23 L154.16,167.33 L154.54,167.44 L154.92,167.55 L155.30,167.66 L155.68,167.77 L156.06,167.87 L156.43,167.98 L156.81,168.09 L157.19,168.20 L157.57,168.31 L157.95,168.42 L158.32,168.52 L158.70,168.63 L159.08,168.74 L159.46,168.85 L159.84,168.96 L160.22,169.07 L160.59,169.17 L160.97,169.28 L161.35,169.39 L161.73,169.50 L162.11,169.61 L162.49,169.71 L162.86,169.82 L163.24,169.93 L163.62,170.04 L164.00,170.15 L164.38,170.26 L164.76,170.36 L165.13,170.47 L165.51,170.58 L165.89,170.69 L166.27,170.80 L166.65,170.91 L167.02,171.01 L167.40,171.12 L167.78,171.23 L168.16,171.34 L168.54,171.45 L168.92,171.55 L169.29,171.66 L169.67,171.77 L170.05,171.88 L170.43,171.99 L170.81,172.10 L171.19,172.20 L171.56,172.31 L171.94,172.42 L172.32,172.53 L172.70,172.64 L173.08,172.74 L173.46,172.85 L173.83,172.96 L174.21,173.07 L174.59,173.18 L174.97,173.29 L175.35,173.39 L175.72,173.50 L176.10,173.61 L176.48,173.72 L176.86,173.83 L177.24,173.94 L177.62,174.04 L177.99,174.15 L178.37,174.26 L178.75,174.37 L179.13,174.48 L179.51,174.58 L179.89,174.69 L180.26,174.80 L180.64,174.91 L181.02,175.02 L181.40,175.13 L181.78,175.23 L182.15,175.34 L182.53,175.45 L182.91,175.56 L183.29,175.67 L183.67,175.77 L184.05,175.88 L184.42,175.99 L184.80,176.10 L185.18,176.21 L185.56,176.32 L185.94,176.42 L186.32,176.53 L186.69,176.64 L187.07,176.75 L187.45,176.86 L187.83,176.97 L188.21,177.07 L188.59,177.18 L188.96,177.29 L189.34,177.40 L189.72,177.51 L190.10,177.61 L190.48,177.72 L190.85,177.83 L191.23,177.94 L191.61,178.05 L191.99,178.16 L192.37,178.26 L192.75,178.37 L193.12,178.48 L193.50,178.59 L193.88,178.70 L194.26,178.80 L194.64,178.91 L195.02,179.02 L195.39,179.13 L195.77,179.24 L196.15,179.35 L196.53,179.45 L196.91,179.56 L197.28,179.67 L197.66,179.78 L198.04,179.89 L198.42,180.00 L198.80,180.10 L199.18,180.21 L199.55,180.32 L199.93,180.43 L200.31,180.54 L200.69,180.64 L201.07,180.75 L201.45,180.86 L201.82,180.97 L202.20,181.08 L202.58,181.19 L202.96,181.29 L203.34,181.40 L203.72,181.51 L204.09,181.62 L204.47,181.73 L204.85,181.84 L205.23,181.94 L205.61,182.05 L205.98,182.16 L206.36,182.27 L206.74,182.38 L207.12,182.48 L207.50,182.59 L207.88,182.70 L208.25,182.81 L208.63,182.92 L209.01,183.03 L209.39,183.13 L209.77,183.24 L210.15,183.35 L210.52,183.46 L210.90,183.57 L211.28,183.67 L211.66,183.78 L212.04,183.89 L212.41,184.00 L212.79,184.11 L213.17,184.22 L213.55,184.32 L213.93,184.43 L214.31,184.54 L214.68,184.65 L215.06,184.76 L215.44,184.87 L215.82,184.97 L216.20,185.08 L216.58,185.19 L216.95,185.30 L217.33,185.41 L217.71,185.51 L218.09,185.62 L218.47,185.73 L218.84,185.84 L219.22,185.95 L219.60,186.06 L219.98,186.16 L220.36,186.27 L220.74,186.38 L221.11,186.49 L221.49,186.60 L221.87,186.70 L222.25,186.81 L222.63,186.92 L223.01,187.03 L223.38,187.14 L223.76,187.25 L224.14,187.35 L224.52,187.46 L224.90,187.57 L225.28,187.68 L225.65,187.79 L226.03,187.90 L226.41,188.00 L226.79,188.11 L227.17,188.22 L227.54,188.33 L227.92,188.44 L228.30,188.54 L228.68,188.65 L229.06,188.76 L229.44,188.87 L229.81,188.98 L230.19,189.09 L230.57,189.19 L230.95,189.30 L231.33,189.41 L231.71,189.52 L232.08,189.63 L232.46,189.73 L232.84,189.84 L233.22,189.95 L233.60,190.06 L233.98,190.17 L234.35,190.28 L234.73,190.38 L235.11,190.49 L235.49,190.60 L235.87,190.71 L236.24,190.82 L236.62,190.93 L237.00,191.03 L237.38,191.14 L237.76,191.25 L238.14,191.36 L238.51,191.47 L238.89,191.57 L239.27,191.68 L239.65,191.79 L240.03,191.90 L240.41,192.01 L240.78,192.12 L241.16,192.22 L241.54,192.33 L241.92,192.44 L242.30,192.55 L242.67,192.66 L243.05,192.76 L243.43,192.87 L243.81,192.98 L244.19,193.09 L244.57,193.20 L244.94,193.31 L245.32,193.41 L245.70,193.52 L246.08,193.63 L246.46,193.74 L246.84,193.85 L247.21,193.96 L247.59,194.06 L247.97,194.17 L248.35,194.28 L248.73,194.39 L249.11,194.50 L249.48,194.60 L249.86,194.71 L250.24,194.82 L250.62,194.93 L251.00,195.04 L251.37,195.15 L251.75,195.25 L252.13,195.36 L252.51,195.47 L252.89,195.58 L253.27,195.69 L253.64,195.80 L254.02,195.90 L254.40,196.01 L254.78,196.12 L255.16,196.23 L255.54,196.34 L255.91,196.44 L256.29,196.55 L256.67,196.66 L257.05,196.77 L257.43,196.88 L257.80,196.99 L258.18,197.09 L258.56,197.20 L258.94,197.31 L259.32,197.42 L259.70,197.53 L260.07,197.63 L260.45,197.74 L260.83,197.85 L261.21,197.96 L261.59,198.07 L261.97,198.18 L262.34,198.28 L262.72,198.39 L263.10,198.50 L263.48,198.61 L263.86,198.72 L264.24,198.83 L264.61,198.93 L264.99,199.04 L265.37,199.15 L265.75,199.26 L266.13,199.37 L266.50,199.47 L266.88,199.58 L267.26,199.69 L267.64,199.80 L268.02,199.91 L268.40,200.02 L268.77,200.12 L269.15,200.23 L269.53,200.34 L269.91,200.45 L270.29,200.56 L270.67,200.66 L271.04,200.77 L271.42,200.88 L271.80,200.99" fill="none" stroke="#e8453a" stroke-width="0.75" opacity="0.9"/><line x1="128.06" y1="163.69" x2="128.06" y2="160.00" stroke="#e8453a" stroke-width="0.8" opacity="0.75"/><line x1="126.27" y1="163.69" x2="129.87" y2="163.69" stroke="#e8453a" stroke-width="0.8" opacity="0.75"/><line x1="126.27" y1="160.00" x2="129.87" y2="160.00" stroke="#e8453a" stroke-width="0.8" opacity="0.75"/><line x1="158.32" y1="177.50" x2="158.32" y2="162.77" stroke="#e8453a" stroke-width="0.8" opacity="0.75"/><line x1="156.52" y1="177.50" x2="160.12" y2="177.50" stroke="#e8453a" stroke-width="0.8" opacity="0.75"/><line x1="156.52" y1="162.77" x2="160.12" y2="162.77" stroke="#e8453a" stroke-width="0.8" opacity="0.75"/><line x1="196.15" y1="180.27" x2="196.15" y2="174.74" stroke="#e8453a" stroke-width="0.8" opacity="0.75"/><line x1="194.35" y1="180.27" x2="197.95" y2="180.27" stroke="#e8453a" stroke-width="0.8" opacity="0.75"/><line x1="194.35" y1="174.74" x2="197.95" y2="174.74" stroke="#e8453a" stroke-width="0.8" opacity="0.75"/><line x1="271.80" y1="229.08" x2="271.80" y2="174.74" stroke="#e8453a" stroke-width="0.8" opacity="0.75"/><line x1="270.00" y1="229.08" x2="273.60" y2="229.08" stroke="#e8453a" stroke-width="0.8" opacity="0.75"/><line x1="270.00" y1="174.74" x2="273.60" y2="174.74" stroke="#e8453a" stroke-width="0.8" opacity="0.75"/><path d="M120.50,158.00 L123.00,153.60 L118.00,153.60Z" fill="#e8453a"/><path d="M128.06,164.45 L130.56,160.05 L125.56,160.05Z" fill="#e8453a"/><path d="M158.32,172.74 L160.82,168.34 L155.82,168.34Z" fill="#e8453a"/><path d="M196.15,180.10 L198.65,175.70 L193.65,175.70Z" fill="#e8453a"/><path d="M271.80,204.05 L274.30,199.65 L269.30,199.65Z" fill="#e8453a"/><path d="M120.50,155.40 L120.88,155.67 L121.26,155.93 L121.63,156.19 L122.01,156.46 L122.39,156.72 L122.77,156.98 L123.15,157.23 L123.53,157.49 L123.90,157.75 L124.28,158.00 L124.66,158.26 L125.04,158.51 L125.42,158.76 L125.80,159.01 L126.17,159.26 L126.55,159.50 L126.93,159.75 L127.31,159.99 L127.69,160.24 L128.06,160.48 L128.44,160.72 L128.82,160.96 L129.20,161.20 L129.58,161.44 L129.96,161.68 L130.33,161.91 L130.71,162.15 L131.09,162.38 L131.47,162.61 L131.85,162.84 L132.23,163.07 L132.60,163.30 L132.98,163.53 L133.36,163.75 L133.74,163.98 L134.12,164.20 L134.50,164.43 L134.87,164.65 L135.25,164.87 L135.63,165.09 L136.01,165.31 L136.39,165.53 L136.76,165.74 L137.14,165.96 L137.52,166.17 L137.90,166.39 L138.28,166.60 L138.66,166.81 L139.03,167.02 L139.41,167.23 L139.79,167.44 L140.17,167.65 L140.55,167.86 L140.93,168.06 L141.30,168.27 L141.68,168.47 L142.06,168.67 L142.44,168.87 L142.82,169.07 L143.19,169.27 L143.57,169.47 L143.95,169.67 L144.33,169.87 L144.71,170.06 L145.09,170.26 L145.46,170.45 L145.84,170.64 L146.22,170.84 L146.60,171.03 L146.98,171.22 L147.36,171.41 L147.73,171.59 L148.11,171.78 L148.49,171.97 L148.87,172.15 L149.25,172.34 L149.63,172.52 L150.00,172.70 L150.38,172.89 L150.76,173.07 L151.14,173.25 L151.52,173.43 L151.89,173.61 L152.27,173.78 L152.65,173.96 L153.03,174.14 L153.41,174.31 L153.79,174.48 L154.16,174.66 L154.54,174.83 L154.92,175.00 L155.30,175.17 L155.68,175.34 L156.06,175.51 L156.43,175.68 L156.81,175.85 L157.19,176.01 L157.57,176.18 L157.95,176.35 L158.32,176.51 L158.70,176.67 L159.08,176.84 L159.46,177.00 L159.84,177.16 L160.22,177.32 L160.59,177.48 L160.97,177.64 L161.35,177.80 L161.73,177.95 L162.11,178.11 L162.49,178.27 L162.86,178.42 L163.24,178.57 L163.62,178.73 L164.00,178.88 L164.38,179.03 L164.76,179.18 L165.13,179.33 L165.51,179.48 L165.89,179.63 L166.27,179.78 L166.65,179.93 L167.02,180.08 L167.40,180.22 L167.78,180.37 L168.16,180.51 L168.54,180.66 L168.92,180.80 L169.29,180.94 L169.67,181.09 L170.05,181.23 L170.43,181.37 L170.81,181.51 L171.19,181.65 L171.56,181.78 L171.94,181.92 L172.32,182.06 L172.70,182.20 L173.08,182.33 L173.46,182.47 L173.83,182.60 L174.21,182.74 L174.59,182.87 L174.97,183.00 L175.35,183.13 L175.72,183.27 L176.10,183.40 L176.48,183.53 L176.86,183.66 L177.24,183.78 L177.62,183.91 L177.99,184.04 L178.37,184.17 L178.75,184.29 L179.13,184.42 L179.51,184.54 L179.89,184.67 L180.26,184.79 L180.64,184.92 L181.02,185.04 L181.40,185.16 L181.78,185.28 L182.15,185.40 L182.53,185.52 L182.91,185.64 L183.29,185.76 L183.67,185.88 L184.05,186.00 L184.42,186.12 L184.80,186.23 L185.18,186.35 L185.56,186.47 L185.94,186.58 L186.32,186.70 L186.69,186.81 L187.07,186.92 L187.45,187.04 L187.83,187.15 L188.21,187.26 L188.59,187.37 L188.96,187.48 L189.34,187.59 L189.72,187.70 L190.10,187.81 L190.48,187.92 L190.85,188.03 L191.23,188.14 L191.61,188.24 L191.99,188.35 L192.37,188.46 L192.75,188.56 L193.12,188.67 L193.50,188.77 L193.88,188.87 L194.26,188.98 L194.64,189.08 L195.02,189.18 L195.39,189.29 L195.77,189.39 L196.15,189.49 L196.53,189.59 L196.91,189.69 L197.28,189.79 L197.66,189.89 L198.04,189.99 L198.42,190.08 L198.80,190.18 L199.18,190.28 L199.55,190.38 L199.93,190.47 L200.31,190.57 L200.69,190.66 L201.07,190.76 L201.45,190.85 L201.82,190.95 L202.20,191.04 L202.58,191.13 L202.96,191.22 L203.34,191.32 L203.72,191.41 L204.09,191.50 L204.47,191.59 L204.85,191.68 L205.23,191.77 L205.61,191.86 L205.98,191.95 L206.36,192.04 L206.74,192.13 L207.12,192.21 L207.50,192.30 L207.88,192.39 L208.25,192.47 L208.63,192.56 L209.01,192.65 L209.39,192.73 L209.77,192.82 L210.15,192.90 L210.52,192.98 L210.90,193.07 L211.28,193.15 L211.66,193.23 L212.04,193.32 L212.41,193.40 L212.79,193.48 L213.17,193.56 L213.55,193.64 L213.93,193.72 L214.31,193.80 L214.68,193.88 L215.06,193.96 L215.44,194.04 L215.82,194.12 L216.20,194.20 L216.58,194.27 L216.95,194.35 L217.33,194.43 L217.71,194.50 L218.09,194.58 L218.47,194.66 L218.84,194.73 L219.22,194.81 L219.60,194.88 L219.98,194.96 L220.36,195.03 L220.74,195.10 L221.11,195.18 L221.49,195.25 L221.87,195.32 L222.25,195.39 L222.63,195.47 L223.01,195.54 L223.38,195.61 L223.76,195.68 L224.14,195.75 L224.52,195.82 L224.90,195.89 L225.28,195.96 L225.65,196.03 L226.03,196.10 L226.41,196.17 L226.79,196.23 L227.17,196.30 L227.54,196.37 L227.92,196.44 L228.30,196.50 L228.68,196.57 L229.06,196.64 L229.44,196.70 L229.81,196.77 L230.19,196.83 L230.57,196.90 L230.95,196.96 L231.33,197.03 L231.71,197.09 L232.08,197.15 L232.46,197.22 L232.84,197.28 L233.22,197.34 L233.60,197.40 L233.98,197.47 L234.35,197.53 L234.73,197.59 L235.11,197.65 L235.49,197.71 L235.87,197.77 L236.24,197.83 L236.62,197.89 L237.00,197.95 L237.38,198.01 L237.76,198.07 L238.14,198.13 L238.51,198.19 L238.89,198.25 L239.27,198.31 L239.65,198.36 L240.03,198.42 L240.41,198.48 L240.78,198.53 L241.16,198.59 L241.54,198.65 L241.92,198.70 L242.30,198.76 L242.67,198.81 L243.05,198.87 L243.43,198.92 L243.81,198.98 L244.19,199.03 L244.57,199.09 L244.94,199.14 L245.32,199.20 L245.70,199.25 L246.08,199.30 L246.46,199.36 L246.84,199.41 L247.21,199.46 L247.59,199.51 L247.97,199.56 L248.35,199.62 L248.73,199.67 L249.11,199.72 L249.48,199.77 L249.86,199.82 L250.24,199.87 L250.62,199.92 L251.00,199.97 L251.37,200.02 L251.75,200.07 L252.13,200.12 L252.51,200.17 L252.89,200.22 L253.27,200.26 L253.64,200.31 L254.02,200.36 L254.40,200.41 L254.78,200.46 L255.16,200.50 L255.54,200.55 L255.91,200.60 L256.29,200.64 L256.67,200.69 L257.05,200.74 L257.43,200.78 L257.80,200.83 L258.18,200.87 L258.56,200.92 L258.94,200.96 L259.32,201.01 L259.70,201.05 L260.07,201.10 L260.45,201.14 L260.83,201.19 L261.21,201.23 L261.59,201.27 L261.97,201.32 L262.34,201.36 L262.72,201.40 L263.10,201.44 L263.48,201.49 L263.86,201.53 L264.24,201.57 L264.61,201.61 L264.99,201.66 L265.37,201.70 L265.75,201.74 L266.13,201.78 L266.50,201.82 L266.88,201.86 L267.26,201.90 L267.64,201.94 L268.02,201.98 L268.40,202.02 L268.77,202.06 L269.15,202.10 L269.53,202.14 L269.91,202.18 L270.29,202.22 L270.67,202.26 L271.04,202.30 L271.42,202.33 L271.80,202.37" fill="none" stroke="#77b852" stroke-width="0.75" opacity="0.9"/><line x1="128.06" y1="168.29" x2="128.06" y2="162.77" stroke="#77b852" stroke-width="0.8" opacity="0.75"/><line x1="126.27" y1="168.29" x2="129.87" y2="168.29" stroke="#77b852" stroke-width="0.8" opacity="0.75"/><line x1="126.27" y1="162.77" x2="129.87" y2="162.77" stroke="#77b852" stroke-width="0.8" opacity="0.75"/><line x1="158.32" y1="178.43" x2="158.32" y2="171.98" stroke="#77b852" stroke-width="0.8" opacity="0.75"/><line x1="156.52" y1="178.43" x2="160.12" y2="178.43" stroke="#77b852" stroke-width="0.8" opacity="0.75"/><line x1="156.52" y1="171.98" x2="160.12" y2="171.98" stroke="#77b852" stroke-width="0.8" opacity="0.75"/><line x1="196.15" y1="196.84" x2="196.15" y2="183.95" stroke="#77b852" stroke-width="0.8" opacity="0.75"/><line x1="194.35" y1="196.84" x2="197.95" y2="196.84" stroke="#77b852" stroke-width="0.8" opacity="0.75"/><line x1="194.35" y1="183.95" x2="197.95" y2="183.95" stroke="#77b852" stroke-width="0.8" opacity="0.75"/><line x1="271.80" y1="205.13" x2="271.80" y2="199.61" stroke="#77b852" stroke-width="0.8" opacity="0.75"/><line x1="270.00" y1="205.13" x2="273.60" y2="205.13" stroke="#77b852" stroke-width="0.8" opacity="0.75"/><line x1="270.00" y1="199.61" x2="273.60" y2="199.61" stroke="#77b852" stroke-width="0.8" opacity="0.75"/><circle cx="120.50" cy="155.40" r="2.3" fill="#77b852"/><circle cx="128.06" cy="165.53" r="2.3" fill="#77b852"/><circle cx="158.32" cy="174.74" r="2.3" fill="#77b852"/><circle cx="196.15" cy="190.40" r="2.3" fill="#77b852"/><circle cx="271.80" cy="202.37" r="2.3" fill="#77b852"/><line x1="295.10" y1="153.10" x2="306.10" y2="153.10" stroke="#77b852" stroke-width="0.8" opacity="0.7"/><circle cx="300.60" cy="153.10" r="2.3" fill="#77b852"/><line x1="295.10" y1="167.25" x2="306.10" y2="167.25" stroke="#1fa8e2" stroke-width="0.8" opacity="0.7"/><rect x="298.40" y="165.05" width="4.4" height="4.4" fill="#1fa8e2"/><line x1="295.10" y1="181.40" x2="306.10" y2="181.40" stroke="#f6c431" stroke-width="0.8" opacity="0.7"/><path d="M300.60,178.80 L303.10,183.20 L298.10,183.20Z" fill="#f6c431"/><line x1="295.10" y1="195.55" x2="306.10" y2="195.55" stroke="#e8453a" stroke-width="0.8" opacity="0.7"/><path d="M300.60,198.15 L303.10,193.75 L298.10,193.75Z" fill="#e8453a"/><line x1="295.10" y1="209.70" x2="306.10" y2="209.70" stroke="#9a3a9c" stroke-width="0.8" opacity="0.7"/><path d="M300.60,207.10 L302.90,209.70 L300.60,212.30 L298.30,209.70Z" fill="#9a3a9c"/></svg>
<div class="L" style="left:310.00px;top:149.30px;font-size:7.56px;line-height:7.56px;color:#333;transform:scaleX(0.880);">Rel</div>
<div class="L" style="left:310.00px;top:163.45px;font-size:7.56px;line-height:7.56px;color:#333;transform:scaleX(0.880);">R101Q</div>
<div class="L" style="left:310.00px;top:177.60px;font-size:7.56px;line-height:7.56px;color:#333;transform:scaleX(0.880);">R101A</div>
<div class="L" style="left:310.00px;top:191.75px;font-size:7.56px;line-height:7.56px;color:#333;transform:scaleX(0.880);">C137Y</div>
<div class="L" style="left:310.00px;top:205.90px;font-size:7.56px;line-height:7.56px;color:#333;transform:scaleX(0.880);">R101Q C137Y</div>
<div class="L" style="left:109.50px;top:243.70px;font-size:7.56px;line-height:7.56px;color:#333;transform:scaleX(1.000);">0</div>
<div class="L" style="left:105.29px;top:197.65px;font-size:7.56px;line-height:7.56px;color:#333;transform:scaleX(1.000);">50</div>
<div class="L" style="left:101.09px;top:151.60px;font-size:7.56px;line-height:7.56px;color:#333;transform:scaleX(1.000);">100</div>
<div class="L" style="left:118.40px;top:254.20px;font-size:7.56px;line-height:7.56px;color:#333;transform:scaleX(1.000);">0</div>
<div class="L" style="left:156.22px;top:254.20px;font-size:7.56px;line-height:7.56px;color:#333;transform:scaleX(1.000);">5</div>
<div class="L" style="left:191.95px;top:254.20px;font-size:7.56px;line-height:7.56px;color:#333;transform:scaleX(1.000);">10</div>
<div class="L" style="left:229.77px;top:254.20px;font-size:7.56px;line-height:7.56px;color:#333;transform:scaleX(1.000);">15</div>
<div class="L" style="left:267.60px;top:254.20px;font-size:7.56px;line-height:7.56px;color:#333;transform:scaleX(1.000);">20</div>
<div class="L" style="left:175.06px;top:265.19px;font-size:8.87px;line-height:8.87px;color:#333;transform:scaleX(0.980);">Time (min)</div>
<div class="L" style="left:65.27px;top:197.52px;width:57.67px;font-size:8.87px;line-height:8.87px;color:#333;transform-origin:50% 50%;transform:rotate(-90deg)">Percent bound</div>
<svg width="685" height="762" style="position:absolute;left:0;top:0;overflow:visible"><line x1="431.50" y1="146.4" x2="431.50" y2="248.00" stroke="#4a4a4a" stroke-width="0.9"/><line x1="431.10" y1="247.50" x2="582.80" y2="247.50" stroke="#4a4a4a" stroke-width="0.9"/><line x1="427.70" y1="247.50" x2="431.50" y2="247.50" stroke="#4a4a4a" stroke-width="0.9"/><line x1="427.70" y1="201.70" x2="431.50" y2="201.70" stroke="#4a4a4a" stroke-width="0.9"/><line x1="427.70" y1="155.90" x2="431.50" y2="155.90" stroke="#4a4a4a" stroke-width="0.9"/><line x1="431.50" y1="247.50" x2="431.50" y2="250.70" stroke="#4a4a4a" stroke-width="0.9"/><line x1="469.18" y1="247.50" x2="469.18" y2="250.70" stroke="#4a4a4a" stroke-width="0.9"/><line x1="506.85" y1="247.50" x2="506.85" y2="250.70" stroke="#4a4a4a" stroke-width="0.9"/><line x1="544.53" y1="247.50" x2="544.53" y2="250.70" stroke="#4a4a4a" stroke-width="0.9"/><line x1="582.20" y1="247.50" x2="582.20" y2="250.70" stroke="#4a4a4a" stroke-width="0.9"/><path d="M431.50,155.90 L431.88,156.52 L432.25,157.14 L432.63,157.75 L433.01,158.36 L433.38,158.97 L433.76,159.57 L434.14,160.16 L434.51,160.75 L434.89,161.34 L435.27,161.92 L435.64,162.50 L436.02,163.07 L436.40,163.64 L436.77,164.21 L437.15,164.77 L437.53,165.33 L437.90,165.88 L438.28,166.43 L438.66,166.97 L439.04,167.51 L439.41,168.05 L439.79,168.58 L440.17,169.11 L440.54,169.63 L440.92,170.15 L441.30,170.67 L441.67,171.18 L442.05,171.69 L442.43,172.19 L442.80,172.69 L443.18,173.19 L443.56,173.69 L443.93,174.18 L444.31,174.66 L444.69,175.14 L445.06,175.62 L445.44,176.10 L445.82,176.57 L446.19,177.04 L446.57,177.50 L446.95,177.97 L447.32,178.42 L447.70,178.88 L448.08,179.33 L448.45,179.78 L448.83,180.22 L449.21,180.66 L449.58,181.10 L449.96,181.54 L450.34,181.97 L450.71,182.39 L451.09,182.82 L451.47,183.24 L451.84,183.66 L452.22,184.07 L452.60,184.49 L452.97,184.90 L453.35,185.30 L453.73,185.71 L454.11,186.11 L454.48,186.50 L454.86,186.90 L455.24,187.29 L455.61,187.68 L455.99,188.06 L456.37,188.44 L456.74,188.82 L457.12,189.20 L457.50,189.58 L457.87,189.95 L458.25,190.31 L458.63,190.68 L459.00,191.04 L459.38,191.40 L459.76,191.76 L460.13,192.12 L460.51,192.47 L460.89,192.82 L461.26,193.16 L461.64,193.51 L462.02,193.85 L462.39,194.19 L462.77,194.53 L463.15,194.86 L463.52,195.19 L463.90,195.52 L464.28,195.85 L464.65,196.17 L465.03,196.50 L465.41,196.81 L465.78,197.13 L466.16,197.45 L466.54,197.76 L466.91,198.07 L467.29,198.38 L467.67,198.68 L468.04,198.99 L468.42,199.29 L468.80,199.58 L469.18,199.88 L469.55,200.18 L469.93,200.47 L470.31,200.76 L470.68,201.05 L471.06,201.33 L471.44,201.61 L471.81,201.90 L472.19,202.17 L472.57,202.45 L472.94,202.73 L473.32,203.00 L473.70,203.27 L474.07,203.54 L474.45,203.81 L474.83,204.07 L475.20,204.33 L475.58,204.59 L475.96,204.85 L476.33,205.11 L476.71,205.37 L477.09,205.62 L477.46,205.87 L477.84,206.12 L478.22,206.37 L478.59,206.61 L478.97,206.86 L479.35,207.10 L479.72,207.34 L480.10,207.58 L480.48,207.81 L480.85,208.05 L481.23,208.28 L481.61,208.51 L481.98,208.74 L482.36,208.97 L482.74,209.20 L483.11,209.42 L483.49,209.65 L483.87,209.87 L484.25,210.09 L484.62,210.30 L485.00,210.52 L485.38,210.74 L485.75,210.95 L486.13,211.16 L486.51,211.37 L486.88,211.58 L487.26,211.79 L487.64,211.99 L488.01,212.19 L488.39,212.40 L488.77,212.60 L489.14,212.80 L489.52,212.99 L489.90,213.19 L490.27,213.39 L490.65,213.58 L491.03,213.77 L491.40,213.96 L491.78,214.15 L492.16,214.34 L492.53,214.52 L492.91,214.71 L493.29,214.89 L493.66,215.07 L494.04,215.25 L494.42,215.43 L494.79,215.61 L495.17,215.79 L495.55,215.96 L495.92,216.14 L496.30,216.31 L496.68,216.48 L497.05,216.65 L497.43,216.82 L497.81,216.99 L498.18,217.16 L498.56,217.32 L498.94,217.48 L499.31,217.65 L499.69,217.81 L500.07,217.97 L500.45,218.13 L500.82,218.29 L501.20,218.44 L501.58,218.60 L501.95,218.75 L502.33,218.91 L502.71,219.06 L503.08,219.21 L503.46,219.36 L503.84,219.51 L504.21,219.65 L504.59,219.80 L504.97,219.95 L505.34,220.09 L505.72,220.23 L506.10,220.38 L506.47,220.52 L506.85,220.66 L507.23,220.80 L507.60,220.93 L507.98,221.07 L508.36,221.21 L508.73,221.34 L509.11,221.48 L509.49,221.61 L509.86,221.74 L510.24,221.87 L510.62,222.00 L510.99,222.13 L511.37,222.26 L511.75,222.38 L512.12,222.51 L512.50,222.64 L512.88,222.76 L513.25,222.88 L513.63,223.01 L514.01,223.13 L514.38,223.25 L514.76,223.37 L515.14,223.49 L515.52,223.60 L515.89,223.72 L516.27,223.84 L516.65,223.95 L517.02,224.07 L517.40,224.18 L517.78,224.29 L518.15,224.40 L518.53,224.52 L518.91,224.63 L519.28,224.73 L519.66,224.84 L520.04,224.95 L520.41,225.06 L520.79,225.16 L521.17,225.27 L521.54,225.37 L521.92,225.48 L522.30,225.58 L522.67,225.68 L523.05,225.78 L523.43,225.88 L523.80,225.98 L524.18,226.08 L524.56,226.18 L524.93,226.28 L525.31,226.38 L525.69,226.47 L526.06,226.57 L526.44,226.66 L526.82,226.76 L527.19,226.85 L527.57,226.94 L527.95,227.04 L528.32,227.13 L528.70,227.22 L529.08,227.31 L529.46,227.40 L529.83,227.49 L530.21,227.57 L530.59,227.66 L530.96,227.75 L531.34,227.83 L531.72,227.92 L532.09,228.00 L532.47,228.09 L532.85,228.17 L533.22,228.25 L533.60,228.34 L533.98,228.42 L534.35,228.50 L534.73,228.58 L535.11,228.66 L535.48,228.74 L535.86,228.82 L536.24,228.89 L536.61,228.97 L536.99,229.05 L537.37,229.12 L537.74,229.20 L538.12,229.28 L538.50,229.35 L538.87,229.42 L539.25,229.50 L539.63,229.57 L540.00,229.64 L540.38,229.71 L540.76,229.79 L541.13,229.86 L541.51,229.93 L541.89,230.00 L542.26,230.07 L542.64,230.13 L543.02,230.20 L543.39,230.27 L543.77,230.34 L544.15,230.40 L544.53,230.47 L544.90,230.54 L545.28,230.60 L545.66,230.67 L546.03,230.73 L546.41,230.79 L546.79,230.86 L547.16,230.92 L547.54,230.98 L547.92,231.04 L548.29,231.11 L548.67,231.17 L549.05,231.23 L549.42,231.29 L549.80,231.35 L550.18,231.41 L550.55,231.46 L550.93,231.52 L551.31,231.58 L551.68,231.64 L552.06,231.69 L552.44,231.75 L552.81,231.81 L553.19,231.86 L553.57,231.92 L553.94,231.97 L554.32,232.03 L554.70,232.08 L555.07,232.13 L555.45,232.19 L555.83,232.24 L556.20,232.29 L556.58,232.34 L556.96,232.40 L557.33,232.45 L557.71,232.50 L558.09,232.55 L558.46,232.60 L558.84,232.65 L559.22,232.70 L559.60,232.75 L559.97,232.80 L560.35,232.84 L560.73,232.89 L561.10,232.94 L561.48,232.99 L561.86,233.03 L562.23,233.08 L562.61,233.13 L562.99,233.17 L563.36,233.22 L563.74,233.26 L564.12,233.31 L564.49,233.35 L564.87,233.40 L565.25,233.44 L565.62,233.48 L566.00,233.53 L566.38,233.57 L566.75,233.61 L567.13,233.65 L567.51,233.70 L567.88,233.74 L568.26,233.78 L568.64,233.82 L569.01,233.86 L569.39,233.90 L569.77,233.94 L570.14,233.98 L570.52,234.02 L570.90,234.06 L571.27,234.10 L571.65,234.14 L572.03,234.17 L572.40,234.21 L572.78,234.25 L573.16,234.29 L573.53,234.32 L573.91,234.36 L574.29,234.40 L574.67,234.43 L575.04,234.47 L575.42,234.51 L575.80,234.54 L576.17,234.58 L576.55,234.61 L576.93,234.65 L577.30,234.68 L577.68,234.72 L578.06,234.75 L578.43,234.78 L578.81,234.82 L579.19,234.85 L579.56,234.88 L579.94,234.91 L580.32,234.95 L580.69,234.98 L581.07,235.01 L581.45,235.04 L581.82,235.07 L582.20,235.11" fill="none" stroke="#1fa8e2" stroke-width="0.75" opacity="0.9"/><rect x="429.30" y="153.70" width="4.4" height="4.4" fill="#1fa8e2"/><rect x="436.84" y="167.44" width="4.4" height="4.4" fill="#1fa8e2"/><rect x="466.98" y="206.83" width="4.4" height="4.4" fill="#1fa8e2"/><rect x="504.65" y="213.24" width="4.4" height="4.4" fill="#1fa8e2"/><rect x="580.00" y="234.31" width="4.4" height="4.4" fill="#1fa8e2"/><path d="M431.50,155.90 L431.88,159.52 L432.25,162.99 L432.63,166.32 L433.01,169.50 L433.38,172.56 L433.76,175.49 L434.14,178.29 L434.51,180.98 L434.89,183.56 L435.27,186.03 L435.64,188.40 L436.02,190.66 L436.40,192.84 L436.77,194.92 L437.15,196.92 L437.53,198.83 L437.90,200.67 L438.28,202.43 L438.66,204.11 L439.04,205.73 L439.41,207.27 L439.79,208.76 L440.17,210.18 L440.54,211.54 L440.92,212.85 L441.30,214.10 L441.67,215.30 L442.05,216.45 L442.43,217.55 L442.80,218.60 L443.18,219.62 L443.56,220.59 L443.93,221.51 L444.31,222.41 L444.69,223.26 L445.06,224.08 L445.44,224.86 L445.82,225.61 L446.19,226.33 L446.57,227.02 L446.95,227.68 L447.32,228.32 L447.70,228.93 L448.08,229.51 L448.45,230.07 L448.83,230.60 L449.21,231.11 L449.58,231.60 L449.96,232.08 L450.34,232.53 L450.71,232.96 L451.09,233.37 L451.47,233.77 L451.84,234.15 L452.22,234.52 L452.60,234.87 L452.97,235.20 L453.35,235.52 L453.73,235.83 L454.11,236.13 L454.48,236.41 L454.86,236.68 L455.24,236.94 L455.61,237.19 L455.99,237.43 L456.37,237.65 L456.74,237.87 L457.12,238.08 L457.50,238.28 L457.87,238.48 L458.25,238.66 L458.63,238.84 L459.00,239.01 L459.38,239.17 L459.76,239.33 L460.13,239.48 L460.51,239.62 L460.89,239.76 L461.26,239.89 L461.64,240.02 L462.02,240.14 L462.39,240.25 L462.77,240.36 L463.15,240.47 L463.52,240.57 L463.90,240.67 L464.28,240.76 L464.65,240.85 L465.03,240.94 L465.41,241.02 L465.78,241.10 L466.16,241.18 L466.54,241.25 L466.91,241.32 L467.29,241.38 L467.67,241.45 L468.04,241.51 L468.42,241.57 L468.80,241.62 L469.18,241.68 L469.55,241.73 L469.93,241.78 L470.31,241.83 L470.68,241.87 L471.06,241.92 L471.44,241.96 L471.81,242.00 L472.19,242.04 L472.57,242.07 L472.94,242.11 L473.32,242.14 L473.70,242.17 L474.07,242.21 L474.45,242.24 L474.83,242.26 L475.20,242.29 L475.58,242.32 L475.96,242.34 L476.33,242.37 L476.71,242.39 L477.09,242.41 L477.46,242.43 L477.84,242.45 L478.22,242.47 L478.59,242.49 L478.97,242.51 L479.35,242.53 L479.72,242.54 L480.10,242.56 L480.48,242.57 L480.85,242.59 L481.23,242.60 L481.61,242.61 L481.98,242.63 L482.36,242.64 L482.74,242.65 L483.11,242.66 L483.49,242.67 L483.87,242.68 L484.25,242.69 L484.62,242.70 L485.00,242.71 L485.38,242.72 L485.75,242.73 L486.13,242.74 L486.51,242.74 L486.88,242.75 L487.26,242.76 L487.64,242.77 L488.01,242.77 L488.39,242.78 L488.77,242.78 L489.14,242.79 L489.52,242.79 L489.90,242.80 L490.27,242.81 L490.65,242.81 L491.03,242.81 L491.40,242.82 L491.78,242.82 L492.16,242.83 L492.53,242.83 L492.91,242.83 L493.29,242.84 L493.66,242.84 L494.04,242.84 L494.42,242.85 L494.79,242.85 L495.17,242.85 L495.55,242.86 L495.92,242.86 L496.30,242.86 L496.68,242.86 L497.05,242.87 L497.43,242.87 L497.81,242.87 L498.18,242.87 L498.56,242.87 L498.94,242.88 L499.31,242.88 L499.69,242.88 L500.07,242.88 L500.45,242.88 L500.82,242.89 L501.20,242.89 L501.58,242.89 L501.95,242.89 L502.33,242.89 L502.71,242.89 L503.08,242.89 L503.46,242.89 L503.84,242.90 L504.21,242.90 L504.59,242.90 L504.97,242.90 L505.34,242.90 L505.72,242.90 L506.10,242.90 L506.47,242.90 L506.85,242.90 L507.23,242.90 L507.60,242.90 L507.98,242.90 L508.36,242.91 L508.73,242.91 L509.11,242.91 L509.49,242.91 L509.86,242.91 L510.24,242.91 L510.62,242.91 L510.99,242.91 L511.37,242.91 L511.75,242.91 L512.12,242.91 L512.50,242.91 L512.88,242.91 L513.25,242.91 L513.63,242.91 L514.01,242.91 L514.38,242.91 L514.76,242.91 L515.14,242.91 L515.52,242.91 L515.89,242.91 L516.27,242.91 L516.65,242.91 L517.02,242.91 L517.40,242.91 L517.78,242.91 L518.15,242.92 L518.53,242.92 L518.91,242.92 L519.28,242.92 L519.66,242.92 L520.04,242.92 L520.41,242.92 L520.79,242.92 L521.17,242.92 L521.54,242.92 L521.92,242.92 L522.30,242.92 L522.67,242.92 L523.05,242.92 L523.43,242.92 L523.80,242.92 L524.18,242.92 L524.56,242.92 L524.93,242.92 L525.31,242.92 L525.69,242.92 L526.06,242.92 L526.44,242.92 L526.82,242.92 L527.19,242.92 L527.57,242.92 L527.95,242.92 L528.32,242.92 L528.70,242.92 L529.08,242.92 L529.46,242.92 L529.83,242.92 L530.21,242.92 L530.59,242.92 L530.96,242.92 L531.34,242.92 L531.72,242.92 L532.09,242.92 L532.47,242.92 L532.85,242.92 L533.22,242.92 L533.60,242.92 L533.98,242.92 L534.35,242.92 L534.73,242.92 L535.11,242.92 L535.48,242.92 L535.86,242.92 L536.24,242.92 L536.61,242.92 L536.99,242.92 L537.37,242.92 L537.74,242.92 L538.12,242.92 L538.50,242.92 L538.87,242.92 L539.25,242.92 L539.63,242.92 L540.00,242.92 L540.38,242.92 L540.76,242.92 L541.13,242.92 L541.51,242.92 L541.89,242.92 L542.26,242.92 L542.64,242.92 L543.02,242.92 L543.39,242.92 L543.77,242.92 L544.15,242.92 L544.53,242.92 L544.90,242.92 L545.28,242.92 L545.66,242.92 L546.03,242.92 L546.41,242.92 L546.79,242.92 L547.16,242.92 L547.54,242.92 L547.92,242.92 L548.29,242.92 L548.67,242.92 L549.05,242.92 L549.42,242.92 L549.80,242.92 L550.18,242.92 L550.55,242.92 L550.93,242.92 L551.31,242.92 L551.68,242.92 L552.06,242.92 L552.44,242.92 L552.81,242.92 L553.19,242.92 L553.57,242.92 L553.94,242.92 L554.32,242.92 L554.70,242.92 L555.07,242.92 L555.45,242.92 L555.83,242.92 L556.20,242.92 L556.58,242.92 L556.96,242.92 L557.33,242.92 L557.71,242.92 L558.09,242.92 L558.46,242.92 L558.84,242.92 L559.22,242.92 L559.60,242.92 L559.97,242.92 L560.35,242.92 L560.73,242.92 L561.10,242.92 L561.48,242.92 L561.86,242.92 L562.23,242.92 L562.61,242.92 L562.99,242.92 L563.36,242.92 L563.74,242.92 L564.12,242.92 L564.49,242.92 L564.87,242.92 L565.25,242.92 L565.62,242.92 L566.00,242.92 L566.38,242.92 L566.75,242.92 L567.13,242.92 L567.51,242.92 L567.88,242.92 L568.26,242.92 L568.64,242.92 L569.01,242.92 L569.39,242.92 L569.77,242.92 L570.14,242.92 L570.52,242.92 L570.90,242.92 L571.27,242.92 L571.65,242.92 L572.03,242.92 L572.40,242.92 L572.78,242.92 L573.16,242.92 L573.53,242.92 L573.91,242.92 L574.29,242.92 L574.67,242.92 L575.04,242.92 L575.42,242.92 L575.80,242.92 L576.17,242.92 L576.55,242.92 L576.93,242.92 L577.30,242.92 L577.68,242.92 L578.06,242.92 L578.43,242.92 L578.81,242.92 L579.19,242.92 L579.56,242.92 L579.94,242.92 L580.32,242.92 L580.69,242.92 L581.07,242.92 L581.45,242.92 L581.82,242.92 L582.20,242.92" fill="none" stroke="#e8453a" stroke-width="0.75" opacity="0.9"/><path d="M431.50,158.50 L434.00,154.10 L429.00,154.10Z" fill="#e8453a"/><path d="M439.04,209.80 L441.54,205.40 L436.54,205.40Z" fill="#e8453a"/><path d="M469.18,241.86 L471.68,237.46 L466.68,237.46Z" fill="#e8453a"/><path d="M506.85,245.52 L509.35,241.12 L504.35,241.12Z" fill="#e8453a"/><path d="M582.20,246.44 L584.70,242.04 L579.70,242.04Z" fill="#e8453a"/><path d="M431.50,155.90 L431.88,168.21 L432.25,178.81 L432.63,187.93 L433.01,195.78 L433.38,202.54 L433.76,208.36 L434.14,213.36 L434.51,217.67 L434.89,221.38 L435.27,224.57 L435.64,227.32 L436.02,229.68 L436.40,231.72 L436.77,233.47 L437.15,234.98 L437.53,236.28 L437.90,237.39 L438.28,238.35 L438.66,239.18 L439.04,239.89 L439.41,240.51 L439.79,241.03 L440.17,241.49 L440.54,241.88 L440.92,242.22 L441.30,242.50 L441.67,242.75 L442.05,242.97 L442.43,243.15 L442.80,243.31 L443.18,243.45 L443.56,243.57 L443.93,243.67 L444.31,243.76 L444.69,243.83 L445.06,243.89 L445.44,243.95 L445.82,244.00 L446.19,244.04 L446.57,244.07 L446.95,244.11 L447.32,244.13 L447.70,244.15 L448.08,244.17 L448.45,244.19 L448.83,244.20 L449.21,244.22 L449.58,244.23 L449.96,244.24 L450.34,244.25 L450.71,244.25 L451.09,244.26 L451.47,244.26 L451.84,244.27 L452.22,244.27 L452.60,244.27 L452.97,244.28 L453.35,244.28 L453.73,244.28 L454.11,244.28 L454.48,244.28 L454.86,244.29 L455.24,244.29 L455.61,244.29 L455.99,244.29 L456.37,244.29 L456.74,244.29 L457.12,244.29 L457.50,244.29 L457.87,244.29 L458.25,244.29 L458.63,244.29 L459.00,244.29 L459.38,244.29 L459.76,244.29 L460.13,244.29 L460.51,244.29 L460.89,244.29 L461.26,244.29 L461.64,244.29 L462.02,244.29 L462.39,244.29 L462.77,244.29 L463.15,244.29 L463.52,244.29 L463.90,244.29 L464.28,244.29 L464.65,244.29 L465.03,244.29 L465.41,244.29 L465.78,244.29 L466.16,244.29 L466.54,244.29 L466.91,244.29 L467.29,244.29 L467.67,244.29 L468.04,244.29 L468.42,244.29 L468.80,244.29 L469.18,244.29 L469.55,244.29 L469.93,244.29 L470.31,244.29 L470.68,244.29 L471.06,244.29 L471.44,244.29 L471.81,244.29 L472.19,244.29 L472.57,244.29 L472.94,244.29 L473.32,244.29 L473.70,244.29 L474.07,244.29 L474.45,244.29 L474.83,244.29 L475.20,244.29 L475.58,244.29 L475.96,244.29 L476.33,244.29 L476.71,244.29 L477.09,244.29 L477.46,244.29 L477.84,244.29 L478.22,244.29 L478.59,244.29 L478.97,244.29 L479.35,244.29 L479.72,244.29 L480.10,244.29 L480.48,244.29 L480.85,244.29 L481.23,244.29 L481.61,244.29 L481.98,244.29 L482.36,244.29 L482.74,244.29 L483.11,244.29 L483.49,244.29 L483.87,244.29 L484.25,244.29 L484.62,244.29 L485.00,244.29 L485.38,244.29 L485.75,244.29 L486.13,244.29 L486.51,244.29 L486.88,244.29 L487.26,244.29 L487.64,244.29 L488.01,244.29 L488.39,244.29 L488.77,244.29 L489.14,244.29 L489.52,244.29 L489.90,244.29 L490.27,244.29 L490.65,244.29 L491.03,244.29 L491.40,244.29 L491.78,244.29 L492.16,244.29 L492.53,244.29 L492.91,244.29 L493.29,244.29 L493.66,244.29 L494.04,244.29 L494.42,244.29 L494.79,244.29 L495.17,244.29 L495.55,244.29 L495.92,244.29 L496.30,244.29 L496.68,244.29 L497.05,244.29 L497.43,244.29 L497.81,244.29 L498.18,244.29 L498.56,244.29 L498.94,244.29 L499.31,244.29 L499.69,244.29 L500.07,244.29 L500.45,244.29 L500.82,244.29 L501.20,244.29 L501.58,244.29 L501.95,244.29 L502.33,244.29 L502.71,244.29 L503.08,244.29 L503.46,244.29 L503.84,244.29 L504.21,244.29 L504.59,244.29 L504.97,244.29 L505.34,244.29 L505.72,244.29 L506.10,244.29 L506.47,244.29 L506.85,244.29 L507.23,244.29 L507.60,244.29 L507.98,244.29 L508.36,244.29 L508.73,244.29 L509.11,244.29 L509.49,244.29 L509.86,244.29 L510.24,244.29 L510.62,244.29 L510.99,244.29 L511.37,244.29 L511.75,244.29 L512.12,244.29 L512.50,244.29 L512.88,244.29 L513.25,244.29 L513.63,244.29 L514.01,244.29 L514.38,244.29 L514.76,244.29 L515.14,244.29 L515.52,244.29 L515.89,244.29 L516.27,244.29 L516.65,244.29 L517.02,244.29 L517.40,244.29 L517.78,244.29 L518.15,244.29 L518.53,244.29 L518.91,244.29 L519.28,244.29 L519.66,244.29 L520.04,244.29 L520.41,244.29 L520.79,244.29 L521.17,244.29 L521.54,244.29 L521.92,244.29 L522.30,244.29 L522.67,244.29 L523.05,244.29 L523.43,244.29 L523.80,244.29 L524.18,244.29 L524.56,244.29 L524.93,244.29 L525.31,244.29 L525.69,244.29 L526.06,244.29 L526.44,244.29 L526.82,244.29 L527.19,244.29 L527.57,244.29 L527.95,244.29 L528.32,244.29 L528.70,244.29 L529.08,244.29 L529.46,244.29 L529.83,244.29 L530.21,244.29 L530.59,244.29 L530.96,244.29 L531.34,244.29 L531.72,244.29 L532.09,244.29 L532.47,244.29 L532.85,244.29 L533.22,244.29 L533.60,244.29 L533.98,244.29 L534.35,244.29 L534.73,244.29 L535.11,244.29 L535.48,244.29 L535.86,244.29 L536.24,244.29 L536.61,244.29 L536.99,244.29 L537.37,244.29 L537.74,244.29 L538.12,244.29 L538.50,244.29 L538.87,244.29 L539.25,244.29 L539.63,244.29 L540.00,244.29 L540.38,244.29 L540.76,244.29 L541.13,244.29 L541.51,244.29 L541.89,244.29 L542.26,244.29 L542.64,244.29 L543.02,244.29 L543.39,244.29 L543.77,244.29 L544.15,244.29 L544.53,244.29 L544.90,244.29 L545.28,244.29 L545.66,244.29 L546.03,244.29 L546.41,244.29 L546.79,244.29 L547.16,244.29 L547.54,244.29 L547.92,244.29 L548.29,244.29 L548.67,244.29 L549.05,244.29 L549.42,244.29 L549.80,244.29 L550.18,244.29 L550.55,244.29 L550.93,244.29 L551.31,244.29 L551.68,244.29 L552.06,244.29 L552.44,244.29 L552.81,244.29 L553.19,244.29 L553.57,244.29 L553.94,244.29 L554.32,244.29 L554.70,244.29 L555.07,244.29 L555.45,244.29 L555.83,244.29 L556.20,244.29 L556.58,244.29 L556.96,244.29 L557.33,244.29 L557.71,244.29 L558.09,244.29 L558.46,244.29 L558.84,244.29 L559.22,244.29 L559.60,244.29 L559.97,244.29 L560.35,244.29 L560.73,244.29 L561.10,244.29 L561.48,244.29 L561.86,244.29 L562.23,244.29 L562.61,244.29 L562.99,244.29 L563.36,244.29 L563.74,244.29 L564.12,244.29 L564.49,244.29 L564.87,244.29 L565.25,244.29 L565.62,244.29 L566.00,244.29 L566.38,244.29 L566.75,244.29 L567.13,244.29 L567.51,244.29 L567.88,244.29 L568.26,244.29 L568.64,244.29 L569.01,244.29 L569.39,244.29 L569.77,244.29 L570.14,244.29 L570.52,244.29 L570.90,244.29 L571.27,244.29 L571.65,244.29 L572.03,244.29 L572.40,244.29 L572.78,244.29 L573.16,244.29 L573.53,244.29 L573.91,244.29 L574.29,244.29 L574.67,244.29 L575.04,244.29 L575.42,244.29 L575.80,244.29 L576.17,244.29 L576.55,244.29 L576.93,244.29 L577.30,244.29 L577.68,244.29 L578.06,244.29 L578.43,244.29 L578.81,244.29 L579.19,244.29 L579.56,244.29 L579.94,244.29 L580.32,244.29 L580.69,244.29 L581.07,244.29 L581.45,244.29 L581.82,244.29 L582.20,244.29" fill="none" stroke="#f6c431" stroke-width="0.75" opacity="0.9"/><path d="M431.50,153.30 L434.00,157.70 L429.00,157.70Z" fill="#f6c431"/><path d="M439.04,239.40 L441.54,243.80 L436.54,243.80Z" fill="#f6c431"/><path d="M469.18,242.15 L471.68,246.55 L466.68,246.55Z" fill="#f6c431"/><path d="M506.85,242.15 L509.35,246.55 L504.35,246.55Z" fill="#f6c431"/><path d="M582.20,242.15 L584.70,246.55 L579.70,246.55Z" fill="#f6c431"/><path d="M431.50,155.90 L431.88,169.28 L432.25,180.68 L432.63,190.40 L433.01,198.68 L433.38,205.74 L433.76,211.75 L434.14,216.87 L434.51,221.24 L434.89,224.96 L435.27,228.13 L435.64,230.83 L436.02,233.13 L436.40,235.09 L436.77,236.77 L437.15,238.19 L437.53,239.40 L437.90,240.44 L438.28,241.32 L438.66,242.07 L439.04,242.71 L439.41,243.26 L439.79,243.72 L440.17,244.12 L440.54,244.46 L440.92,244.74 L441.30,244.99 L441.67,245.20 L442.05,245.38 L442.43,245.53 L442.80,245.66 L443.18,245.77 L443.56,245.86 L443.93,245.94 L444.31,246.01 L444.69,246.07 L445.06,246.12 L445.44,246.16 L445.82,246.19 L446.19,246.22 L446.57,246.25 L446.95,246.27 L447.32,246.29 L447.70,246.31 L448.08,246.32 L448.45,246.33 L448.83,246.34 L449.21,246.35 L449.58,246.36 L449.96,246.37 L450.34,246.37 L450.71,246.37 L451.09,246.38 L451.47,246.38 L451.84,246.38 L452.22,246.39 L452.60,246.39 L452.97,246.39 L453.35,246.39 L453.73,246.39 L454.11,246.39 L454.48,246.40 L454.86,246.40 L455.24,246.40 L455.61,246.40 L455.99,246.40 L456.37,246.40 L456.74,246.40 L457.12,246.40 L457.50,246.40 L457.87,246.40 L458.25,246.40 L458.63,246.40 L459.00,246.40 L459.38,246.40 L459.76,246.40 L460.13,246.40 L460.51,246.40 L460.89,246.40 L461.26,246.40 L461.64,246.40 L462.02,246.40 L462.39,246.40 L462.77,246.40 L463.15,246.40 L463.52,246.40 L463.90,246.40 L464.28,246.40 L464.65,246.40 L465.03,246.40 L465.41,246.40 L465.78,246.40 L466.16,246.40 L466.54,246.40 L466.91,246.40 L467.29,246.40 L467.67,246.40 L468.04,246.40 L468.42,246.40 L468.80,246.40 L469.18,246.40 L469.55,246.40 L469.93,246.40 L470.31,246.40 L470.68,246.40 L471.06,246.40 L471.44,246.40 L471.81,246.40 L472.19,246.40 L472.57,246.40 L472.94,246.40 L473.32,246.40 L473.70,246.40 L474.07,246.40 L474.45,246.40 L474.83,246.40 L475.20,246.40 L475.58,246.40 L475.96,246.40 L476.33,246.40 L476.71,246.40 L477.09,246.40 L477.46,246.40 L477.84,246.40 L478.22,246.40 L478.59,246.40 L478.97,246.40 L479.35,246.40 L479.72,246.40 L480.10,246.40 L480.48,246.40 L480.85,246.40 L481.23,246.40 L481.61,246.40 L481.98,246.40 L482.36,246.40 L482.74,246.40 L483.11,246.40 L483.49,246.40 L483.87,246.40 L484.25,246.40 L484.62,246.40 L485.00,246.40 L485.38,246.40 L485.75,246.40 L486.13,246.40 L486.51,246.40 L486.88,246.40 L487.26,246.40 L487.64,246.40 L488.01,246.40 L488.39,246.40 L488.77,246.40 L489.14,246.40 L489.52,246.40 L489.90,246.40 L490.27,246.40 L490.65,246.40 L491.03,246.40 L491.40,246.40 L491.78,246.40 L492.16,246.40 L492.53,246.40 L492.91,246.40 L493.29,246.40 L493.66,246.40 L494.04,246.40 L494.42,246.40 L494.79,246.40 L495.17,246.40 L495.55,246.40 L495.92,246.40 L496.30,246.40 L496.68,246.40 L497.05,246.40 L497.43,246.40 L497.81,246.40 L498.18,246.40 L498.56,246.40 L498.94,246.40 L499.31,246.40 L499.69,246.40 L500.07,246.40 L500.45,246.40 L500.82,246.40 L501.20,246.40 L501.58,246.40 L501.95,246.40 L502.33,246.40 L502.71,246.40 L503.08,246.40 L503.46,246.40 L503.84,246.40 L504.21,246.40 L504.59,246.40 L504.97,246.40 L505.34,246.40 L505.72,246.40 L506.10,246.40 L506.47,246.40 L506.85,246.40 L507.23,246.40 L507.60,246.40 L507.98,246.40 L508.36,246.40 L508.73,246.40 L509.11,246.40 L509.49,246.40 L509.86,246.40 L510.24,246.40 L510.62,246.40 L510.99,246.40 L511.37,246.40 L511.75,246.40 L512.12,246.40 L512.50,246.40 L512.88,246.40 L513.25,246.40 L513.63,246.40 L514.01,246.40 L514.38,246.40 L514.76,246.40 L515.14,246.40 L515.52,246.40 L515.89,246.40 L516.27,246.40 L516.65,246.40 L517.02,246.40 L517.40,246.40 L517.78,246.40 L518.15,246.40 L518.53,246.40 L518.91,246.40 L519.28,246.40 L519.66,246.40 L520.04,246.40 L520.41,246.40 L520.79,246.40 L521.17,246.40 L521.54,246.40 L521.92,246.40 L522.30,246.40 L522.67,246.40 L523.05,246.40 L523.43,246.40 L523.80,246.40 L524.18,246.40 L524.56,246.40 L524.93,246.40 L525.31,246.40 L525.69,246.40 L526.06,246.40 L526.44,246.40 L526.82,246.40 L527.19,246.40 L527.57,246.40 L527.95,246.40 L528.32,246.40 L528.70,246.40 L529.08,246.40 L529.46,246.40 L529.83,246.40 L530.21,246.40 L530.59,246.40 L530.96,246.40 L531.34,246.40 L531.72,246.40 L532.09,246.40 L532.47,246.40 L532.85,246.40 L533.22,246.40 L533.60,246.40 L533.98,246.40 L534.35,246.40 L534.73,246.40 L535.11,246.40 L535.48,246.40 L535.86,246.40 L536.24,246.40 L536.61,246.40 L536.99,246.40 L537.37,246.40 L537.74,246.40 L538.12,246.40 L538.50,246.40 L538.87,246.40 L539.25,246.40 L539.63,246.40 L540.00,246.40 L540.38,246.40 L540.76,246.40 L541.13,246.40 L541.51,246.40 L541.89,246.40 L542.26,246.40 L542.64,246.40 L543.02,246.40 L543.39,246.40 L543.77,246.40 L544.15,246.40 L544.53,246.40 L544.90,246.40 L545.28,246.40 L545.66,246.40 L546.03,246.40 L546.41,246.40 L546.79,246.40 L547.16,246.40 L547.54,246.40 L547.92,246.40 L548.29,246.40 L548.67,246.40 L549.05,246.40 L549.42,246.40 L549.80,246.40 L550.18,246.40 L550.55,246.40 L550.93,246.40 L551.31,246.40 L551.68,246.40 L552.06,246.40 L552.44,246.40 L552.81,246.40 L553.19,246.40 L553.57,246.40 L553.94,246.40 L554.32,246.40 L554.70,246.40 L555.07,246.40 L555.45,246.40 L555.83,246.40 L556.20,246.40 L556.58,246.40 L556.96,246.40 L557.33,246.40 L557.71,246.40 L558.09,246.40 L558.46,246.40 L558.84,246.40 L559.22,246.40 L559.60,246.40 L559.97,246.40 L560.35,246.40 L560.73,246.40 L561.10,246.40 L561.48,246.40 L561.86,246.40 L562.23,246.40 L562.61,246.40 L562.99,246.40 L563.36,246.40 L563.74,246.40 L564.12,246.40 L564.49,246.40 L564.87,246.40 L565.25,246.40 L565.62,246.40 L566.00,246.40 L566.38,246.40 L566.75,246.40 L567.13,246.40 L567.51,246.40 L567.88,246.40 L568.26,246.40 L568.64,246.40 L569.01,246.40 L569.39,246.40 L569.77,246.40 L570.14,246.40 L570.52,246.40 L570.90,246.40 L571.27,246.40 L571.65,246.40 L572.03,246.40 L572.40,246.40 L572.78,246.40 L573.16,246.40 L573.53,246.40 L573.91,246.40 L574.29,246.40 L574.67,246.40 L575.04,246.40 L575.42,246.40 L575.80,246.40 L576.17,246.40 L576.55,246.40 L576.93,246.40 L577.30,246.40 L577.68,246.40 L578.06,246.40 L578.43,246.40 L578.81,246.40 L579.19,246.40 L579.56,246.40 L579.94,246.40 L580.32,246.40 L580.69,246.40 L581.07,246.40 L581.45,246.40 L581.82,246.40 L582.20,246.40" fill="none" stroke="#77b852" stroke-width="0.75" opacity="0.9"/><circle cx="431.50" cy="155.90" r="2.3" fill="#77b852"/><circle cx="439.04" cy="242.00" r="2.3" fill="#77b852"/><circle cx="469.18" cy="246.58" r="2.3" fill="#77b852"/><circle cx="506.85" cy="246.58" r="2.3" fill="#77b852"/><circle cx="582.20" cy="246.58" r="2.3" fill="#77b852"/><line x1="584.60" y1="153.10" x2="595.60" y2="153.10" stroke="#77b852" stroke-width="0.8" opacity="0.7"/><circle cx="590.10" cy="153.10" r="2.3" fill="#77b852"/><line x1="584.60" y1="167.25" x2="595.60" y2="167.25" stroke="#1fa8e2" stroke-width="0.8" opacity="0.7"/><rect x="587.90" y="165.05" width="4.4" height="4.4" fill="#1fa8e2"/><line x1="584.60" y1="181.40" x2="595.60" y2="181.40" stroke="#f6c431" stroke-width="0.8" opacity="0.7"/><path d="M590.10,178.80 L592.60,183.20 L587.60,183.20Z" fill="#f6c431"/><line x1="584.60" y1="195.55" x2="595.60" y2="195.55" stroke="#e8453a" stroke-width="0.8" opacity="0.7"/><path d="M590.10,198.15 L592.60,193.75 L587.60,193.75Z" fill="#e8453a"/></svg>
<div class="L" style="left:598.80px;top:149.30px;font-size:7.56px;line-height:7.56px;color:#333;transform:scaleX(0.880);">RelA</div>
<div class="L" style="left:598.80px;top:163.45px;font-size:7.56px;line-height:7.56px;color:#333;transform:scaleX(0.880);">Q101R</div>
<div class="L" style="left:598.80px;top:177.60px;font-size:7.56px;line-height:7.56px;color:#333;transform:scaleX(0.880);">Y137C</div>
<div class="L" style="left:598.80px;top:191.75px;font-size:7.56px;line-height:7.56px;color:#333;transform:scaleX(0.880);">Q101R Y137C</div>
<div class="L" style="left:420.50px;top:243.70px;font-size:7.56px;line-height:7.56px;color:#333;transform:scaleX(1.000);">0</div>
<div class="L" style="left:416.29px;top:197.90px;font-size:7.56px;line-height:7.56px;color:#333;transform:scaleX(1.000);">50</div>
<div class="L" style="left:412.09px;top:152.10px;font-size:7.56px;line-height:7.56px;color:#333;transform:scaleX(1.000);">100</div>
<div class="L" style="left:429.40px;top:254.20px;font-size:7.56px;line-height:7.56px;color:#333;transform:scaleX(1.000);">0</div>
<div class="L" style="left:467.07px;top:254.20px;font-size:7.56px;line-height:7.56px;color:#333;transform:scaleX(1.000);">5</div>
<div class="L" style="left:502.65px;top:254.20px;font-size:7.56px;line-height:7.56px;color:#333;transform:scaleX(1.000);">10</div>
<div class="L" style="left:540.32px;top:254.20px;font-size:7.56px;line-height:7.56px;color:#333;transform:scaleX(1.000);">15</div>
<div class="L" style="left:578.00px;top:254.20px;font-size:7.56px;line-height:7.56px;color:#333;transform:scaleX(1.000);">20</div>
<div class="L" style="left:485.76px;top:265.19px;font-size:8.87px;line-height:8.87px;color:#333;transform:scaleX(0.980);">Time (min)</div>
<div class="L" style="left:376.27px;top:197.77px;width:57.67px;font-size:8.87px;line-height:8.87px;color:#333;transform-origin:50% 50%;transform:rotate(-90deg)">Percent bound</div>
</body></html>
